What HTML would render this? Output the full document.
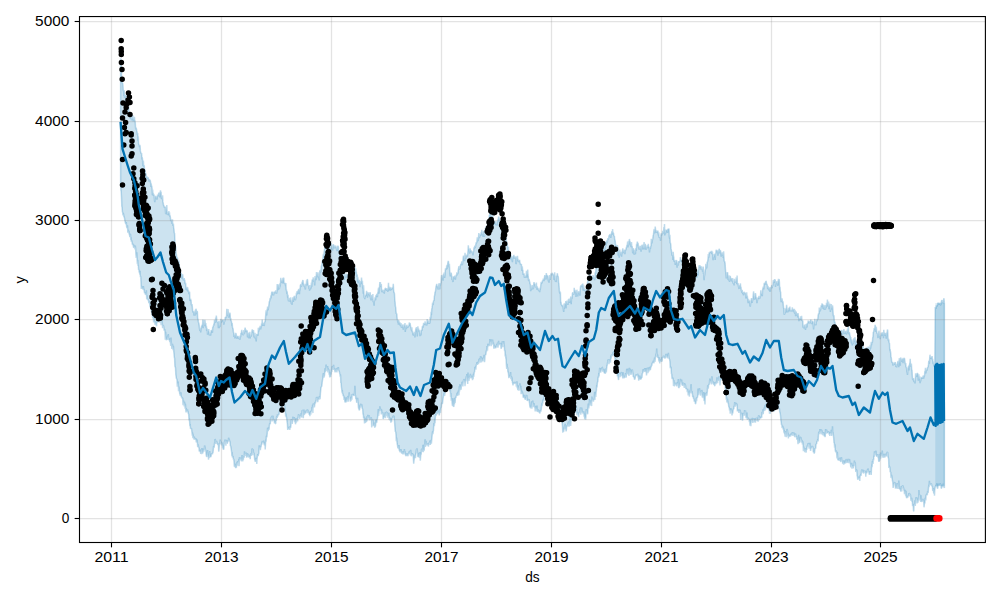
<!DOCTYPE html><html><head><meta charset="utf-8"><title>forecast</title><style>html,body{margin:0;padding:0;background:#fff}body{width:1000px;height:600px;overflow:hidden}</style></head><body><svg width="1000" height="600" viewBox="0 0 1000 600" style="display:block;font-family:'Liberation Sans',sans-serif">
<rect width="1000" height="600" fill="#fff"/>
<defs><clipPath id="c"><rect x="79.50" y="16.55" width="905.90" height="525.95"/></clipPath></defs>
<g clip-path="url(#c)">
<path d="M120.6 58.3L120.9 66.7L121.2 65.8L121.5 74.2L121.8 78.5L122.1 82.3L122.4 83.1L122.7 83.3L123.0 85.7L123.3 91.1L123.6 90.1L123.9 96.0L124.2 90.4L124.5 97.8L124.8 97.0L125.1 94.6L125.4 96.1L125.7 98.5L126.0 95.0L126.3 102.1L126.6 101.5L126.9 103.2L127.2 103.9L127.5 109.2L127.8 105.0L128.1 107.2L128.4 109.7L128.7 105.6L129.0 112.5L129.3 111.5L129.6 115.2L129.9 116.5L130.2 117.0L130.5 118.8L130.8 114.8L131.1 116.4L131.4 120.2L131.7 119.0L132.0 115.1L132.3 119.2L132.6 118.5L132.9 115.3L133.2 121.4L133.5 117.6L133.8 118.7L134.1 121.2L134.4 116.9L134.7 120.2L135.0 120.6L135.3 123.0L135.6 128.2L135.9 129.4L136.2 127.5L136.5 129.5L136.8 131.0L137.1 132.2L137.4 135.0L137.7 133.0L138.0 140.9L138.3 136.4L138.6 143.5L138.9 144.6L139.2 145.0L139.5 147.1L139.8 144.9L140.1 145.9L140.4 150.9L140.7 152.4L141.0 152.9L141.3 153.9L141.6 153.1L141.9 159.4L142.2 157.0L142.5 159.0L142.8 165.7L143.1 165.6L143.4 160.6L143.7 166.6L144.0 165.3L144.3 166.5L144.6 171.6L144.9 169.5L145.2 171.4L145.5 173.6L145.8 173.5L146.1 174.4L146.4 178.1L146.7 176.2L147.0 177.4L147.3 176.9L147.6 178.8L147.9 178.2L148.2 177.5L148.5 179.1L148.8 179.8L149.1 181.7L149.4 179.2L149.7 180.1L150.0 180.3L150.3 180.7L150.6 182.6L150.9 187.0L151.2 183.4L151.5 186.1L151.8 186.2L152.1 188.3L152.4 195.2L152.7 189.6L153.0 195.5L153.3 192.7L153.6 196.0L153.9 194.3L154.2 195.8L154.5 200.3L154.8 202.2L155.1 197.4L155.4 196.5L155.7 196.0L156.0 198.5L156.3 197.0L156.6 197.1L156.9 199.6L157.2 198.0L157.5 194.5L157.8 196.3L158.1 195.8L158.4 195.0L158.7 193.2L159.0 193.1L159.3 192.7L159.6 195.5L159.9 197.5L160.2 192.5L160.5 190.3L160.8 193.6L161.1 191.7L161.4 198.9L161.7 195.4L162.0 199.3L162.3 198.7L162.6 195.3L162.9 201.9L163.2 202.9L163.5 205.1L163.8 205.8L164.1 205.9L164.4 207.7L164.7 207.4L165.0 207.0L165.3 207.0L165.6 213.4L165.9 213.9L166.2 207.5L166.5 211.9L166.8 205.1L167.1 211.5L167.4 214.9L167.7 214.3L168.0 213.3L168.3 212.0L168.6 214.4L168.9 211.0L169.2 215.7L169.5 212.4L169.8 216.7L170.1 215.4L170.4 217.3L170.7 220.8L171.0 219.3L171.3 221.3L171.6 220.5L171.9 223.2L172.2 223.5L172.5 219.2L172.8 225.8L173.1 225.4L173.4 223.6L173.7 228.2L174.0 229.2L174.3 233.2L174.6 233.2L174.9 241.4L175.2 245.3L175.5 247.2L175.8 246.6L176.1 253.5L176.4 254.5L176.7 256.6L177.0 258.4L177.3 257.8L177.6 258.0L177.9 262.8L178.2 262.5L178.5 264.6L178.8 260.3L179.1 262.8L179.4 267.5L179.7 270.3L180.0 272.8L180.3 274.3L180.6 273.5L180.9 272.6L181.2 273.5L181.5 274.0L181.8 278.8L182.1 274.1L182.4 277.8L182.7 274.2L183.0 277.8L183.3 280.5L183.6 278.4L183.9 280.1L184.2 278.0L184.5 280.9L184.8 279.9L185.1 284.3L185.4 282.8L185.7 283.5L186.0 289.9L186.3 287.6L186.6 288.5L186.9 286.7L187.2 290.6L187.5 287.3L187.8 288.5L188.1 291.7L188.4 289.9L188.7 292.5L189.0 294.1L189.3 292.1L189.6 291.7L189.9 301.1L190.2 300.1L190.5 298.7L190.8 299.6L191.1 300.4L191.4 305.3L191.7 304.9L192.0 304.0L192.3 306.5L192.6 310.4L192.9 312.3L193.2 311.0L193.5 312.4L193.8 312.6L194.1 315.8L194.4 311.4L194.7 312.2L195.0 315.8L195.3 309.7L195.6 314.5L195.9 308.8L196.2 309.8L196.5 312.5L196.8 314.0L197.1 311.0L197.4 312.0L197.7 319.4L198.0 318.5L198.3 321.2L198.6 322.9L198.9 323.4L199.2 325.3L199.5 328.6L199.8 330.1L200.1 330.8L200.4 327.7L200.7 332.4L201.0 328.1L201.3 328.4L201.6 325.6L201.9 326.2L202.2 324.6L202.5 325.8L202.8 319.6L203.1 328.1L203.4 326.6L203.7 319.8L204.0 323.1L204.3 325.7L204.6 325.3L204.9 319.8L205.2 322.4L205.5 325.5L205.8 323.1L206.1 327.7L206.4 325.7L206.7 330.9L207.0 328.3L207.3 330.1L207.6 334.6L207.9 333.1L208.2 330.8L208.5 330.9L208.8 329.1L209.1 333.0L209.4 335.5L209.7 334.0L210.0 334.7L210.3 332.2L210.6 335.6L210.9 332.6L211.2 330.2L211.5 331.1L211.8 329.9L212.1 330.7L212.4 332.8L212.7 327.1L213.0 327.3L213.3 325.7L213.6 326.0L213.9 323.5L214.2 324.7L214.5 319.8L214.8 321.4L215.1 323.0L215.4 321.2L215.7 317.6L216.0 321.0L216.3 315.6L216.6 318.1L216.9 321.7L217.2 321.7L217.5 322.9L217.8 322.4L218.1 321.6L218.4 328.3L218.7 322.7L219.0 320.8L219.3 328.2L219.6 325.3L219.9 325.6L220.2 326.8L220.5 323.3L220.8 318.9L221.1 322.8L221.4 320.5L221.7 321.2L222.0 319.9L222.3 320.3L222.6 319.8L222.9 320.4L223.2 322.1L223.5 319.6L223.8 324.7L224.1 322.7L224.4 321.8L224.7 321.4L225.0 319.2L225.3 317.0L225.6 317.1L225.9 317.3L226.2 318.2L226.5 316.4L226.8 308.9L227.1 313.3L227.4 315.5L227.7 314.9L228.0 309.0L228.3 313.4L228.6 317.7L228.9 316.3L229.2 313.7L229.5 314.5L229.8 312.7L230.1 313.6L230.4 318.8L230.7 318.0L231.0 320.7L231.3 320.9L231.6 322.3L231.9 325.7L232.2 323.0L232.5 327.5L232.8 328.1L233.1 328.8L233.4 331.7L233.7 333.2L234.0 337.0L234.3 334.6L234.6 335.1L234.9 338.4L235.2 336.5L235.5 332.8L235.8 336.2L236.1 333.3L236.4 337.1L236.7 338.6L237.0 336.0L237.3 336.9L237.6 336.2L237.9 336.3L238.2 338.6L238.5 336.2L238.8 338.3L239.1 338.6L239.4 336.8L239.7 339.7L240.0 339.0L240.3 335.2L240.6 337.2L240.9 333.0L241.2 333.8L241.5 331.9L241.8 329.9L242.1 333.3L242.4 334.3L242.7 331.5L243.0 335.1L243.3 334.7L243.6 334.4L243.9 330.0L244.2 332.3L244.5 333.6L244.8 329.6L245.1 327.5L245.4 329.5L245.7 331.7L246.0 329.5L246.3 332.2L246.6 330.3L246.9 330.9L247.2 330.5L247.5 337.2L247.8 333.8L248.1 332.9L248.4 338.0L248.7 332.5L249.0 338.4L249.3 332.6L249.6 335.2L249.9 331.9L250.2 338.4L250.5 335.0L250.8 336.9L251.1 335.6L251.4 335.8L251.7 333.6L252.0 330.6L252.3 329.5L252.6 331.1L252.9 332.0L253.2 332.2L253.5 330.0L253.8 334.2L254.1 337.5L254.4 336.5L254.7 335.8L255.0 332.9L255.3 338.7L255.6 338.6L255.9 336.1L256.2 341.4L256.5 336.4L256.8 333.9L257.1 334.6L257.4 334.0L257.7 334.2L258.0 335.8L258.3 327.7L258.6 331.6L258.9 329.8L259.2 328.1L259.5 327.5L259.8 329.4L260.1 325.9L260.4 326.8L260.7 329.5L261.0 326.2L261.3 327.4L261.6 323.3L261.9 324.7L262.2 319.5L262.5 323.7L262.8 324.8L263.1 325.7L263.4 323.9L263.7 322.7L264.0 325.8L264.3 325.4L264.6 322.0L264.9 321.7L265.2 321.9L265.5 317.9L265.8 313.5L266.1 310.4L266.4 312.4L266.7 315.4L267.0 309.3L267.3 309.8L267.6 306.5L267.9 309.9L268.2 309.8L268.5 307.4L268.8 305.5L269.1 303.0L269.4 301.3L269.7 301.1L270.0 298.7L270.3 298.2L270.6 299.3L270.9 295.3L271.2 297.7L271.5 293.8L271.8 292.1L272.1 292.0L272.4 291.8L272.7 293.3L273.0 295.3L273.3 293.7L273.6 295.3L273.9 292.5L274.2 291.7L274.5 292.1L274.8 293.4L275.1 291.3L275.4 293.4L275.7 290.2L276.0 293.2L276.3 291.8L276.6 293.6L276.9 291.7L277.2 284.1L277.5 285.6L277.8 289.9L278.1 289.3L278.4 284.2L278.7 286.2L279.0 288.1L279.3 289.2L279.6 287.7L279.9 283.4L280.2 286.5L280.5 282.5L280.8 277.9L281.1 280.6L281.4 283.0L281.7 279.9L282.0 281.2L282.3 279.5L282.6 283.5L282.9 277.7L283.2 280.7L283.5 278.2L283.8 277.8L284.1 283.5L284.4 283.2L284.7 282.8L285.0 284.1L285.3 282.8L285.6 286.3L285.9 283.1L286.2 290.5L286.5 289.6L286.8 293.7L287.1 291.3L287.4 294.1L287.7 297.7L288.0 294.8L288.3 299.8L288.6 301.4L288.9 300.1L289.2 298.0L289.5 300.9L289.8 301.0L290.1 300.6L290.4 297.4L290.7 300.8L291.0 300.3L291.3 303.8L291.6 300.6L291.9 304.8L292.2 302.8L292.5 297.4L292.8 300.7L293.1 298.2L293.4 301.9L293.7 297.8L294.0 296.9L294.3 296.0L294.6 299.7L294.9 295.9L295.2 299.6L295.5 300.1L295.8 298.1L296.1 297.8L296.4 292.8L296.7 294.9L297.0 291.2L297.3 291.6L297.6 294.0L297.9 290.5L298.2 293.8L298.5 289.5L298.8 289.6L299.1 289.6L299.4 294.1L299.7 288.4L300.0 290.5L300.3 285.8L300.6 284.6L300.9 284.6L301.2 286.7L301.5 286.5L301.8 284.7L302.1 281.9L302.4 283.2L302.7 280.7L303.0 280.2L303.3 282.9L303.6 284.7L303.9 283.8L304.2 286.8L304.5 286.1L304.8 285.3L305.1 287.8L305.4 289.5L305.7 283.8L306.0 285.5L306.3 284.8L306.6 280.4L306.9 285.0L307.2 279.4L307.5 279.6L307.8 282.8L308.1 285.4L308.4 285.7L308.7 286.3L309.0 289.0L309.3 288.4L309.6 290.6L309.9 285.0L310.2 287.1L310.5 289.5L310.8 287.0L311.1 288.5L311.4 282.5L311.7 286.9L312.0 281.2L312.3 279.9L312.6 279.6L312.9 280.8L313.2 277.4L313.5 280.4L313.8 281.6L314.1 279.3L314.4 281.5L314.7 285.4L315.0 275.9L315.3 278.1L315.6 277.4L315.9 280.1L316.2 277.6L316.5 272.1L316.8 275.7L317.1 272.5L317.4 275.8L317.7 276.4L318.0 272.4L318.3 278.2L318.6 276.3L318.9 275.8L319.2 280.4L319.5 277.4L319.8 270.2L320.1 271.9L320.4 272.6L320.7 269.6L321.0 272.0L321.3 265.6L321.6 266.0L321.9 263.9L322.2 261.0L322.5 260.7L322.8 260.0L323.1 256.0L323.4 253.9L323.7 257.9L324.0 252.8L324.3 250.9L324.6 249.1L324.9 247.1L325.2 244.8L325.5 247.1L325.8 248.0L326.1 248.5L326.4 245.4L326.7 248.1L327.0 246.7L327.3 246.6L327.6 246.7L327.9 248.9L328.2 249.5L328.5 249.0L328.8 244.9L329.1 249.9L329.4 245.8L329.7 249.1L330.0 250.2L330.3 249.2L330.6 251.8L330.9 247.9L331.2 243.0L331.5 247.7L331.8 246.6L332.1 249.3L332.4 244.7L332.7 250.5L333.0 246.3L333.3 244.3L333.6 244.8L333.9 247.3L334.2 248.0L334.5 247.6L334.8 245.5L335.1 247.0L335.4 247.9L335.7 245.7L336.0 247.2L336.3 247.8L336.6 249.5L336.9 249.3L337.2 251.0L337.5 246.9L337.8 246.0L338.1 246.1L338.4 247.1L338.7 251.0L339.0 251.4L339.3 251.8L339.6 250.9L339.9 255.1L340.2 256.9L340.5 259.0L340.8 264.5L341.1 267.6L341.4 264.0L341.7 269.7L342.0 268.4L342.3 275.1L342.6 271.5L342.9 272.7L343.2 276.7L343.5 276.8L343.8 277.4L344.1 277.7L344.4 279.9L344.7 271.0L345.0 277.5L345.3 275.6L345.6 274.7L345.9 278.2L346.2 276.5L346.5 273.6L346.8 276.6L347.1 274.2L347.4 275.2L347.7 276.3L348.0 274.0L348.3 274.1L348.6 276.0L348.9 276.4L349.2 276.5L349.5 277.3L349.8 270.6L350.1 271.4L350.4 275.6L350.7 272.0L351.0 272.2L351.3 271.3L351.6 271.3L351.9 275.7L352.2 275.7L352.5 272.8L352.8 267.4L353.1 268.7L353.4 269.8L353.7 271.4L354.0 270.7L354.3 269.1L354.6 271.1L354.9 266.6L355.2 272.2L355.5 273.2L355.8 268.2L356.1 271.6L356.4 272.3L356.7 276.8L357.0 274.7L357.3 275.3L357.6 281.6L357.9 277.3L358.2 283.2L358.5 279.8L358.8 280.9L359.1 279.7L359.4 283.1L359.7 283.7L360.0 287.2L360.3 281.1L360.6 284.4L360.9 281.0L361.2 282.1L361.5 277.5L361.8 280.9L362.1 284.0L362.4 280.7L362.7 288.5L363.0 285.1L363.3 293.7L363.6 285.4L363.9 291.2L364.2 297.8L364.5 297.4L364.8 299.1L365.1 294.8L365.4 296.1L365.7 295.8L366.0 295.2L366.3 293.6L366.6 290.9L366.9 293.8L367.2 293.2L367.5 297.8L367.8 292.8L368.1 292.5L368.4 294.0L368.7 294.3L369.0 294.4L369.3 294.8L369.6 296.3L369.9 292.2L370.2 293.1L370.5 298.2L370.8 298.5L371.1 300.3L371.4 298.0L371.7 295.8L372.0 295.0L372.3 299.7L372.6 299.4L372.9 294.0L373.2 302.3L373.5 300.4L373.8 302.0L374.1 305.6L374.4 300.4L374.7 300.8L375.0 297.7L375.3 297.4L375.6 300.2L375.9 295.3L376.2 296.6L376.5 295.4L376.8 293.9L377.1 295.6L377.4 297.1L377.7 292.5L378.0 292.4L378.3 289.1L378.6 287.6L378.9 293.8L379.2 287.6L379.5 287.6L379.8 282.0L380.1 286.6L380.4 282.1L380.7 286.8L381.0 286.2L381.3 284.1L381.6 290.7L381.9 292.2L382.2 289.7L382.5 290.4L382.8 292.0L383.1 291.5L383.4 292.4L383.7 291.9L384.0 289.7L384.3 293.7L384.6 289.8L384.9 289.8L385.2 288.1L385.5 288.4L385.8 289.0L386.1 288.9L386.4 290.3L386.7 288.1L387.0 290.9L387.3 288.9L387.6 289.0L387.9 291.8L388.2 287.6L388.5 282.9L388.8 290.5L389.1 289.3L389.4 288.3L389.7 287.3L390.0 287.4L390.3 288.1L390.6 290.7L390.9 287.8L391.2 289.0L391.5 289.5L391.8 289.0L392.1 287.5L392.4 288.7L392.7 287.7L393.0 287.0L393.3 283.7L393.6 289.8L393.9 292.7L394.2 292.3L394.5 293.9L394.8 300.0L395.1 301.9L395.4 306.3L395.7 307.4L396.0 311.1L396.3 313.8L396.6 313.5L396.9 314.4L397.2 319.1L397.5 319.8L397.8 322.3L398.1 319.7L398.4 324.8L398.7 320.6L399.0 321.1L399.3 324.4L399.6 322.5L399.9 322.8L400.2 325.3L400.5 325.7L400.8 323.5L401.1 323.3L401.4 327.7L401.7 326.6L402.0 326.5L402.3 327.6L402.6 325.3L402.9 324.5L403.2 329.6L403.5 326.8L403.8 326.5L404.1 327.0L404.4 324.4L404.7 326.1L405.0 323.1L405.3 331.9L405.6 327.1L405.9 326.6L406.2 325.6L406.5 329.3L406.8 324.7L407.1 327.6L407.4 325.7L407.7 327.8L408.0 326.6L408.3 327.1L408.6 325.8L408.9 325.9L409.2 323.1L409.5 322.6L409.8 325.3L410.1 323.2L410.4 325.3L410.7 327.2L411.0 327.3L411.3 330.0L411.6 330.4L411.9 327.2L412.2 332.3L412.5 330.7L412.8 333.7L413.1 335.3L413.4 333.6L413.7 333.5L414.0 332.5L414.3 336.0L414.6 331.9L414.9 337.4L415.2 335.0L415.5 331.4L415.8 328.3L416.1 331.6L416.4 327.0L416.7 329.3L417.0 328.5L417.3 336.5L417.6 330.1L417.9 326.4L418.2 330.1L418.5 328.4L418.8 331.4L419.1 331.3L419.4 329.9L419.7 332.8L420.0 336.1L420.3 332.7L420.6 333.2L420.9 335.5L421.2 330.7L421.5 329.7L421.8 330.8L422.1 329.0L422.4 326.3L422.7 326.1L423.0 327.2L423.3 326.8L423.6 322.7L423.9 325.2L424.2 323.1L424.5 323.7L424.8 324.4L425.1 321.4L425.4 324.8L425.7 324.7L426.0 322.7L426.3 323.6L426.6 325.5L426.9 324.3L427.2 319.1L427.5 322.2L427.8 320.3L428.1 323.9L428.4 322.8L428.7 322.8L429.0 320.6L429.3 323.6L429.6 323.1L429.9 322.9L430.2 316.8L430.5 319.1L430.8 317.4L431.1 311.8L431.4 315.0L431.7 309.3L432.0 307.9L432.3 305.9L432.6 302.5L432.9 304.5L433.2 305.0L433.5 300.8L433.8 300.6L434.1 300.5L434.4 296.0L434.7 295.3L435.0 292.0L435.3 292.0L435.6 290.2L435.9 287.5L436.2 286.3L436.5 284.9L436.8 283.9L437.1 286.8L437.4 286.3L437.7 286.4L438.0 288.7L438.3 289.5L438.6 286.3L438.9 284.0L439.2 283.3L439.5 288.4L439.8 289.3L440.1 283.3L440.4 285.5L440.7 282.8L441.0 283.2L441.3 277.6L441.6 275.1L441.9 279.2L442.2 278.0L442.5 275.4L442.8 278.0L443.1 280.7L443.4 274.6L443.7 273.6L444.0 276.8L444.3 272.4L444.6 278.0L444.9 275.7L445.2 271.8L445.5 268.4L445.8 269.9L446.1 268.0L446.4 268.7L446.7 265.3L447.0 269.1L447.3 265.2L447.6 264.7L447.9 262.3L448.2 260.9L448.5 261.7L448.8 266.1L449.1 267.3L449.4 263.9L449.7 270.3L450.0 273.7L450.3 276.5L450.6 273.4L450.9 273.1L451.2 272.8L451.5 274.8L451.8 277.3L452.1 280.0L452.4 277.7L452.7 281.4L453.0 282.0L453.3 276.3L453.6 277.3L453.9 276.6L454.2 279.2L454.5 277.3L454.8 275.7L455.1 276.5L455.4 279.6L455.7 276.5L456.0 276.4L456.3 274.7L456.6 276.0L456.9 272.2L457.2 274.0L457.5 273.0L457.8 274.2L458.1 271.2L458.4 269.2L458.7 267.7L459.0 266.1L459.3 269.6L459.6 268.5L459.9 269.2L460.2 266.0L460.5 265.5L460.8 264.1L461.1 264.0L461.4 264.9L461.7 261.2L462.0 262.9L462.3 265.2L462.6 263.4L462.9 260.9L463.2 257.3L463.5 255.5L463.8 257.1L464.1 258.1L464.4 260.5L464.7 260.5L465.0 252.8L465.3 258.1L465.6 259.0L465.9 255.3L466.2 255.3L466.5 256.7L466.8 256.7L467.1 254.5L467.4 256.4L467.7 254.3L468.0 250.6L468.3 245.3L468.6 248.6L468.9 249.5L469.2 248.9L469.5 251.1L469.8 253.6L470.1 248.4L470.4 249.8L470.7 251.2L471.0 250.9L471.3 250.5L471.6 252.5L471.9 251.9L472.2 252.1L472.5 253.1L472.8 254.0L473.1 255.2L473.4 252.0L473.7 250.4L474.0 247.3L474.3 248.7L474.6 246.9L474.9 245.6L475.2 248.1L475.5 246.9L475.8 244.3L476.1 242.8L476.4 242.4L476.7 243.1L477.0 240.1L477.3 237.3L477.6 241.2L477.9 240.4L478.2 240.9L478.5 237.9L478.8 233.1L479.1 238.1L479.4 236.3L479.7 237.5L480.0 233.8L480.3 235.2L480.6 234.6L480.9 235.7L481.2 232.1L481.5 234.3L481.8 229.7L482.1 234.3L482.4 233.7L482.7 233.7L483.0 236.8L483.3 235.1L483.6 231.1L483.9 231.5L484.2 236.7L484.5 236.1L484.8 233.9L485.1 233.2L485.4 227.8L485.7 230.3L486.0 231.5L486.3 226.1L486.6 226.9L486.9 230.8L487.2 231.5L487.5 225.1L487.8 222.3L488.1 223.6L488.4 221.4L488.7 222.9L489.0 219.8L489.3 215.1L489.6 215.3L489.9 209.6L490.2 218.8L490.5 212.2L490.8 215.3L491.1 215.7L491.4 216.3L491.7 218.8L492.0 219.0L492.3 215.2L492.6 213.4L492.9 220.1L493.2 219.2L493.5 224.6L493.8 220.9L494.1 222.5L494.4 221.9L494.7 221.9L495.0 224.1L495.3 223.7L495.6 221.2L495.9 224.7L496.2 225.0L496.5 224.0L496.8 222.9L497.1 225.4L497.4 220.7L497.7 222.1L498.0 219.4L498.3 219.2L498.6 216.6L498.9 217.0L499.2 219.0L499.5 218.6L499.8 224.1L500.1 220.6L500.4 223.6L500.7 221.5L501.0 223.4L501.3 226.5L501.6 225.7L501.9 226.6L502.2 227.1L502.5 224.0L502.8 229.1L503.1 229.2L503.4 225.5L503.7 227.7L504.0 225.6L504.3 230.4L504.6 229.2L504.9 231.2L505.2 232.8L505.5 232.8L505.8 234.1L506.1 235.2L506.4 244.3L506.7 240.8L507.0 244.2L507.3 244.5L507.6 247.7L507.9 247.6L508.2 251.9L508.5 246.8L508.8 257.1L509.1 253.1L509.4 254.9L509.7 259.3L510.0 255.1L510.3 259.0L510.6 257.9L510.9 254.3L511.2 258.5L511.5 260.0L511.8 256.4L512.1 257.6L512.4 262.3L512.7 257.0L513.0 258.3L513.3 256.5L513.6 256.1L513.9 254.8L514.2 258.0L514.5 258.5L514.8 256.6L515.1 256.7L515.4 258.4L515.7 257.3L516.0 263.6L516.3 263.7L516.6 259.0L516.9 256.3L517.2 260.2L517.5 255.8L517.8 259.8L518.1 261.4L518.4 259.4L518.7 262.2L519.0 260.3L519.3 261.1L519.6 259.8L519.9 262.2L520.2 262.9L520.5 264.7L520.8 264.5L521.1 264.3L521.4 264.0L521.7 269.6L522.0 270.7L522.3 266.2L522.6 270.0L522.9 270.3L523.2 274.9L523.5 273.8L523.8 273.7L524.1 273.8L524.4 277.7L524.7 276.2L525.0 278.0L525.3 275.7L525.6 277.3L525.9 276.5L526.2 274.4L526.5 270.7L526.8 277.6L527.1 274.1L527.4 275.1L527.7 269.5L528.0 274.7L528.3 276.9L528.6 280.8L528.9 279.4L529.2 279.6L529.5 281.6L529.8 282.2L530.1 283.9L530.4 284.4L530.7 291.1L531.0 289.4L531.3 285.7L531.6 290.0L531.9 288.0L532.2 285.1L532.5 287.2L532.8 289.0L533.1 288.7L533.4 288.6L533.7 284.3L534.0 282.2L534.3 283.5L534.6 284.0L534.9 284.6L535.2 285.4L535.5 287.5L535.8 286.7L536.1 287.4L536.4 282.5L536.7 288.8L537.0 289.3L537.3 286.5L537.6 288.1L537.9 288.4L538.2 288.7L538.5 290.3L538.8 290.7L539.1 290.1L539.4 290.5L539.7 292.2L540.0 287.9L540.3 289.6L540.6 286.5L540.9 284.1L541.2 281.8L541.5 282.7L541.8 283.0L542.1 283.0L542.4 280.6L542.7 281.0L543.0 280.0L543.3 278.6L543.6 280.1L543.9 281.1L544.2 279.0L544.5 277.0L544.8 275.2L545.1 276.3L545.4 275.1L545.7 279.5L546.0 278.5L546.3 273.0L546.6 275.3L546.9 275.2L547.2 275.6L547.5 275.8L547.8 276.1L548.1 278.6L548.4 281.3L548.7 277.7L549.0 282.6L549.3 280.2L549.6 275.1L549.9 278.7L550.2 279.8L550.5 276.9L550.8 275.0L551.1 273.4L551.4 274.9L551.7 274.2L552.0 273.4L552.3 272.8L552.6 275.2L552.9 274.0L553.2 275.4L553.5 274.6L553.8 275.0L554.1 280.0L554.4 275.3L554.7 272.3L555.0 277.3L555.3 281.4L555.6 279.7L555.9 281.8L556.2 281.3L556.5 275.5L556.8 276.5L557.1 274.6L557.4 273.2L557.7 276.5L558.0 276.2L558.3 276.8L558.6 282.5L558.9 283.7L559.2 287.5L559.5 292.4L559.8 291.1L560.1 293.8L560.4 292.1L560.7 303.2L561.0 301.8L561.3 304.9L561.6 304.8L561.9 305.7L562.2 304.8L562.5 306.9L562.8 305.8L563.1 307.1L563.4 309.6L563.7 311.9L564.0 303.5L564.3 308.8L564.6 306.3L564.9 303.2L565.2 304.0L565.5 304.0L565.8 301.0L566.1 308.4L566.4 301.8L566.7 302.6L567.0 300.6L567.3 304.4L567.6 302.8L567.9 304.8L568.2 302.7L568.5 299.0L568.8 302.4L569.1 298.5L569.4 302.8L569.7 302.0L570.0 300.7L570.3 301.7L570.6 298.0L570.9 296.5L571.2 304.1L571.5 298.7L571.8 296.5L572.1 298.8L572.4 293.5L572.7 292.6L573.0 292.7L573.3 294.2L573.6 294.2L573.9 294.5L574.2 287.7L574.5 292.0L574.8 290.1L575.1 290.3L575.4 292.7L575.7 290.9L576.0 297.0L576.3 292.2L576.6 293.4L576.9 289.7L577.2 292.0L577.5 294.0L577.8 296.4L578.1 292.0L578.4 294.2L578.7 292.2L579.0 291.2L579.3 291.9L579.6 293.0L579.9 295.7L580.2 289.8L580.5 286.7L580.8 285.4L581.1 287.1L581.4 285.6L581.7 285.7L582.0 284.5L582.3 287.2L582.6 283.9L582.9 284.1L583.2 290.6L583.5 288.0L583.8 285.3L584.1 290.8L584.4 288.4L584.7 290.8L585.0 289.0L585.3 290.5L585.6 291.6L585.9 293.2L586.2 289.0L586.5 290.4L586.8 289.6L587.1 287.0L587.4 282.8L587.7 281.6L588.0 280.3L588.3 276.1L588.6 280.5L588.9 276.0L589.2 277.9L589.5 272.8L589.8 278.5L590.1 271.8L590.4 280.0L590.7 276.1L591.0 277.5L591.3 275.6L591.6 278.3L591.9 275.5L592.2 279.2L592.5 277.3L592.8 278.9L593.1 275.0L593.4 278.5L593.7 277.9L594.0 277.2L594.3 277.5L594.6 280.2L594.9 278.1L595.2 272.2L595.5 274.0L595.8 271.1L596.1 267.6L596.4 269.5L596.7 267.9L597.0 267.1L597.3 265.5L597.6 263.0L597.9 261.8L598.2 256.4L598.5 256.9L598.8 258.2L599.1 249.9L599.4 250.0L599.7 249.8L600.0 251.7L600.3 250.3L600.6 247.5L600.9 248.5L601.2 247.1L601.5 248.2L601.8 245.3L602.1 250.7L602.4 244.5L602.7 245.2L603.0 248.8L603.3 248.1L603.6 248.3L603.9 248.9L604.2 251.4L604.5 246.5L604.8 249.4L605.1 248.5L605.4 241.8L605.7 246.2L606.0 243.9L606.3 240.8L606.6 243.6L606.9 240.3L607.2 242.7L607.5 241.0L607.8 238.4L608.1 238.6L608.4 239.6L608.7 237.9L609.0 235.6L609.3 235.6L609.6 235.7L609.9 234.2L610.2 234.5L610.5 234.9L610.8 238.0L611.1 234.2L611.4 234.2L611.7 232.5L612.0 231.3L612.3 234.7L612.6 229.1L612.9 233.6L613.2 232.9L613.5 233.1L613.8 235.7L614.1 236.1L614.4 236.0L614.7 239.8L615.0 239.9L615.3 242.1L615.6 245.2L615.9 245.6L616.2 248.8L616.5 244.9L616.8 250.0L617.1 250.3L617.4 245.1L617.7 247.1L618.0 247.7L618.3 255.8L618.6 250.6L618.9 252.6L619.2 257.8L619.5 253.6L619.8 249.6L620.1 252.6L620.4 252.3L620.7 254.7L621.0 254.8L621.3 251.8L621.6 256.6L621.9 251.6L622.2 253.5L622.5 249.9L622.8 248.4L623.1 253.1L623.4 249.8L623.7 253.1L624.0 250.0L624.3 250.1L624.6 251.9L624.9 254.2L625.2 249.7L625.5 250.2L625.8 249.9L626.1 248.5L626.4 247.4L626.7 246.4L627.0 245.0L627.3 245.0L627.6 241.6L627.9 247.3L628.2 245.9L628.5 240.7L628.8 245.4L629.1 243.7L629.4 239.0L629.7 240.7L630.0 241.4L630.3 242.5L630.6 244.0L630.9 246.2L631.2 247.1L631.5 242.0L631.8 246.6L632.1 246.0L632.4 248.1L632.7 253.3L633.0 251.2L633.3 248.5L633.6 248.7L633.9 253.2L634.2 254.6L634.5 249.7L634.8 254.4L635.1 250.6L635.4 254.3L635.7 249.3L636.0 248.2L636.3 250.6L636.6 243.7L636.9 245.3L637.2 242.2L637.5 241.8L637.8 245.4L638.1 243.1L638.4 247.1L638.7 247.4L639.0 248.8L639.3 249.4L639.6 247.9L639.9 246.8L640.2 245.8L640.5 249.6L640.8 248.1L641.1 251.7L641.4 249.5L641.7 246.5L642.0 244.8L642.3 246.9L642.6 244.5L642.9 249.3L643.2 247.0L643.5 249.0L643.8 244.9L644.1 242.1L644.4 249.4L644.7 247.7L645.0 244.7L645.3 243.9L645.6 246.9L645.9 248.8L646.2 249.7L646.5 248.1L646.8 246.6L647.1 247.9L647.4 245.1L647.7 248.1L648.0 247.2L648.3 243.9L648.6 247.1L648.9 246.8L649.2 248.2L649.5 252.4L649.8 249.1L650.1 247.0L650.4 248.8L650.7 245.9L651.0 246.1L651.3 238.9L651.6 241.5L651.9 243.5L652.2 241.0L652.5 239.7L652.8 238.4L653.1 235.7L653.4 234.7L653.7 232.5L654.0 229.7L654.3 229.4L654.6 232.2L654.9 233.3L655.2 226.6L655.5 229.1L655.8 231.3L656.1 232.2L656.4 230.4L656.7 232.6L657.0 232.3L657.3 230.5L657.6 233.1L657.9 230.5L658.2 233.6L658.5 235.7L658.8 232.4L659.1 236.9L659.4 237.7L659.7 237.2L660.0 237.0L660.3 238.1L660.6 240.8L660.9 234.9L661.2 233.5L661.5 235.8L661.8 233.8L662.1 233.5L662.4 234.4L662.7 230.9L663.0 233.5L663.3 231.9L663.6 233.0L663.9 227.0L664.2 231.0L664.5 224.1L664.8 235.4L665.1 229.2L665.4 234.1L665.7 232.9L666.0 231.4L666.3 229.8L666.6 230.6L666.9 230.3L667.2 229.6L667.5 232.9L667.8 229.4L668.1 229.2L668.4 229.1L668.7 229.3L669.0 228.6L669.3 236.7L669.6 238.6L669.9 234.8L670.2 243.1L670.5 242.8L670.8 244.8L671.1 248.9L671.4 250.1L671.7 252.8L672.0 255.1L672.3 255.3L672.6 254.3L672.9 259.9L673.2 251.9L673.5 256.2L673.8 257.1L674.1 261.8L674.4 261.1L674.7 260.4L675.0 260.2L675.3 265.0L675.6 261.5L675.9 263.2L676.2 260.9L676.5 260.1L676.8 261.9L677.1 267.8L677.4 263.7L677.7 262.7L678.0 265.1L678.3 264.9L678.6 261.0L678.9 261.8L679.2 262.7L679.5 261.1L679.8 261.0L680.1 260.9L680.4 257.0L680.7 259.2L681.0 260.2L681.3 260.8L681.6 261.9L681.9 260.0L682.2 262.9L682.5 260.3L682.8 261.1L683.1 262.5L683.4 261.6L683.7 261.0L684.0 262.1L684.3 259.2L684.6 264.6L684.9 264.3L685.2 265.0L685.5 264.1L685.8 266.2L686.1 265.4L686.4 267.0L686.7 265.3L687.0 262.4L687.3 263.6L687.6 265.0L687.9 265.1L688.2 266.9L688.5 264.4L688.8 267.4L689.1 263.0L689.4 266.4L689.7 268.7L690.0 265.3L690.3 262.6L690.6 266.4L690.9 264.2L691.2 261.9L691.5 262.9L691.8 265.9L692.1 268.0L692.4 268.1L692.7 271.4L693.0 272.1L693.3 273.0L693.6 273.2L693.9 276.7L694.2 275.1L694.5 277.1L694.8 273.6L695.1 276.2L695.4 277.3L695.7 274.8L696.0 270.2L696.3 275.9L696.6 277.2L696.9 277.6L697.2 273.4L697.5 272.4L697.8 269.8L698.1 275.5L698.4 269.4L698.7 270.0L699.0 265.4L699.3 267.8L699.6 265.0L699.9 268.0L700.2 266.2L700.5 266.4L700.8 266.8L701.1 269.8L701.4 266.3L701.7 269.8L702.0 269.0L702.3 269.1L702.6 271.7L702.9 268.4L703.2 266.5L703.5 274.0L703.8 273.0L704.1 280.2L704.4 276.4L704.7 274.9L705.0 271.6L705.3 269.7L705.6 269.3L705.9 263.8L706.2 265.1L706.5 268.3L706.8 267.2L707.1 261.8L707.4 262.0L707.7 261.3L708.0 258.6L708.3 254.1L708.6 258.0L708.9 256.2L709.2 252.2L709.5 252.9L709.8 252.9L710.1 251.7L710.4 252.7L710.7 251.6L711.0 252.5L711.3 251.0L711.6 254.0L711.9 250.7L712.2 254.5L712.5 251.7L712.8 255.9L713.1 260.3L713.4 256.2L713.7 257.4L714.0 256.4L714.3 254.0L714.6 255.8L714.9 253.6L715.2 260.0L715.5 254.1L715.8 253.5L716.1 249.8L716.4 250.7L716.7 250.6L717.0 252.3L717.3 250.4L717.6 250.9L717.9 255.8L718.2 249.7L718.5 253.1L718.8 252.2L719.1 248.7L719.4 249.6L719.7 253.5L720.0 250.7L720.3 250.5L720.6 250.9L720.9 254.0L721.2 256.7L721.5 252.4L721.8 254.2L722.1 252.2L722.4 255.8L722.7 255.4L723.0 253.5L723.3 257.9L723.6 251.3L723.9 256.1L724.2 260.9L724.5 261.5L724.8 262.0L725.1 263.2L725.4 268.5L725.7 272.3L726.0 274.3L726.3 278.4L726.6 277.3L726.9 272.4L727.2 273.1L727.5 272.2L727.8 275.0L728.1 279.8L728.4 279.7L728.7 277.1L729.0 275.4L729.3 280.4L729.6 281.8L729.9 279.1L730.2 275.8L730.5 277.3L730.8 280.5L731.1 278.1L731.4 279.6L731.7 278.5L732.0 281.4L732.3 281.3L732.6 278.1L732.9 282.2L733.2 283.6L733.5 282.8L733.8 283.6L734.1 285.5L734.4 278.9L734.7 281.2L735.0 281.9L735.3 280.8L735.6 282.3L735.9 282.0L736.2 277.4L736.5 279.7L736.8 284.1L737.1 275.5L737.4 284.2L737.7 283.6L738.0 283.1L738.3 285.3L738.6 287.0L738.9 288.4L739.2 288.7L739.5 285.1L739.8 286.2L740.1 285.6L740.4 283.4L740.7 288.4L741.0 286.9L741.3 290.2L741.6 291.0L741.9 292.6L742.2 289.9L742.5 293.0L742.8 293.5L743.1 292.0L743.4 295.3L743.7 293.1L744.0 291.9L744.3 292.4L744.6 294.2L744.9 292.9L745.2 293.4L745.5 292.5L745.8 298.4L746.1 297.1L746.4 296.0L746.7 292.4L747.0 298.3L747.3 295.6L747.6 298.3L747.9 299.9L748.2 303.1L748.5 298.8L748.8 300.9L749.1 301.4L749.4 300.4L749.7 301.3L750.0 305.8L750.3 306.6L750.6 303.1L750.9 303.3L751.2 299.8L751.5 298.1L751.8 299.7L752.1 302.8L752.4 301.2L752.7 300.1L753.0 297.4L753.3 294.1L753.6 291.4L753.9 296.4L754.2 295.9L754.5 299.6L754.8 298.4L755.1 297.1L755.4 293.1L755.7 294.5L756.0 297.1L756.3 299.3L756.6 297.1L756.9 303.2L757.2 301.7L757.5 300.1L757.8 298.9L758.1 298.1L758.4 298.0L758.7 297.6L759.0 295.9L759.3 298.5L759.6 298.9L759.9 297.1L760.2 297.4L760.5 295.9L760.8 290.2L761.1 294.1L761.4 293.0L761.7 294.1L762.0 294.8L762.3 296.1L762.6 289.6L762.9 288.3L763.2 287.7L763.5 286.4L763.8 289.5L764.1 283.9L764.4 283.0L764.7 284.3L765.0 282.7L765.3 284.7L765.6 282.1L765.9 281.2L766.2 281.4L766.5 283.7L766.8 284.2L767.1 284.4L767.4 285.5L767.7 289.2L768.0 286.2L768.3 287.8L768.6 288.5L768.9 290.3L769.2 288.4L769.5 287.5L769.8 291.6L770.1 287.0L770.4 291.8L770.7 287.9L771.0 287.4L771.3 288.4L771.6 285.8L771.9 285.4L772.2 288.3L772.5 284.9L772.8 286.3L773.1 282.6L773.4 280.0L773.7 282.6L774.0 282.2L774.3 280.5L774.6 279.1L774.9 281.4L775.2 279.5L775.5 286.9L775.8 284.0L776.1 284.7L776.4 282.2L776.7 282.5L777.0 281.1L777.3 283.5L777.6 282.9L777.9 285.8L778.2 280.8L778.5 278.9L778.8 282.1L779.1 279.0L779.4 282.0L779.7 289.7L780.0 286.8L780.3 291.6L780.6 291.5L780.9 297.5L781.2 302.2L781.5 300.3L781.8 298.3L782.1 299.2L782.4 301.2L782.7 302.3L783.0 301.3L783.3 305.1L783.6 308.0L783.9 308.5L784.2 314.8L784.5 313.9L784.8 314.2L785.1 309.2L785.4 308.5L785.7 312.9L786.0 311.8L786.3 308.7L786.6 304.9L786.9 307.5L787.2 311.8L787.5 309.0L787.8 312.4L788.1 309.5L788.4 310.5L788.7 307.9L789.0 311.5L789.3 307.5L789.6 308.5L789.9 306.6L790.2 311.1L790.5 310.4L790.8 310.4L791.1 310.5L791.4 309.8L791.7 310.8L792.0 311.4L792.3 307.4L792.6 311.4L792.9 308.8L793.2 310.3L793.5 308.9L793.8 310.2L794.1 312.4L794.4 308.7L794.7 313.6L795.0 312.5L795.3 310.2L795.6 316.3L795.9 312.8L796.2 311.5L796.5 314.3L796.8 315.7L797.1 313.7L797.4 313.8L797.7 317.4L798.0 313.1L798.3 315.4L798.6 316.4L798.9 321.2L799.2 319.6L799.5 319.1L799.8 318.3L800.1 318.7L800.4 318.0L800.7 319.8L801.0 316.0L801.3 320.6L801.6 315.9L801.9 320.9L802.2 320.1L802.5 321.2L802.8 320.6L803.1 327.6L803.4 325.3L803.7 327.8L804.0 328.0L804.3 327.5L804.6 324.6L804.9 325.9L805.2 327.1L805.5 329.8L805.8 327.0L806.1 324.0L806.4 324.2L806.7 326.8L807.0 327.4L807.3 324.4L807.6 322.9L807.9 323.1L808.2 320.7L808.5 322.4L808.8 321.0L809.1 323.5L809.4 321.0L809.7 323.0L810.0 322.8L810.3 322.4L810.6 319.8L810.9 320.1L811.2 322.5L811.5 323.4L811.8 323.8L812.1 321.5L812.4 320.9L812.7 321.7L813.0 321.7L813.3 325.7L813.6 329.5L813.9 324.3L814.2 324.9L814.5 322.6L814.8 318.9L815.1 325.2L815.4 323.7L815.7 323.8L816.0 325.3L816.3 322.0L816.6 319.7L816.9 321.5L817.2 319.3L817.5 318.9L817.8 319.4L818.1 315.0L818.4 314.3L818.7 313.3L819.0 314.2L819.3 307.6L819.6 311.8L819.9 310.3L820.2 308.8L820.5 310.4L820.8 307.9L821.1 306.2L821.4 305.1L821.7 306.9L822.0 303.4L822.3 304.7L822.6 304.1L822.9 306.4L823.2 309.0L823.5 306.0L823.8 304.8L824.1 309.8L824.4 309.1L824.7 306.0L825.0 305.3L825.3 309.5L825.6 308.7L825.9 305.1L826.2 307.6L826.5 302.8L826.8 304.4L827.1 306.0L827.4 299.5L827.7 303.5L828.0 305.6L828.3 306.9L828.6 301.6L828.9 309.2L829.2 306.4L829.5 303.5L829.8 306.6L830.1 303.9L830.4 311.9L830.7 309.5L831.0 309.8L831.3 304.0L831.6 309.0L831.9 307.4L832.2 309.3L832.5 305.3L832.8 307.5L833.1 312.2L833.4 316.2L833.7 315.6L834.0 315.5L834.3 321.0L834.6 322.8L834.9 321.6L835.2 323.7L835.5 325.1L835.8 329.6L836.1 327.5L836.4 330.4L836.7 332.1L837.0 333.7L837.3 333.2L837.6 332.2L837.9 335.5L838.2 329.2L838.5 333.2L838.8 334.2L839.1 331.1L839.4 329.7L839.7 337.4L840.0 333.8L840.3 331.5L840.6 332.7L840.9 334.9L841.2 330.6L841.5 330.7L841.8 330.3L842.1 331.2L842.4 334.7L842.7 333.6L843.0 332.0L843.3 333.4L843.6 331.4L843.9 329.2L844.2 331.8L844.5 333.2L844.8 333.8L845.1 332.2L845.4 330.8L845.7 333.0L846.0 332.2L846.3 332.9L846.6 334.5L846.9 330.6L847.2 333.2L847.5 328.9L847.8 332.4L848.1 327.7L848.4 326.5L848.7 334.1L849.0 333.6L849.3 332.1L849.6 333.3L849.9 335.3L850.2 336.0L850.5 338.5L850.8 337.1L851.1 340.5L851.4 343.3L851.7 339.6L852.0 340.3L852.3 345.4L852.6 342.3L852.9 343.7L853.2 343.4L853.5 343.0L853.8 338.3L854.1 341.9L854.4 340.7L854.7 339.4L855.0 337.2L855.3 340.4L855.6 345.8L855.9 341.2L856.2 342.6L856.5 343.0L856.8 343.4L857.1 345.5L857.4 350.3L857.7 348.1L858.0 350.6L858.3 352.1L858.6 353.0L858.9 353.8L859.2 349.8L859.5 354.5L859.8 350.8L860.1 349.2L860.4 346.0L860.7 350.8L861.0 347.2L861.3 348.2L861.6 350.8L861.9 350.0L862.2 347.4L862.5 351.0L862.8 348.2L863.1 345.2L863.4 350.0L863.7 349.5L864.0 353.9L864.3 351.3L864.6 348.9L864.9 349.5L865.2 348.2L865.5 348.8L865.8 351.6L866.1 351.9L866.4 347.3L866.7 352.1L867.0 350.8L867.3 349.4L867.6 349.8L867.9 348.7L868.2 346.6L868.5 352.8L868.8 351.8L869.1 346.9L869.4 349.2L869.7 350.8L870.0 348.8L870.3 344.8L870.6 348.6L870.9 346.1L871.2 341.8L871.5 345.3L871.8 342.1L872.1 342.5L872.4 342.1L872.7 337.7L873.0 336.7L873.3 332.0L873.6 332.1L873.9 330.5L874.2 328.2L874.5 329.1L874.8 328.3L875.1 324.9L875.4 326.4L875.7 330.3L876.0 331.9L876.3 326.9L876.6 330.3L876.9 332.3L877.2 333.8L877.5 333.4L877.8 337.1L878.1 337.9L878.4 335.0L878.7 333.3L879.0 330.6L879.3 335.9L879.6 336.2L879.9 336.6L880.2 339.2L880.5 337.3L880.8 335.8L881.1 334.0L881.4 332.6L881.7 335.9L882.0 332.5L882.3 333.0L882.6 334.0L882.9 334.9L883.2 334.1L883.5 338.2L883.8 329.8L884.1 333.5L884.4 332.6L884.7 334.7L885.0 335.3L885.3 335.1L885.6 333.7L885.9 333.1L886.2 338.6L886.5 334.8L886.8 332.6L887.1 333.2L887.4 329.6L887.7 330.5L888.0 337.3L888.3 340.7L888.6 338.8L888.9 341.0L889.2 342.7L889.5 343.5L889.8 350.4L890.1 349.1L890.4 351.5L890.7 353.0L891.0 357.3L891.3 357.6L891.6 361.3L891.9 362.3L892.2 362.3L892.5 361.8L892.8 364.7L893.1 365.3L893.4 364.6L893.7 364.2L894.0 362.6L894.3 363.6L894.6 364.8L894.9 362.6L895.2 362.2L895.5 363.7L895.8 367.0L896.1 366.2L896.4 365.0L896.7 367.5L897.0 364.1L897.3 365.0L897.6 362.3L897.9 361.6L898.2 361.2L898.5 363.4L898.8 367.3L899.1 360.8L899.4 358.2L899.7 363.3L900.0 361.3L900.3 365.8L900.6 357.5L900.9 358.5L901.2 359.5L901.5 359.5L901.8 361.9L902.1 359.1L902.4 359.0L902.7 359.8L903.0 363.2L903.3 357.8L903.6 359.9L903.9 358.8L904.2 358.3L904.5 358.4L904.8 360.5L905.1 362.4L905.4 364.5L905.7 363.0L906.0 367.0L906.3 367.1L906.6 368.6L906.9 371.3L907.2 372.5L907.5 374.9L907.8 369.7L908.1 368.1L908.4 366.6L908.7 365.6L909.0 370.5L909.3 366.3L909.6 363.9L909.9 363.1L910.2 358.9L910.5 365.0L910.8 366.2L911.1 366.4L911.4 363.6L911.7 370.3L912.0 369.7L912.3 375.1L912.6 379.3L912.9 380.1L913.2 378.6L913.5 378.1L913.8 380.8L914.1 382.1L914.4 380.8L914.7 380.9L915.0 383.4L915.3 381.4L915.6 373.3L915.9 377.2L916.2 373.8L916.5 374.7L916.8 377.0L917.1 373.5L917.4 373.2L917.7 373.6L918.0 374.8L918.3 380.8L918.6 377.0L918.9 374.2L919.2 379.1L919.5 379.0L919.8 376.2L920.1 383.2L920.4 378.7L920.7 381.5L921.0 378.0L921.3 377.7L921.6 377.3L921.9 378.2L922.2 377.6L922.5 378.8L922.8 376.8L923.1 376.4L923.4 375.4L923.7 378.8L924.0 375.6L924.3 376.3L924.6 374.4L924.9 371.0L925.2 371.1L925.5 367.7L925.8 373.4L926.1 370.8L926.4 369.8L926.7 369.8L927.0 370.6L927.3 369.0L927.6 367.2L927.9 367.3L928.2 366.5L928.5 364.4L928.8 360.8L929.1 361.2L929.4 363.6L929.7 358.0L930.0 354.7L930.3 357.4L930.6 358.3L930.9 357.6L931.2 358.9L931.5 356.6L931.8 358.0L932.1 356.1L932.4 360.2L932.7 358.7L933.0 363.7L933.3 361.4L933.6 364.4L933.9 366.3L934.2 364.2L934.5 363.5L934.8 363.7L935.2 306.9L935.6 308.3L936.0 308.6L936.4 305.4L936.8 306.7L937.2 305.1L937.6 305.0L938.0 302.7L938.4 303.4L938.8 304.0L939.2 303.4L939.6 304.9L940.0 302.5L940.4 304.7L940.8 305.2L941.2 302.4L941.6 300.7L942.0 300.1L942.4 302.4L942.8 301.8L943.2 303.2L943.6 299.7L944.0 298.3L944.4 303.6L944.4 488.1L944.0 485.0L943.6 487.3L943.2 483.6L942.8 486.5L942.4 486.5L942.0 485.3L941.6 488.0L941.2 488.5L940.8 484.6L940.4 483.8L940.0 483.9L939.6 484.4L939.2 485.0L938.8 485.9L938.4 483.6L938.0 486.3L937.6 488.7L937.2 487.1L936.8 483.4L936.4 487.0L936.0 485.0L935.6 486.4L935.2 487.1L934.8 489.8L934.5 495.7L934.2 489.7L933.9 493.7L933.6 492.4L933.3 488.1L933.0 489.5L932.7 491.0L932.4 486.0L932.1 486.2L931.8 485.8L931.5 484.0L931.2 483.7L930.9 484.3L930.6 485.3L930.3 483.5L930.0 484.4L929.7 484.6L929.4 480.9L929.1 487.1L928.8 484.7L928.5 488.0L928.2 492.6L927.9 492.5L927.6 491.3L927.3 495.2L927.0 493.3L926.7 495.3L926.4 494.7L926.1 495.0L925.8 500.4L925.5 499.1L925.2 497.7L924.9 503.5L924.6 502.9L924.3 504.7L924.0 507.3L923.7 500.5L923.4 500.5L923.1 500.2L922.8 499.0L922.5 499.8L922.2 501.2L921.9 501.6L921.6 501.6L921.3 500.6L921.0 495.3L920.7 502.0L920.4 499.5L920.1 499.5L919.8 494.5L919.5 494.9L919.2 495.5L918.9 490.0L918.6 501.0L918.3 498.2L918.0 502.7L917.7 500.1L917.4 499.6L917.1 503.4L916.8 497.4L916.5 498.2L916.2 499.8L915.9 497.2L915.6 500.8L915.3 506.0L915.0 500.4L914.7 503.8L914.4 505.0L914.1 503.9L913.8 511.1L913.5 511.0L913.2 505.2L912.9 505.2L912.6 506.2L912.3 501.4L912.0 501.9L911.7 497.7L911.4 498.6L911.1 501.0L910.8 499.2L910.5 494.7L910.2 495.1L909.9 494.6L909.6 493.6L909.3 493.0L909.0 496.5L908.7 493.4L908.4 496.4L908.1 495.5L907.8 497.3L907.5 497.5L907.2 496.3L906.9 497.7L906.6 498.1L906.3 496.3L906.0 490.9L905.7 496.1L905.4 493.4L905.1 489.7L904.8 492.0L904.5 494.2L904.2 490.6L903.9 490.5L903.6 487.6L903.3 488.6L903.0 485.7L902.7 486.0L902.4 485.7L902.1 486.7L901.8 491.4L901.5 486.7L901.2 486.4L900.9 491.7L900.6 490.4L900.3 488.8L900.0 489.2L899.7 489.0L899.4 488.9L899.1 486.0L898.8 480.5L898.5 486.6L898.2 486.9L897.9 489.0L897.6 483.2L897.3 485.4L897.0 483.0L896.7 485.9L896.4 487.7L896.1 488.6L895.8 487.2L895.5 488.6L895.2 484.3L894.9 482.4L894.6 482.6L894.3 483.3L894.0 483.9L893.7 484.0L893.4 486.2L893.1 488.0L892.8 482.0L892.5 481.1L892.2 478.5L891.9 476.6L891.6 474.8L891.3 477.6L891.0 477.8L890.7 471.7L890.4 472.1L890.1 471.6L889.8 466.5L889.5 468.1L889.2 465.5L888.9 468.1L888.6 458.8L888.3 457.4L888.0 457.0L887.7 452.5L887.4 452.2L887.1 452.4L886.8 455.9L886.5 456.2L886.2 454.0L885.9 453.6L885.6 454.9L885.3 455.8L885.0 456.7L884.7 457.5L884.4 453.8L884.1 455.5L883.8 455.8L883.5 453.8L883.2 457.8L882.9 457.0L882.6 455.3L882.3 450.5L882.0 455.9L881.7 455.1L881.4 453.1L881.1 454.5L880.8 458.5L880.5 452.5L880.2 459.5L879.9 454.0L879.6 460.6L879.3 461.0L879.0 461.6L878.7 461.1L878.4 457.7L878.1 457.9L877.8 454.0L877.5 457.0L877.2 454.1L876.9 456.2L876.6 456.2L876.3 456.3L876.0 450.7L875.7 452.9L875.4 455.1L875.1 451.9L874.8 453.6L874.5 451.4L874.2 457.0L873.9 455.7L873.6 460.5L873.3 459.1L873.0 463.9L872.7 462.6L872.4 461.1L872.1 467.1L871.8 464.6L871.5 468.4L871.2 475.0L870.9 471.9L870.6 471.4L870.3 473.1L870.0 471.1L869.7 473.2L869.4 474.8L869.1 473.6L868.8 471.9L868.5 471.3L868.2 468.5L867.9 470.2L867.6 469.7L867.3 470.2L867.0 472.7L866.7 472.8L866.4 473.5L866.1 471.6L865.8 476.6L865.5 471.2L865.2 473.1L864.9 470.7L864.6 471.4L864.3 471.0L864.0 471.3L863.7 472.0L863.4 473.5L863.1 471.6L862.8 469.7L862.5 472.0L862.2 472.3L861.9 469.5L861.6 470.4L861.3 472.8L861.0 475.9L860.7 474.9L860.4 475.5L860.1 476.0L859.8 480.9L859.5 477.9L859.2 477.6L858.9 478.8L858.6 476.5L858.3 479.3L858.0 477.7L857.7 479.8L857.4 476.0L857.1 476.4L856.8 469.8L856.5 470.0L856.2 471.3L855.9 472.0L855.6 469.2L855.3 463.1L855.0 462.9L854.7 463.6L854.4 460.6L854.1 465.1L853.8 465.9L853.5 465.7L853.2 468.5L852.9 466.3L852.6 466.8L852.3 464.9L852.0 468.8L851.7 462.9L851.4 464.9L851.1 465.4L850.8 467.3L850.5 464.4L850.2 463.2L849.9 463.2L849.6 459.2L849.3 462.2L849.0 461.2L848.7 458.8L848.4 463.3L848.1 458.9L847.8 461.0L847.5 462.7L847.2 461.6L846.9 460.9L846.6 462.9L846.3 459.6L846.0 459.6L845.7 463.5L845.4 460.7L845.1 463.5L844.8 463.1L844.5 463.1L844.2 463.9L843.9 460.4L843.6 464.7L843.3 461.0L843.0 463.0L842.7 463.7L842.4 460.9L842.1 461.2L841.8 461.1L841.5 457.2L841.2 459.3L840.9 461.5L840.6 461.5L840.3 460.0L840.0 457.5L839.7 460.8L839.4 459.3L839.1 458.8L838.8 459.8L838.5 460.5L838.2 459.4L837.9 460.2L837.6 456.8L837.3 451.8L837.0 458.5L836.7 453.7L836.4 451.8L836.1 450.4L835.8 451.8L835.5 451.7L835.2 449.6L834.9 444.3L834.6 447.7L834.3 442.6L834.0 443.2L833.7 438.4L833.4 435.3L833.1 432.3L832.8 434.7L832.5 426.2L832.2 432.6L831.9 433.4L831.6 436.0L831.3 429.8L831.0 433.2L830.7 433.4L830.4 432.6L830.1 432.4L829.8 436.0L829.5 433.1L829.2 434.8L828.9 431.8L828.6 431.8L828.3 432.4L828.0 432.7L827.7 433.1L827.4 432.4L827.1 432.7L826.8 430.8L826.5 429.6L826.2 432.7L825.9 433.8L825.6 429.0L825.3 435.8L825.0 437.0L824.7 435.7L824.4 436.5L824.1 434.2L823.8 433.3L823.5 432.2L823.2 434.8L822.9 435.3L822.6 432.3L822.3 433.5L822.0 431.6L821.7 430.0L821.4 434.5L821.1 429.3L820.8 430.7L820.5 430.4L820.2 433.5L819.9 429.0L819.6 434.2L819.3 431.7L819.0 432.3L818.7 432.6L818.4 436.3L818.1 441.4L817.8 439.2L817.5 440.5L817.2 441.6L816.9 441.4L816.6 444.0L816.3 444.0L816.0 444.4L815.7 448.1L815.4 448.8L815.1 448.0L814.8 450.4L814.5 452.8L814.2 453.6L813.9 451.9L813.6 452.2L813.3 452.3L813.0 448.0L812.7 446.5L812.4 447.3L812.1 445.8L811.8 448.0L811.5 447.0L811.2 447.9L810.9 449.0L810.6 450.8L810.3 448.0L810.0 442.8L809.7 445.0L809.4 444.5L809.1 448.6L808.8 443.1L808.5 444.0L808.2 444.6L807.9 443.4L807.6 447.2L807.3 445.3L807.0 447.4L806.7 450.0L806.4 449.4L806.1 452.6L805.8 448.3L805.5 449.2L805.2 451.4L804.9 452.1L804.6 449.9L804.3 448.8L804.0 448.8L803.7 446.6L803.4 451.1L803.1 444.5L802.8 441.4L802.5 444.6L802.2 442.0L801.9 439.8L801.6 440.3L801.3 442.7L801.0 437.4L800.7 439.7L800.4 436.7L800.1 439.6L799.8 441.1L799.5 441.6L799.2 443.2L798.9 441.1L798.6 434.9L798.3 442.4L798.0 444.1L797.7 439.6L797.4 438.6L797.1 439.7L796.8 438.7L796.5 436.1L796.2 437.3L795.9 436.2L795.6 433.5L795.3 434.7L795.0 435.1L794.7 437.1L794.4 434.7L794.1 435.0L793.8 432.3L793.5 433.8L793.2 434.6L792.9 435.8L792.6 433.1L792.3 432.2L792.0 434.8L791.7 433.9L791.4 434.4L791.1 435.5L790.8 433.6L790.5 436.6L790.2 434.7L789.9 436.5L789.6 436.3L789.3 435.4L789.0 435.0L788.7 435.3L788.4 438.5L788.1 432.9L787.8 436.4L787.5 430.3L787.2 430.5L786.9 429.0L786.6 432.1L786.3 437.3L786.0 433.4L785.7 431.1L785.4 432.4L785.1 436.8L784.8 433.8L784.5 433.8L784.2 429.9L783.9 432.8L783.6 427.9L783.3 429.7L783.0 427.5L782.7 426.0L782.4 427.6L782.1 427.9L781.8 424.6L781.5 424.9L781.2 422.0L780.9 420.6L780.6 416.5L780.3 414.0L780.0 412.7L779.7 411.7L779.4 408.3L779.1 408.7L778.8 408.7L778.5 408.0L778.2 405.2L777.9 403.8L777.6 403.5L777.3 403.8L777.0 404.5L776.7 404.7L776.4 403.3L776.1 403.4L775.8 401.9L775.5 405.3L775.2 404.0L774.9 406.4L774.6 405.9L774.3 406.7L774.0 411.7L773.7 406.6L773.4 406.0L773.1 410.0L772.8 410.6L772.5 409.8L772.2 408.0L771.9 411.2L771.6 409.2L771.3 410.4L771.0 408.2L770.7 407.5L770.4 410.0L770.1 414.0L769.8 407.2L769.5 413.7L769.2 409.1L768.9 410.1L768.6 409.6L768.3 405.0L768.0 408.8L767.7 407.4L767.4 405.9L767.1 406.8L766.8 405.2L766.5 403.5L766.2 407.8L765.9 404.0L765.6 409.8L765.3 407.6L765.0 405.4L764.7 410.9L764.4 407.5L764.1 409.2L763.8 410.5L763.5 410.9L763.2 414.3L762.9 409.3L762.6 411.6L762.3 414.6L762.0 412.1L761.7 417.6L761.4 417.3L761.1 417.0L760.8 418.4L760.5 417.9L760.2 418.3L759.9 418.2L759.6 416.1L759.3 420.1L759.0 416.4L758.7 415.3L758.4 416.8L758.1 421.7L757.8 418.5L757.5 420.7L757.2 420.9L756.9 417.6L756.6 418.8L756.3 417.9L756.0 420.7L755.7 419.4L755.4 422.7L755.1 418.2L754.8 420.7L754.5 418.9L754.2 422.5L753.9 419.5L753.6 418.7L753.3 419.4L753.0 418.3L752.7 423.0L752.4 417.9L752.1 421.8L751.8 419.5L751.5 420.0L751.2 418.5L750.9 426.1L750.6 422.4L750.3 424.0L750.0 425.6L749.7 419.7L749.4 422.2L749.1 419.4L748.8 419.0L748.5 418.5L748.2 419.1L747.9 417.4L747.6 418.6L747.3 419.7L747.0 412.5L746.7 418.2L746.4 417.1L746.1 418.1L745.8 415.4L745.5 410.5L745.2 411.1L744.9 412.7L744.6 410.1L744.3 414.6L744.0 415.7L743.7 413.8L743.4 413.3L743.1 413.6L742.8 418.3L742.5 420.7L742.2 418.0L741.9 413.2L741.6 413.1L741.3 415.3L741.0 413.6L740.7 419.9L740.4 411.7L740.1 409.8L739.8 410.5L739.5 410.6L739.2 411.6L738.9 412.9L738.6 409.3L738.3 411.1L738.0 410.7L737.7 410.2L737.4 411.4L737.1 404.7L736.8 403.7L736.5 405.7L736.2 402.9L735.9 405.3L735.6 402.8L735.3 406.6L735.0 403.7L734.7 402.1L734.4 407.3L734.1 405.8L733.8 409.3L733.5 408.9L733.2 409.6L732.9 412.1L732.6 413.5L732.3 413.0L732.0 415.4L731.7 410.8L731.4 410.4L731.1 408.4L730.8 410.0L730.5 409.9L730.2 413.6L729.9 408.0L729.6 410.6L729.3 407.8L729.0 407.2L728.7 406.3L728.4 403.3L728.1 403.3L727.8 402.0L727.5 398.8L727.2 402.2L726.9 401.8L726.6 397.1L726.3 399.8L726.0 395.3L725.7 394.6L725.4 390.4L725.1 387.1L724.8 382.3L724.5 380.9L724.2 380.3L723.9 377.4L723.6 377.0L723.3 375.3L723.0 380.0L722.7 377.0L722.4 376.8L722.1 377.9L721.8 380.3L721.5 377.9L721.2 379.4L720.9 379.8L720.6 379.5L720.3 379.8L720.0 385.5L719.7 378.8L719.4 376.5L719.1 376.7L718.8 377.7L718.5 380.8L718.2 380.5L717.9 379.1L717.6 383.3L717.3 379.0L717.0 377.4L716.7 380.4L716.4 383.7L716.1 382.3L715.8 384.5L715.5 382.5L715.2 382.1L714.9 385.9L714.6 385.8L714.3 382.6L714.0 384.5L713.7 384.3L713.4 381.8L713.1 384.2L712.8 381.1L712.5 382.7L712.2 378.1L711.9 376.5L711.6 378.0L711.3 384.4L711.0 380.7L710.7 381.1L710.4 382.5L710.1 380.7L709.8 378.6L709.5 382.6L709.2 384.7L708.9 384.3L708.6 385.0L708.3 388.7L708.0 387.0L707.7 385.4L707.4 390.8L707.1 393.3L706.8 395.6L706.5 393.0L706.2 393.0L705.9 396.2L705.6 394.2L705.3 392.7L705.0 404.5L704.7 399.4L704.4 400.8L704.1 401.0L703.8 392.1L703.5 396.0L703.2 398.0L702.9 397.3L702.6 394.5L702.3 397.5L702.0 391.0L701.7 390.1L701.4 394.6L701.1 391.5L700.8 391.4L700.5 395.8L700.2 390.7L699.9 393.2L699.6 388.2L699.3 390.8L699.0 391.1L698.7 394.3L698.4 395.0L698.1 388.5L697.8 394.6L697.5 397.5L697.2 397.6L696.9 397.1L696.6 401.3L696.3 397.7L696.0 402.1L695.7 403.7L695.4 403.9L695.1 401.6L694.8 401.1L694.5 401.5L694.2 401.1L693.9 398.7L693.6 399.0L693.3 395.9L693.0 396.5L692.7 397.3L692.4 393.8L692.1 391.4L691.8 391.5L691.5 393.4L691.2 384.2L690.9 386.1L690.6 389.2L690.3 391.8L690.0 393.1L689.7 390.6L689.4 396.8L689.1 393.6L688.8 391.8L688.5 393.0L688.2 395.4L687.9 391.7L687.6 388.8L687.3 392.2L687.0 389.5L686.7 388.8L686.4 389.3L686.1 388.2L685.8 388.8L685.5 385.3L685.2 384.5L684.9 385.0L684.6 383.0L684.3 387.9L684.0 383.9L683.7 386.1L683.4 382.8L683.1 383.0L682.8 383.4L682.5 385.7L682.2 384.8L681.9 384.5L681.6 379.5L681.3 383.2L681.0 381.2L680.7 382.0L680.4 378.8L680.1 384.0L679.8 386.8L679.5 382.9L679.2 387.5L678.9 387.6L678.6 388.0L678.3 379.1L678.0 385.0L677.7 382.7L677.4 383.2L677.1 384.4L676.8 386.4L676.5 383.7L676.2 382.7L675.9 385.5L675.6 383.2L675.3 383.8L675.0 383.0L674.7 383.5L674.4 386.5L674.1 383.1L673.8 380.0L673.5 386.0L673.2 379.3L672.9 377.6L672.6 378.6L672.3 378.9L672.0 378.4L671.7 374.3L671.4 373.4L671.1 368.0L670.8 366.8L670.5 368.3L670.2 367.5L669.9 361.5L669.6 359.6L669.3 358.6L669.0 358.5L668.7 356.1L668.4 352.8L668.1 355.8L667.8 356.0L667.5 358.3L667.2 357.1L666.9 356.6L666.6 353.8L666.3 357.2L666.0 353.9L665.7 355.0L665.4 357.6L665.1 358.3L664.8 358.1L664.5 357.1L664.2 357.6L663.9 356.7L663.6 355.6L663.3 356.6L663.0 357.8L662.7 357.6L662.4 358.1L662.1 361.5L661.8 357.2L661.5 361.9L661.2 359.4L660.9 361.4L660.6 361.3L660.3 360.3L660.0 360.2L659.7 363.5L659.4 357.3L659.1 361.6L658.8 360.2L658.5 358.0L658.2 357.5L657.9 357.9L657.6 354.5L657.3 356.9L657.0 356.7L656.7 348.5L656.4 354.1L656.1 353.6L655.8 355.2L655.5 356.7L655.2 359.7L654.9 362.0L654.6 357.5L654.3 360.2L654.0 362.8L653.7 363.0L653.4 360.7L653.1 363.0L652.8 362.0L652.5 363.5L652.2 362.8L651.9 365.7L651.6 365.1L651.3 366.6L651.0 367.1L650.7 367.4L650.4 369.9L650.1 369.6L649.8 366.9L649.5 370.6L649.2 369.6L648.9 369.2L648.6 371.9L648.3 367.2L648.0 373.1L647.7 367.8L647.4 370.4L647.1 367.7L646.8 371.9L646.5 375.5L646.2 368.2L645.9 369.0L645.6 372.1L645.3 371.1L645.0 371.6L644.7 368.1L644.4 369.9L644.1 371.4L643.8 371.3L643.5 371.7L643.2 369.1L642.9 372.1L642.6 373.4L642.3 373.2L642.0 377.8L641.7 377.4L641.4 377.9L641.1 379.4L640.8 378.4L640.5 379.2L640.2 379.3L639.9 375.6L639.6 379.0L639.3 379.4L639.0 379.3L638.7 380.6L638.4 375.2L638.1 377.8L637.8 374.2L637.5 374.0L637.2 375.8L636.9 375.2L636.6 374.4L636.3 375.5L636.0 375.1L635.7 374.9L635.4 376.6L635.1 378.6L634.8 378.9L634.5 379.7L634.2 377.1L633.9 377.4L633.6 376.7L633.3 376.9L633.0 373.8L632.7 372.3L632.4 370.0L632.1 369.6L631.8 371.6L631.5 374.5L631.2 371.9L630.9 374.8L630.6 372.2L630.3 368.9L630.0 373.2L629.7 371.4L629.4 367.7L629.1 375.8L628.8 375.1L628.5 373.3L628.2 368.6L627.9 370.6L627.6 370.2L627.3 374.2L627.0 373.6L626.7 368.9L626.4 375.0L626.1 377.6L625.8 374.7L625.5 373.2L625.2 376.0L624.9 377.7L624.6 376.7L624.3 378.2L624.0 376.6L623.7 378.5L623.4 376.4L623.1 372.4L622.8 378.5L622.5 376.5L622.2 375.3L621.9 375.5L621.6 372.1L621.3 373.0L621.0 373.3L620.7 376.3L620.4 373.2L620.1 377.3L619.8 372.6L619.5 374.7L619.2 372.9L618.9 373.9L618.6 380.0L618.3 378.7L618.0 376.1L617.7 375.6L617.4 376.4L617.1 373.2L616.8 369.5L616.5 369.6L616.2 368.8L615.9 364.8L615.6 361.4L615.3 366.1L615.0 358.7L614.7 357.2L614.4 353.8L614.1 354.6L613.8 351.1L613.5 353.9L613.2 355.5L612.9 352.4L612.6 356.3L612.3 354.5L612.0 354.8L611.7 354.5L611.4 355.6L611.1 358.6L610.8 355.6L610.5 362.6L610.2 359.9L609.9 359.6L609.6 360.3L609.3 361.6L609.0 364.1L608.7 359.2L608.4 360.0L608.1 359.7L607.8 361.9L607.5 363.0L607.2 365.3L606.9 366.5L606.6 369.1L606.3 372.4L606.0 369.3L605.7 368.5L605.4 373.7L605.1 373.1L604.8 373.1L604.5 373.0L604.2 372.8L603.9 368.9L603.6 369.9L603.3 371.2L603.0 371.9L602.7 369.9L602.4 367.4L602.1 367.2L601.8 370.7L601.5 369.0L601.2 368.0L600.9 372.1L600.6 372.2L600.3 370.8L600.0 369.1L599.7 367.8L599.4 371.5L599.1 376.4L598.8 373.0L598.5 378.0L598.2 376.5L597.9 381.4L597.6 381.9L597.3 383.5L597.0 387.5L596.7 385.4L596.4 390.3L596.1 392.1L595.8 396.9L595.5 392.4L595.2 394.7L594.9 399.9L594.6 391.9L594.3 399.5L594.0 399.8L593.7 399.6L593.4 401.6L593.1 398.8L592.8 399.5L592.5 400.7L592.2 398.5L591.9 396.6L591.6 406.1L591.3 402.4L591.0 400.3L590.7 402.6L590.4 403.6L590.1 404.7L589.8 405.5L589.5 399.4L589.2 404.6L588.9 407.7L588.6 408.4L588.3 403.5L588.0 408.5L587.7 414.1L587.4 413.4L587.1 412.9L586.8 410.9L586.5 410.5L586.2 409.3L585.9 417.2L585.6 419.6L585.3 417.3L585.0 417.5L584.7 419.1L584.4 413.5L584.1 416.8L583.8 411.4L583.5 412.8L583.2 414.1L582.9 411.4L582.6 412.6L582.3 412.4L582.0 409.9L581.7 407.6L581.4 412.0L581.1 411.3L580.8 414.7L580.5 407.3L580.2 409.3L579.9 410.3L579.6 412.7L579.3 412.6L579.0 413.1L578.7 417.1L578.4 416.1L578.1 413.3L577.8 414.1L577.5 411.9L577.2 412.8L576.9 415.1L576.6 409.7L576.3 406.2L576.0 412.9L575.7 410.4L575.4 407.6L575.1 409.4L574.8 409.4L574.5 410.3L574.2 415.7L573.9 412.8L573.6 411.9L573.3 416.0L573.0 417.5L572.7 417.8L572.4 416.8L572.1 414.2L571.8 421.3L571.5 419.2L571.2 417.5L570.9 423.4L570.6 425.9L570.3 420.3L570.0 413.5L569.7 422.2L569.4 425.0L569.1 426.1L568.8 426.4L568.5 421.3L568.2 424.8L567.9 422.6L567.6 425.5L567.3 425.2L567.0 426.8L566.7 425.6L566.4 429.7L566.1 431.3L565.8 428.6L565.5 429.3L565.2 423.7L564.9 426.4L564.6 425.7L564.3 429.8L564.0 428.8L563.7 431.8L563.4 431.4L563.1 427.5L562.8 432.6L562.5 426.0L562.2 423.6L561.9 419.9L561.6 418.1L561.3 421.7L561.0 415.5L560.7 418.7L560.4 411.9L560.1 412.3L559.8 415.4L559.5 414.7L559.2 408.3L558.9 405.6L558.6 405.8L558.3 408.9L558.0 405.7L557.7 401.5L557.4 402.8L557.1 402.5L556.8 399.5L556.5 402.1L556.2 400.9L555.9 402.1L555.6 401.3L555.3 400.2L555.0 399.8L554.7 398.5L554.4 402.1L554.1 395.6L553.8 399.8L553.5 395.7L553.2 400.7L552.9 396.8L552.6 397.6L552.3 399.3L552.0 400.1L551.7 396.0L551.4 400.7L551.1 398.2L550.8 398.8L550.5 400.3L550.2 402.3L549.9 398.8L549.6 401.0L549.3 404.1L549.0 405.3L548.7 404.4L548.4 404.1L548.1 401.0L547.8 400.8L547.5 397.9L547.2 397.4L546.9 394.7L546.6 392.4L546.3 394.0L546.0 392.6L545.7 393.8L545.4 390.2L545.1 394.0L544.8 390.5L544.5 391.6L544.2 396.8L543.9 401.1L543.6 399.2L543.3 399.6L543.0 400.3L542.7 403.7L542.4 402.6L542.1 406.3L541.8 403.5L541.5 406.9L541.2 409.7L540.9 411.1L540.6 411.4L540.3 409.8L540.0 412.9L539.7 413.4L539.4 412.1L539.1 410.6L538.8 412.2L538.5 411.4L538.2 409.3L537.9 411.2L537.6 412.0L537.3 410.0L537.0 405.5L536.7 411.5L536.4 408.5L536.1 408.6L535.8 408.7L535.5 405.9L535.2 411.5L534.9 407.8L534.6 407.0L534.3 405.4L534.0 403.2L533.7 404.0L533.4 407.2L533.1 405.3L532.8 400.6L532.5 403.3L532.2 401.8L531.9 408.6L531.6 401.2L531.3 407.6L531.0 406.2L530.7 408.3L530.4 406.0L530.1 407.6L529.8 406.2L529.5 403.0L529.2 401.4L528.9 399.1L528.6 399.6L528.3 400.6L528.0 399.1L527.7 400.5L527.4 400.4L527.1 401.0L526.8 395.0L526.5 398.3L526.2 394.7L525.9 399.0L525.6 397.6L525.3 399.8L525.0 398.3L524.7 398.5L524.4 397.3L524.1 394.9L523.8 397.7L523.5 397.0L523.2 397.7L522.9 394.1L522.6 393.5L522.3 391.5L522.0 393.8L521.7 390.4L521.4 392.2L521.1 394.1L520.8 385.9L520.5 388.4L520.2 390.4L519.9 383.4L519.6 385.1L519.3 385.8L519.0 386.2L518.7 390.7L518.4 386.5L518.1 388.4L517.8 390.1L517.5 385.3L517.2 388.3L516.9 381.3L516.6 382.6L516.3 386.6L516.0 382.2L515.7 383.2L515.4 383.5L515.1 381.8L514.8 383.4L514.5 382.0L514.2 383.1L513.9 383.7L513.6 383.6L513.3 382.3L513.0 385.4L512.7 383.4L512.4 382.3L512.1 377.6L511.8 380.9L511.5 376.2L511.2 376.8L510.9 379.3L510.6 372.1L510.3 376.3L510.0 375.7L509.7 377.0L509.4 375.8L509.1 377.7L508.8 377.6L508.5 374.0L508.2 371.6L507.9 372.4L507.6 367.6L507.3 367.4L507.0 363.7L506.7 369.0L506.4 365.4L506.1 359.5L505.8 358.0L505.5 354.5L505.2 356.4L504.9 350.3L504.6 351.1L504.3 345.2L504.0 345.1L503.7 341.1L503.4 344.6L503.1 343.4L502.8 347.3L502.5 341.3L502.2 342.1L501.9 344.6L501.6 345.8L501.3 348.7L501.0 347.9L500.7 343.4L500.4 343.4L500.1 344.1L499.8 343.3L499.5 343.8L499.2 344.6L498.9 344.8L498.6 340.7L498.3 344.4L498.0 347.6L497.7 343.1L497.4 342.7L497.1 347.4L496.8 344.3L496.5 345.0L496.2 347.3L495.9 347.1L495.6 348.3L495.3 347.3L495.0 348.2L494.7 345.5L494.4 348.6L494.1 344.5L493.8 348.7L493.5 342.6L493.2 343.9L492.9 344.0L492.6 339.6L492.3 341.1L492.0 344.7L491.7 339.5L491.4 341.1L491.1 346.3L490.8 341.4L490.5 342.3L490.2 341.1L489.9 339.1L489.6 343.9L489.3 345.9L489.0 344.4L488.7 346.4L488.4 345.4L488.1 344.0L487.8 344.4L487.5 350.6L487.2 347.2L486.9 346.0L486.6 351.6L486.3 350.5L486.0 353.7L485.7 355.1L485.4 354.9L485.1 355.3L484.8 360.0L484.5 362.2L484.2 354.8L483.9 356.4L483.6 359.2L483.3 357.3L483.0 360.5L482.7 361.2L482.4 359.6L482.1 359.6L481.8 357.7L481.5 362.4L481.2 356.6L480.9 361.8L480.6 356.2L480.3 358.8L480.0 362.8L479.7 358.2L479.4 361.3L479.1 359.1L478.8 359.8L478.5 364.2L478.2 361.8L477.9 362.5L477.6 363.7L477.3 364.9L477.0 362.1L476.7 364.1L476.4 364.5L476.1 366.4L475.8 369.8L475.5 366.2L475.2 369.2L474.9 367.1L474.6 372.0L474.3 372.2L474.0 374.5L473.7 376.8L473.4 373.7L473.1 379.2L472.8 376.1L472.5 380.2L472.2 375.8L471.9 377.7L471.6 377.8L471.3 375.5L471.0 378.4L470.7 376.8L470.4 373.9L470.1 375.9L469.8 376.2L469.5 376.9L469.2 378.7L468.9 380.8L468.6 378.0L468.3 378.0L468.0 372.6L467.7 384.0L467.4 380.5L467.1 377.6L466.8 374.0L466.5 378.8L466.2 376.2L465.9 380.5L465.6 380.5L465.3 382.0L465.0 386.1L464.7 379.5L464.4 382.5L464.1 379.7L463.8 379.1L463.5 380.4L463.2 381.5L462.9 386.5L462.6 383.9L462.3 382.8L462.0 381.7L461.7 384.8L461.4 384.7L461.1 389.8L460.8 385.4L460.5 390.0L460.2 388.9L459.9 384.4L459.6 391.5L459.3 386.4L459.0 395.3L458.7 393.8L458.4 390.5L458.1 392.7L457.8 395.7L457.5 392.4L457.2 396.0L456.9 393.4L456.6 396.1L456.3 395.5L456.0 397.7L455.7 397.5L455.4 398.5L455.1 402.9L454.8 397.7L454.5 404.5L454.2 403.2L453.9 406.5L453.6 406.7L453.3 403.5L453.0 398.3L452.7 405.9L452.4 405.3L452.1 403.4L451.8 398.1L451.5 399.0L451.2 400.7L450.9 393.0L450.6 396.9L450.3 388.6L450.0 391.4L449.7 390.8L449.4 387.5L449.1 383.7L448.8 380.2L448.5 385.5L448.2 385.8L447.9 385.8L447.6 383.5L447.3 384.1L447.0 388.1L446.7 387.3L446.4 384.7L446.1 389.9L445.8 389.8L445.5 392.0L445.2 391.4L444.9 393.7L444.6 395.8L444.3 392.6L444.0 393.7L443.7 395.3L443.4 396.7L443.1 398.4L442.8 400.7L442.5 403.3L442.2 404.0L441.9 403.0L441.6 403.4L441.3 407.4L441.0 407.6L440.7 408.7L440.4 412.9L440.1 409.7L439.8 410.3L439.5 413.6L439.2 415.4L438.9 411.0L438.6 412.7L438.3 412.9L438.0 411.9L437.7 409.7L437.4 414.1L437.1 413.6L436.8 412.7L436.5 410.3L436.2 415.6L435.9 415.1L435.6 414.1L435.3 417.9L435.0 423.2L434.7 418.5L434.4 426.2L434.1 423.5L433.8 423.9L433.5 430.3L433.2 431.7L432.9 434.1L432.6 431.4L432.3 433.8L432.0 437.1L431.7 439.9L431.4 443.8L431.1 440.0L430.8 441.3L430.5 443.7L430.2 444.9L429.9 440.5L429.6 442.8L429.3 442.5L429.0 443.4L428.7 444.2L428.4 446.6L428.1 443.4L427.8 445.6L427.5 444.1L427.2 444.0L426.9 444.2L426.6 445.4L426.3 442.5L426.0 440.9L425.7 445.5L425.4 446.8L425.1 439.4L424.8 443.3L424.5 444.6L424.2 450.6L423.9 449.8L423.6 449.5L423.3 452.1L423.0 444.9L422.7 448.3L422.4 451.8L422.1 450.5L421.8 449.0L421.5 449.4L421.2 454.6L420.9 453.8L420.6 457.0L420.3 460.7L420.0 452.0L419.7 458.0L419.4 455.2L419.1 452.8L418.8 455.6L418.5 457.2L418.2 456.6L417.9 457.0L417.6 453.4L417.3 450.8L417.0 448.3L416.7 449.6L416.4 449.4L416.1 452.8L415.8 453.8L415.5 458.3L415.2 454.7L414.9 457.4L414.6 457.2L414.3 458.6L414.0 460.8L413.7 463.8L413.4 458.7L413.1 454.6L412.8 454.3L412.5 453.5L412.2 455.5L411.9 453.2L411.6 454.2L411.3 456.3L411.0 452.9L410.7 449.7L410.4 455.4L410.1 450.5L409.8 452.9L409.5 453.9L409.2 451.4L408.9 453.6L408.6 453.8L408.3 453.0L408.0 456.1L407.7 455.4L407.4 454.3L407.1 454.5L406.8 454.4L406.5 453.4L406.2 456.2L405.9 455.4L405.6 455.4L405.3 454.4L405.0 451.2L404.7 453.6L404.4 449.1L404.1 452.8L403.8 452.5L403.5 454.4L403.2 451.1L402.9 454.2L402.6 453.3L402.3 451.5L402.0 452.4L401.7 453.7L401.4 452.1L401.1 449.4L400.8 451.7L400.5 449.1L400.2 452.4L399.9 451.4L399.6 450.9L399.3 450.2L399.0 445.1L398.7 448.8L398.4 448.3L398.1 445.1L397.8 448.2L397.5 445.2L397.2 444.0L396.9 441.7L396.6 437.6L396.3 441.3L396.0 435.0L395.7 431.7L395.4 431.8L395.1 429.6L394.8 425.8L394.5 421.0L394.2 417.8L393.9 415.8L393.6 416.2L393.3 418.4L393.0 415.9L392.7 417.6L392.4 417.7L392.1 418.4L391.8 419.4L391.5 421.9L391.2 420.2L390.9 422.7L390.6 418.3L390.3 421.0L390.0 417.5L389.7 418.4L389.4 417.9L389.1 419.8L388.8 412.9L388.5 416.3L388.2 416.4L387.9 417.8L387.6 413.1L387.3 412.1L387.0 416.3L386.7 412.2L386.4 411.9L386.1 412.8L385.8 412.7L385.5 418.2L385.2 412.4L384.9 416.3L384.6 416.3L384.3 417.5L384.0 416.2L383.7 416.9L383.4 418.5L383.1 418.9L382.8 412.3L382.5 413.7L382.2 412.4L381.9 414.1L381.6 409.5L381.3 414.5L381.0 408.8L380.7 410.8L380.4 409.2L380.1 408.5L379.8 406.3L379.5 410.8L379.2 410.7L378.9 413.1L378.6 415.8L378.3 409.0L378.0 414.8L377.7 416.5L377.4 418.7L377.1 419.4L376.8 422.3L376.5 422.4L376.2 422.7L375.9 419.8L375.6 425.3L375.3 426.8L375.0 425.6L374.7 427.8L374.4 422.5L374.1 423.2L373.8 425.9L373.5 424.6L373.2 426.0L372.9 419.9L372.6 420.5L372.3 420.2L372.0 422.0L371.7 427.5L371.4 417.7L371.1 417.7L370.8 418.5L370.5 420.2L370.2 418.1L369.9 418.5L369.6 420.4L369.3 416.1L369.0 415.4L368.7 416.2L368.4 418.3L368.1 418.1L367.8 414.8L367.5 420.6L367.2 416.1L366.9 417.7L366.6 421.8L366.3 421.6L366.0 419.0L365.7 417.7L365.4 423.0L365.1 421.9L364.8 420.2L364.5 423.5L364.2 416.5L363.9 417.7L363.6 418.5L363.3 413.9L363.0 414.6L362.7 409.5L362.4 408.4L362.1 408.3L361.8 404.3L361.5 405.4L361.2 407.3L360.9 405.5L360.6 403.7L360.3 407.8L360.0 404.7L359.7 409.1L359.4 410.1L359.1 410.1L358.8 408.6L358.5 408.1L358.2 404.2L357.9 402.0L357.6 397.8L357.3 399.8L357.0 402.1L356.7 402.8L356.4 399.7L356.1 398.0L355.8 399.2L355.5 395.3L355.2 395.3L354.9 385.7L354.6 391.7L354.3 395.1L354.0 395.8L353.7 395.4L353.4 394.9L353.1 394.9L352.8 393.9L352.5 395.2L352.2 394.0L351.9 399.6L351.6 397.5L351.3 396.7L351.0 401.0L350.7 399.1L350.4 401.7L350.1 397.5L349.8 396.7L349.5 395.7L349.2 392.3L348.9 397.7L348.6 398.5L348.3 401.8L348.0 396.3L347.7 396.6L347.4 400.0L347.1 399.3L346.8 400.8L346.5 402.0L346.2 397.4L345.9 401.8L345.6 402.5L345.3 401.1L345.0 402.5L344.7 400.1L344.4 396.7L344.1 399.9L343.8 396.4L343.5 395.6L343.2 396.2L342.9 393.6L342.6 394.5L342.3 390.1L342.0 392.6L341.7 389.2L341.4 387.0L341.1 382.7L340.8 382.9L340.5 374.6L340.2 376.6L339.9 374.2L339.6 373.2L339.3 371.3L339.0 371.4L338.7 369.9L338.4 367.0L338.1 370.1L337.8 367.7L337.5 370.4L337.2 369.3L336.9 372.4L336.6 368.6L336.3 368.2L336.0 371.8L335.7 369.0L335.4 369.5L335.1 372.5L334.8 370.6L334.5 369.2L334.2 368.1L333.9 369.8L333.6 364.8L333.3 366.6L333.0 369.3L332.7 369.3L332.4 366.5L332.1 366.8L331.8 371.9L331.5 369.5L331.2 374.6L330.9 372.5L330.6 377.0L330.3 376.7L330.0 374.4L329.7 377.5L329.4 371.7L329.1 374.8L328.8 369.3L328.5 371.0L328.2 368.4L327.9 372.4L327.6 366.1L327.3 369.0L327.0 370.8L326.7 366.6L326.4 368.6L326.1 364.5L325.8 368.7L325.5 372.2L325.2 371.6L324.9 368.2L324.6 374.4L324.3 376.3L324.0 376.5L323.7 377.8L323.4 373.1L323.1 375.3L322.8 378.6L322.5 380.1L322.2 382.4L321.9 385.3L321.6 386.7L321.3 386.8L321.0 387.7L320.7 390.4L320.4 393.8L320.1 398.7L319.8 398.8L319.5 396.4L319.2 397.1L318.9 399.6L318.6 399.0L318.3 397.9L318.0 400.3L317.7 402.1L317.4 398.1L317.1 396.9L316.8 397.9L316.5 397.2L316.2 399.9L315.9 401.2L315.6 402.4L315.3 403.6L315.0 401.8L314.7 404.9L314.4 407.3L314.1 404.2L313.8 404.8L313.5 404.8L313.2 403.5L312.9 413.1L312.6 404.9L312.3 408.7L312.0 407.1L311.7 411.7L311.4 411.1L311.1 410.6L310.8 414.7L310.5 411.5L310.2 412.3L309.9 416.1L309.6 414.3L309.3 414.9L309.0 413.2L308.7 413.0L308.4 411.3L308.1 410.8L307.8 413.3L307.5 409.3L307.2 410.7L306.9 410.4L306.6 410.1L306.3 412.7L306.0 410.6L305.7 413.6L305.4 412.8L305.1 413.4L304.8 411.5L304.5 414.6L304.2 414.5L303.9 409.6L303.6 411.8L303.3 418.3L303.0 414.7L302.7 410.1L302.4 410.6L302.1 410.6L301.8 416.2L301.5 417.5L301.2 413.0L300.9 416.2L300.6 416.1L300.3 415.6L300.0 416.8L299.7 419.0L299.4 416.1L299.1 415.8L298.8 415.2L298.5 414.3L298.2 417.4L297.9 417.9L297.6 421.5L297.3 419.5L297.0 418.5L296.7 418.2L296.4 422.8L296.1 418.2L295.8 421.9L295.5 424.3L295.2 420.8L294.9 418.4L294.6 422.1L294.3 417.0L294.0 419.4L293.7 418.2L293.4 420.2L293.1 416.9L292.8 417.4L292.5 421.0L292.2 424.0L291.9 419.7L291.6 420.5L291.3 419.0L291.0 424.7L290.7 427.3L290.4 427.8L290.1 427.5L289.8 429.9L289.5 427.1L289.2 426.9L288.9 427.8L288.6 428.5L288.3 429.2L288.0 427.0L287.7 429.9L287.4 424.0L287.1 422.2L286.8 419.6L286.5 416.9L286.2 417.2L285.9 413.6L285.6 416.4L285.3 409.8L285.0 408.9L284.7 407.1L284.4 404.8L284.1 402.6L283.8 402.1L283.5 405.6L283.2 397.4L282.9 403.1L282.6 404.2L282.3 407.7L282.0 405.5L281.7 407.1L281.4 406.6L281.1 408.2L280.8 409.8L280.5 411.8L280.2 409.2L279.9 408.7L279.6 410.6L279.3 412.1L279.0 414.2L278.7 414.8L278.4 414.6L278.1 415.2L277.8 416.7L277.5 414.2L277.2 417.9L276.9 416.6L276.6 416.8L276.3 421.0L276.0 420.2L275.7 423.6L275.4 423.7L275.1 421.2L274.8 422.7L274.5 423.3L274.2 420.9L273.9 420.5L273.6 419.0L273.3 419.4L273.0 415.8L272.7 416.4L272.4 418.8L272.1 421.5L271.8 415.8L271.5 417.1L271.2 418.8L270.9 417.8L270.6 418.3L270.3 424.2L270.0 423.6L269.7 423.5L269.4 425.2L269.1 429.1L268.8 429.7L268.5 427.2L268.2 431.2L267.9 429.6L267.6 427.9L267.3 432.6L267.0 436.4L266.7 437.4L266.4 435.8L266.1 441.7L265.8 439.6L265.5 444.1L265.2 449.5L264.9 442.0L264.6 445.5L264.3 444.4L264.0 444.3L263.7 440.6L263.4 443.0L263.1 442.6L262.8 443.1L262.5 441.1L262.2 441.8L261.9 442.6L261.6 444.8L261.3 444.7L261.0 447.5L260.7 446.4L260.4 450.2L260.1 446.5L259.8 447.5L259.5 449.5L259.2 445.3L258.9 453.2L258.6 453.6L258.3 455.5L258.0 455.7L257.7 454.2L257.4 456.4L257.1 458.8L256.8 463.9L256.5 458.4L256.2 458.9L255.9 457.9L255.6 460.6L255.3 461.7L255.0 460.6L254.7 459.7L254.4 456.8L254.1 453.1L253.8 453.0L253.5 453.4L253.2 449.3L252.9 455.1L252.6 450.2L252.3 448.4L252.0 449.3L251.7 453.9L251.4 455.9L251.1 453.2L250.8 456.0L250.5 455.2L250.2 459.2L249.9 456.9L249.6 456.9L249.3 455.9L249.0 457.8L248.7 454.2L248.4 455.0L248.1 456.9L247.8 456.0L247.5 453.2L247.2 456.8L246.9 456.6L246.6 457.6L246.3 452.5L246.0 455.8L245.7 453.2L245.4 453.5L245.1 453.8L244.8 455.8L244.5 451.3L244.2 457.8L243.9 456.9L243.6 456.6L243.3 460.1L243.0 458.8L242.7 461.4L242.4 459.5L242.1 455.1L241.8 457.7L241.5 461.4L241.2 459.3L240.9 459.0L240.6 457.7L240.3 458.5L240.0 460.0L239.7 459.6L239.4 457.2L239.1 466.2L238.8 459.1L238.5 462.6L238.2 461.1L237.9 465.7L237.6 461.0L237.3 462.9L237.0 463.3L236.7 462.3L236.4 467.6L236.1 467.2L235.8 468.1L235.5 467.2L235.2 464.4L234.9 464.1L234.6 466.6L234.3 466.3L234.0 461.7L233.7 458.8L233.4 459.7L233.1 456.0L232.8 456.4L232.5 457.6L232.2 452.3L231.9 456.1L231.6 451.8L231.3 449.8L231.0 448.1L230.7 446.2L230.4 446.0L230.1 442.7L229.8 441.2L229.5 440.7L229.2 439.0L228.9 440.4L228.6 437.7L228.3 441.5L228.0 441.0L227.7 441.2L227.4 443.2L227.1 443.5L226.8 440.4L226.5 443.1L226.2 439.7L225.9 445.7L225.6 439.8L225.3 441.4L225.0 439.7L224.7 441.6L224.4 441.8L224.1 445.2L223.8 449.4L223.5 449.3L223.2 449.5L222.9 445.3L222.6 448.2L222.3 443.9L222.0 442.8L221.7 445.3L221.4 442.4L221.1 443.8L220.8 441.2L220.5 441.2L220.2 439.6L219.9 444.5L219.6 443.1L219.3 445.6L219.0 450.1L218.7 451.6L218.4 443.7L218.1 444.3L217.8 445.1L217.5 444.0L217.2 443.1L216.9 442.8L216.6 440.8L216.3 441.8L216.0 443.0L215.7 443.7L215.4 440.0L215.1 439.0L214.8 441.9L214.5 443.7L214.2 447.6L213.9 447.1L213.6 446.0L213.3 449.9L213.0 452.8L212.7 452.6L212.4 454.3L212.1 453.4L211.8 454.0L211.5 453.6L211.2 455.4L210.9 457.1L210.6 456.2L210.3 457.1L210.0 457.0L209.7 451.0L209.4 453.2L209.1 458.3L208.8 456.3L208.5 459.7L208.2 455.7L207.9 456.1L207.6 450.1L207.3 454.7L207.0 454.9L206.7 457.0L206.4 456.1L206.1 453.9L205.8 450.6L205.5 449.6L205.2 448.2L204.9 446.8L204.6 445.5L204.3 450.2L204.0 449.0L203.7 451.8L203.4 448.5L203.1 451.4L202.8 452.8L202.5 453.6L202.2 450.5L201.9 448.1L201.6 454.3L201.3 449.3L201.0 449.9L200.7 454.0L200.4 451.6L200.1 451.5L199.8 450.4L199.5 451.4L199.2 451.0L198.9 447.2L198.6 447.4L198.3 445.3L198.0 444.6L197.7 447.2L197.4 442.9L197.1 440.1L196.8 439.9L196.5 442.3L196.2 441.7L195.9 438.3L195.6 438.7L195.3 439.9L195.0 438.8L194.7 438.6L194.4 436.9L194.1 439.6L193.8 436.4L193.5 438.6L193.2 434.5L192.9 437.9L192.6 432.6L192.3 435.6L192.0 432.9L191.7 430.3L191.4 428.1L191.1 428.8L190.8 428.0L190.5 428.9L190.2 424.1L189.9 426.2L189.6 422.0L189.3 418.0L189.0 420.4L188.7 413.9L188.4 414.2L188.1 411.8L187.8 410.9L187.5 409.5L187.2 412.5L186.9 410.6L186.6 412.1L186.3 408.1L186.0 412.5L185.7 408.5L185.4 403.7L185.1 408.6L184.8 403.8L184.5 401.9L184.2 406.5L183.9 402.5L183.6 400.5L183.3 403.1L183.0 405.2L182.7 397.9L182.4 398.8L182.1 398.1L181.8 396.8L181.5 397.5L181.2 396.3L180.9 392.3L180.6 394.7L180.3 395.9L180.0 394.4L179.7 393.7L179.4 391.1L179.1 386.6L178.8 387.2L178.5 391.2L178.2 381.4L177.9 384.1L177.6 382.4L177.3 386.6L177.0 380.0L176.7 378.6L176.4 378.7L176.1 376.7L175.8 374.6L175.5 367.8L175.2 367.0L174.9 366.2L174.6 358.5L174.3 357.2L174.0 354.0L173.7 350.9L173.4 345.7L173.1 350.2L172.8 346.6L172.5 343.8L172.2 347.1L171.9 349.0L171.6 345.3L171.3 342.1L171.0 337.5L170.7 346.0L170.4 342.2L170.1 338.2L169.8 342.2L169.5 340.0L169.2 340.1L168.9 339.4L168.6 337.6L168.3 334.0L168.0 339.9L167.7 335.8L167.4 337.0L167.1 339.6L166.8 338.8L166.5 340.0L166.2 339.6L165.9 337.7L165.6 331.9L165.3 339.6L165.0 332.2L164.7 329.0L164.4 330.7L164.1 329.8L163.8 327.5L163.5 325.7L163.2 325.7L162.9 324.9L162.6 328.2L162.3 323.3L162.0 319.4L161.7 319.0L161.4 321.3L161.1 325.1L160.8 321.8L160.5 315.9L160.2 319.0L159.9 318.2L159.6 318.2L159.3 322.8L159.0 315.4L158.7 319.6L158.4 321.9L158.1 317.3L157.8 318.3L157.5 319.3L157.2 322.7L156.9 318.8L156.6 326.3L156.3 324.6L156.0 324.2L155.7 321.3L155.4 324.3L155.1 324.8L154.8 322.4L154.5 321.4L154.2 321.4L153.9 316.8L153.6 322.5L153.3 313.5L153.0 315.9L152.7 318.1L152.4 315.1L152.1 315.0L151.8 312.4L151.5 312.2L151.2 308.2L150.9 308.7L150.6 307.9L150.3 304.4L150.0 307.3L149.7 303.5L149.4 302.5L149.1 301.1L148.8 303.3L148.5 300.1L148.2 300.5L147.9 298.9L147.6 299.8L147.3 298.0L147.0 295.4L146.7 299.3L146.4 290.4L146.1 294.2L145.8 293.4L145.5 295.0L145.2 292.8L144.9 292.4L144.6 293.3L144.3 291.7L144.0 288.9L143.7 290.2L143.4 286.0L143.1 289.4L142.8 288.8L142.5 288.4L142.2 287.1L141.9 288.2L141.6 285.8L141.3 289.0L141.0 282.7L140.7 276.2L140.4 277.2L140.1 270.8L139.8 274.7L139.5 272.4L139.2 272.5L138.9 269.6L138.6 270.0L138.3 265.4L138.0 266.0L137.7 259.8L137.4 264.1L137.1 260.2L136.8 252.4L136.5 256.9L136.2 258.0L135.9 254.7L135.6 248.3L135.3 245.6L135.0 249.3L134.7 246.8L134.4 247.4L134.1 244.8L133.8 247.5L133.5 247.4L133.2 244.7L132.9 243.8L132.6 245.2L132.3 243.9L132.0 242.1L131.7 240.4L131.4 242.0L131.1 237.2L130.8 240.1L130.5 234.3L130.2 234.3L129.9 237.2L129.6 235.3L129.3 234.5L129.0 231.0L128.7 233.5L128.4 229.7L128.1 231.5L127.8 232.6L127.5 225.3L127.2 228.2L126.9 227.7L126.6 226.6L126.3 222.1L126.0 224.4L125.7 223.4L125.4 223.0L125.1 221.4L124.8 220.5L124.5 218.2L124.2 216.9L123.9 216.8L123.6 214.7L123.3 213.2L123.0 215.3L122.7 212.4L122.4 211.8L122.1 207.7L121.8 206.3L121.5 197.4L121.2 191.5L120.9 190.3L120.6 184.8Z" fill="#0072B2" fill-opacity="0.2" stroke="#0072B2" stroke-opacity="0.24" stroke-width="1.5" stroke-linejoin="bevel"/>
<rect x="935.3" y="303" width="9.3" height="183" fill="#0072B2" fill-opacity="0.13"/>
</g>
<line x1="111.50" x2="111.50" y1="16.55" y2="542.50" stroke="#808080" stroke-opacity="0.22" stroke-width="1.25"/>
<line x1="221.50" x2="221.50" y1="16.55" y2="542.50" stroke="#808080" stroke-opacity="0.22" stroke-width="1.25"/>
<line x1="331.50" x2="331.50" y1="16.55" y2="542.50" stroke="#808080" stroke-opacity="0.22" stroke-width="1.25"/>
<line x1="441.50" x2="441.50" y1="16.55" y2="542.50" stroke="#808080" stroke-opacity="0.22" stroke-width="1.25"/>
<line x1="551.50" x2="551.50" y1="16.55" y2="542.50" stroke="#808080" stroke-opacity="0.22" stroke-width="1.25"/>
<line x1="661.50" x2="661.50" y1="16.55" y2="542.50" stroke="#808080" stroke-opacity="0.22" stroke-width="1.25"/>
<line x1="771.50" x2="771.50" y1="16.55" y2="542.50" stroke="#808080" stroke-opacity="0.22" stroke-width="1.25"/>
<line x1="880.50" x2="880.50" y1="16.55" y2="542.50" stroke="#808080" stroke-opacity="0.22" stroke-width="1.25"/>
<line x1="79.50" x2="985.40" y1="518.50" y2="518.50" stroke="#808080" stroke-opacity="0.22" stroke-width="1.25"/>
<line x1="79.50" x2="985.40" y1="419.50" y2="419.50" stroke="#808080" stroke-opacity="0.22" stroke-width="1.25"/>
<line x1="79.50" x2="985.40" y1="319.50" y2="319.50" stroke="#808080" stroke-opacity="0.22" stroke-width="1.25"/>
<line x1="79.50" x2="985.40" y1="220.50" y2="220.50" stroke="#808080" stroke-opacity="0.22" stroke-width="1.25"/>
<line x1="79.50" x2="985.40" y1="121.50" y2="121.50" stroke="#808080" stroke-opacity="0.22" stroke-width="1.25"/>
<line x1="79.50" x2="985.40" y1="21.50" y2="21.50" stroke="#808080" stroke-opacity="0.22" stroke-width="1.25"/>
<g clip-path="url(#c)">
<path d="M121.2 40.5h0M121.2 48.8h0M121.3 51.5h0M121.3 54.5h0M121.4 62.5h0M122.0 69.5h0M122.2 79.2h0M128.5 93.0h0M129.4 97.0h0M128.0 100.0h0M123.0 103.0h0M130.0 102.5h0M127.0 103.8h0M126.2 107.5h0M125.0 112.0h0M130.0 114.4h0M122.5 118.0h0M125.6 122.5h0M124.4 127.5h0M126.2 132.5h0M131.2 133.8h0M125.0 133.8h0M131.2 135.0h0M132.0 141.0h0M123.8 145.0h0M132.0 146.0h0M132.0 153.8h0M131.2 156.0h0M122.5 159.4h0M133.8 168.0h0M133.0 173.8h0M133.8 178.8h0M122.5 185.0h0M153.3 329.5h0M301.2 326.0h0M325.0 285.0h0M337.0 312.5h0M337.0 318.8h0M392.5 410.0h0M550.0 417.0h0M598.2 204.2h0M598.2 222.5h0M598.2 233.2h0M873.5 280.5h0M872.5 319.5h0M858.2 386.2h0M282.0 410.0h0M282.0 403.8h0M528.8 388.8h0M530.0 382.5h0M531.0 378.0h0" stroke="#000" stroke-width="5.5" stroke-linecap="round" fill="none"/>
<path d="M134.9 182.8h0M135.1 186.0h0M134.9 188.0h0M135.8 191.8h0M135.6 191.3h0M136.6 194.7h0M135.2 196.4h0M135.4 197.4h0M136.0 199.1h0M135.1 201.0h0M135.4 200.7h0M135.0 203.2h0M136.3 204.4h0M135.0 206.1h0M136.3 207.0h0M136.0 206.5h0M136.1 208.7h0M136.9 208.7h0M136.6 211.1h0M137.1 210.9h0M136.4 214.6h0M138.0 214.3h0M138.8 215.1h0M137.5 215.1h0M138.4 216.1h0M138.6 217.1h0M138.9 225.0h0M139.4 225.7h0M139.7 229.1h0M139.7 229.4h0M140.0 230.6h0M142.8 174.8h0M142.6 177.9h0M143.7 179.9h0M142.3 183.6h0M143.3 188.9h0M142.9 192.3h0M143.8 192.5h0M143.5 195.9h0M144.1 197.9h0M143.1 195.7h0M144.9 197.2h0M142.9 196.5h0M142.1 197.5h0M142.2 198.0h0M140.8 198.2h0M141.2 201.8h0M141.8 200.2h0M142.0 201.1h0M141.8 201.4h0M143.7 200.5h0M142.5 201.9h0M143.2 203.7h0M143.1 202.2h0M143.3 204.1h0M143.3 209.0h0M143.5 205.2h0M144.9 204.7h0M145.8 206.1h0M146.6 205.7h0M146.2 205.2h0M145.8 206.8h0M146.4 207.6h0M148.2 208.1h0M146.6 209.6h0M146.3 209.7h0M147.1 209.3h0M146.2 210.5h0M145.5 211.2h0M145.9 212.2h0M145.5 211.8h0M146.1 212.3h0M145.5 213.3h0M145.7 215.4h0M146.9 213.8h0M145.6 214.8h0M145.2 215.6h0M146.5 213.9h0M147.4 217.5h0M147.6 218.0h0M147.3 217.6h0M148.9 217.9h0M149.6 218.7h0M148.5 217.5h0M148.4 220.0h0M148.0 221.4h0M147.7 223.7h0M147.0 223.0h0M146.5 224.0h0M146.5 226.4h0M146.5 228.0h0M146.3 228.2h0M146.1 230.3h0M146.3 228.1h0M147.7 227.3h0M148.5 228.9h0M147.2 230.2h0M148.0 231.0h0M149.3 228.0h0M148.9 229.9h0M149.6 229.6h0M149.2 233.5h0M149.2 232.0h0M147.6 234.7h0M147.7 233.6h0M146.6 233.2h0M148.3 234.7h0M147.1 234.2h0M146.6 235.0h0M145.3 235.9h0M146.2 235.0h0M147.3 237.7h0M146.8 238.4h0M147.3 238.7h0M147.6 240.2h0M149.1 239.3h0M149.6 239.7h0M148.7 242.5h0M148.6 243.6h0M150.4 244.0h0M150.2 243.9h0M149.5 245.2h0M147.9 247.3h0M148.7 247.7h0M147.6 247.6h0M147.6 247.6h0M146.9 246.2h0M147.6 248.0h0M147.4 250.2h0M146.4 250.3h0M146.5 249.1h0M146.4 250.7h0M146.2 250.7h0M146.7 250.4h0M146.7 249.7h0M148.2 249.9h0M148.2 252.9h0M148.9 251.0h0M149.1 251.3h0M149.4 251.6h0M149.3 251.3h0M150.0 251.4h0M150.3 253.4h0M149.9 253.2h0M150.5 252.2h0M147.9 253.8h0M148.4 253.9h0M148.4 255.0h0M147.1 255.3h0M147.7 256.3h0M148.5 256.2h0M148.3 257.6h0M146.5 256.3h0M145.7 257.4h0M147.7 257.9h0M147.4 258.9h0M147.2 258.5h0M147.6 258.2h0M148.5 257.0h0M148.2 257.9h0M147.2 258.7h0M149.2 261.2h0M149.8 257.4h0M150.9 258.1h0M150.4 257.8h0M150.6 259.3h0M150.9 259.9h0M151.2 260.0h0M151.5 279.7h0M152.8 294.8h0M152.2 296.5h0M152.2 297.5h0M154.6 300.0h0M153.8 303.7h0M152.8 307.4h0M154.1 311.6h0M154.4 313.7h0M156.0 313.8h0M156.7 313.3h0M155.0 310.3h0M155.0 310.5h0M157.1 310.6h0M157.6 311.8h0M159.6 312.6h0M156.8 311.8h0M158.1 315.2h0M158.6 316.5h0M159.9 315.1h0M160.4 317.9h0M158.5 318.7h0M160.0 305.5h0M160.6 295.5h0M159.7 297.7h0M161.1 300.1h0M161.3 297.8h0M162.4 298.9h0M161.4 300.2h0M163.6 302.3h0M161.5 295.9h0M163.0 288.9h0M161.9 283.3h0M165.7 300.2h0M163.9 302.0h0M164.6 300.2h0M164.5 305.1h0M164.1 302.6h0M165.9 305.8h0M167.7 304.2h0M166.9 306.6h0M166.5 307.0h0M167.6 309.9h0M166.5 311.1h0M167.4 313.6h0M168.2 310.9h0M169.2 310.8h0M167.7 300.1h0M167.5 299.8h0M166.5 291.9h0M167.0 293.3h0M168.2 292.5h0M169.4 290.6h0M168.7 288.8h0M169.7 286.8h0M170.7 298.4h0M171.1 300.4h0M170.6 300.7h0M170.1 305.1h0M172.5 307.0h0M173.5 303.2h0M169.9 298.7h0M171.0 296.3h0M172.4 293.7h0M171.6 295.2h0M172.1 294.3h0M173.4 291.5h0M173.3 293.0h0M172.8 244.0h0M173.2 245.6h0M171.9 247.1h0M173.1 249.5h0M172.6 252.5h0M172.1 253.9h0M172.4 254.8h0M173.1 257.6h0M172.8 258.5h0M172.1 259.0h0M172.6 262.4h0M173.0 261.0h0M173.8 259.5h0M174.8 260.9h0M175.2 261.2h0M176.0 263.3h0M175.2 262.5h0M175.5 265.1h0M176.8 265.6h0M176.6 267.1h0M177.0 266.9h0M177.7 269.1h0M177.6 270.1h0M176.6 269.7h0M178.3 272.2h0M178.3 274.7h0M177.9 274.6h0M178.1 276.0h0M176.2 274.7h0M176.8 278.1h0M176.1 277.9h0M175.7 277.7h0M177.0 277.3h0M174.9 278.6h0M176.2 279.3h0M175.7 280.2h0M175.7 279.3h0M176.0 282.1h0M176.0 284.1h0M175.2 280.5h0M176.4 283.3h0M178.3 284.3h0M177.6 284.6h0M177.7 285.0h0M176.6 286.7h0M178.8 286.2h0M177.7 288.8h0M179.2 287.4h0M179.1 288.8h0M179.6 290.5h0M180.5 290.4h0M180.0 299.5h0M180.9 302.9h0M181.8 303.3h0M181.6 305.5h0M181.4 308.4h0M183.4 308.7h0M182.1 311.9h0M181.6 312.7h0M182.1 314.4h0M182.7 316.4h0M182.3 319.6h0M183.2 318.2h0M183.9 321.4h0M183.4 320.7h0M183.2 325.0h0M184.8 326.5h0M185.2 328.1h0M185.6 328.6h0M184.8 329.9h0M185.4 334.0h0M186.6 334.8h0M187.4 337.6h0M186.4 341.8h0M186.2 346.6h0M186.3 349.9h0M187.5 352.7h0M187.5 353.0h0M187.3 358.6h0M187.5 356.3h0M188.0 359.8h0M189.3 362.8h0M189.2 365.6h0M189.0 366.8h0M189.1 371.0h0M190.0 371.1h0M189.3 377.3h0M189.9 386.5h0M190.0 390.0h0M195.5 359.4h0M195.5 361.5h0M195.7 368.3h0M196.2 371.3h0M196.4 372.0h0M197.3 375.9h0M196.2 376.5h0M196.0 379.6h0M197.4 383.6h0M196.9 386.0h0M197.4 386.3h0M197.8 389.2h0M198.3 388.3h0M198.4 390.1h0M198.5 390.5h0M199.5 391.9h0M200.5 392.8h0M199.2 396.1h0M198.8 398.2h0M199.7 399.4h0M198.9 399.5h0M198.8 403.8h0M200.8 374.0h0M202.3 377.5h0M201.5 381.0h0M205.1 384.2h0M203.5 387.7h0M203.6 388.9h0M205.8 390.2h0M202.0 394.4h0M204.2 390.7h0M206.4 398.2h0M201.4 395.5h0M204.8 400.2h0M207.6 402.0h0M204.3 402.7h0M205.9 402.5h0M205.3 406.0h0M207.5 404.2h0M205.3 409.9h0M207.3 410.5h0M205.8 407.4h0M207.8 408.5h0M208.1 413.6h0M208.9 412.2h0M209.7 408.6h0M209.2 415.2h0M207.6 414.3h0M207.5 418.0h0M208.8 417.4h0M209.0 415.4h0M210.2 416.6h0M208.1 424.3h0M209.0 423.4h0M210.9 419.6h0M209.4 419.0h0M209.9 420.2h0M211.3 418.9h0M210.6 419.1h0M211.9 421.2h0M212.6 416.6h0M209.1 419.0h0M212.3 417.7h0M210.6 417.0h0M210.6 413.6h0M211.7 410.8h0M213.7 415.7h0M212.0 410.7h0M213.3 406.5h0M213.4 411.4h0M212.1 406.9h0M211.9 405.1h0M214.5 404.5h0M215.6 404.9h0M213.4 403.9h0M217.2 403.9h0M212.6 399.7h0M215.7 401.4h0M214.5 402.0h0M215.4 401.0h0M216.1 396.2h0M217.1 399.4h0M216.5 394.7h0M216.0 396.0h0M218.4 394.3h0M217.8 392.8h0M217.3 391.7h0M218.1 390.8h0M217.4 392.8h0M222.3 391.5h0M218.3 387.2h0M217.6 387.7h0M220.0 386.5h0M220.9 386.3h0M217.7 388.0h0M218.4 388.3h0M217.6 382.0h0M218.1 386.6h0M220.5 381.8h0M221.2 385.2h0M221.0 383.6h0M220.6 383.5h0M220.3 376.5h0M221.2 380.7h0M221.2 380.6h0M222.4 380.4h0M224.2 376.4h0M222.1 378.6h0M221.5 381.6h0M223.3 379.1h0M222.9 380.5h0M222.6 384.3h0M225.1 382.2h0M224.8 382.4h0M225.5 383.4h0M223.9 383.4h0M224.7 388.1h0M225.6 385.8h0M225.0 381.8h0M226.2 381.9h0M225.2 383.6h0M227.8 382.0h0M227.6 374.8h0M225.0 375.4h0M226.0 375.9h0M227.7 376.5h0M228.4 378.2h0M228.6 377.0h0M226.6 375.5h0M226.6 376.1h0M227.6 372.4h0M227.6 374.9h0M226.8 370.4h0M228.8 370.6h0M228.8 370.9h0M230.8 370.3h0M228.4 369.5h0M231.0 370.4h0M229.1 371.0h0M230.9 375.0h0M231.7 373.2h0M232.9 373.6h0M230.0 374.5h0M230.8 381.2h0M229.3 381.9h0M232.6 381.1h0M229.5 385.1h0M232.4 383.0h0M232.4 383.2h0M231.8 384.6h0M231.8 381.0h0M230.8 381.2h0M232.8 384.0h0M232.8 385.1h0M232.5 376.3h0M235.1 383.6h0M233.2 379.9h0M234.5 377.6h0M234.8 381.9h0M234.3 379.4h0M235.8 379.6h0M236.7 380.1h0M235.1 378.3h0M236.4 377.2h0M233.9 377.3h0M236.3 375.5h0M236.3 378.4h0M238.5 372.9h0M235.5 377.7h0M238.7 372.3h0M236.4 377.8h0M238.1 375.5h0M241.6 372.6h0M238.0 372.4h0M236.4 377.1h0M241.1 374.7h0M240.3 374.0h0M240.3 373.0h0M241.4 373.2h0M239.3 373.4h0M240.9 368.6h0M238.8 366.4h0M239.3 369.0h0M241.2 364.4h0M243.6 367.6h0M240.7 362.8h0M243.3 361.4h0M241.1 358.4h0M240.8 358.2h0M242.8 356.6h0M242.4 357.2h0M238.2 358.6h0M244.0 358.4h0M243.6 361.1h0M241.5 364.1h0M243.1 373.6h0M245.3 370.6h0M243.9 370.5h0M244.5 373.5h0M243.0 376.7h0M244.4 375.2h0M245.0 376.3h0M245.9 374.0h0M243.5 380.2h0M246.1 371.8h0M247.1 377.6h0M246.2 383.5h0M245.5 378.1h0M245.3 381.5h0M245.7 381.8h0M246.6 384.4h0M248.4 381.0h0M248.3 383.8h0M247.6 379.2h0M248.9 382.3h0M250.0 381.1h0M248.0 383.7h0M249.9 385.9h0M249.3 380.7h0M246.6 384.5h0M248.0 384.1h0M249.7 385.9h0M250.0 384.9h0M251.3 384.1h0M249.5 387.2h0M249.0 382.5h0M250.3 384.7h0M253.5 390.0h0M250.0 389.0h0M251.3 389.7h0M250.9 388.4h0M251.5 388.3h0M250.3 388.5h0M249.0 393.4h0M252.5 396.8h0M251.5 397.1h0M255.3 394.9h0M255.1 393.5h0M255.5 394.1h0M255.1 398.3h0M254.6 397.9h0M253.5 401.4h0M255.7 403.8h0M257.0 404.6h0M254.8 404.9h0M257.4 403.2h0M258.1 405.2h0M255.9 409.2h0M255.1 413.4h0M257.5 412.7h0M258.1 409.8h0M260.9 413.7h0M255.7 407.0h0M258.5 411.9h0M259.3 408.1h0M257.6 405.6h0M258.3 404.4h0M258.3 402.6h0M261.3 406.7h0M258.7 402.2h0M258.7 395.7h0M259.1 400.1h0M258.9 394.8h0M258.9 396.0h0M261.5 393.4h0M260.8 396.3h0M261.5 391.6h0M260.5 389.8h0M259.7 393.6h0M261.1 391.0h0M261.5 392.5h0M261.6 392.6h0M262.4 391.0h0M263.3 387.3h0M261.5 390.9h0M261.7 385.2h0M263.7 385.7h0M262.1 388.0h0M262.3 388.6h0M266.0 384.3h0M263.4 385.2h0M263.7 380.0h0M269.0 380.5h0M266.0 378.3h0M265.8 380.2h0M264.0 381.4h0M266.7 378.8h0M266.9 379.8h0M267.1 377.8h0M265.0 373.9h0M267.6 372.6h0M268.2 376.6h0M269.3 370.4h0M268.8 373.7h0M267.2 372.5h0M267.6 374.4h0M267.6 371.0h0M267.4 370.6h0M268.9 373.4h0M269.3 374.9h0M266.7 376.9h0M269.8 376.6h0M268.4 381.1h0M272.1 379.1h0M270.8 385.3h0M270.2 382.7h0M270.2 386.5h0M269.7 392.7h0M271.3 387.7h0M272.2 389.7h0M272.5 388.6h0M270.3 386.7h0M270.7 390.4h0M271.5 393.3h0M272.5 394.8h0M271.6 393.2h0M272.7 393.5h0M274.9 394.7h0M272.8 394.9h0M273.0 395.6h0M274.3 398.2h0M275.7 395.1h0M276.4 395.5h0M273.7 397.9h0M274.5 398.8h0M274.7 398.7h0M275.6 395.9h0M275.8 398.6h0M273.8 399.3h0M275.9 400.6h0M279.0 396.6h0M275.8 400.1h0M276.8 395.2h0M279.1 396.2h0M279.3 393.5h0M279.8 393.0h0M280.2 394.0h0M276.7 387.7h0M280.7 394.5h0M278.8 390.2h0M278.5 392.3h0M279.2 390.6h0M280.5 388.1h0M280.3 391.1h0M281.7 389.3h0M280.7 393.4h0M280.9 390.8h0M280.6 392.7h0M279.6 395.5h0M279.4 394.3h0M281.7 393.7h0M282.7 398.1h0M281.6 397.2h0M281.0 395.5h0M280.3 395.6h0M281.5 396.1h0M282.2 400.2h0M283.2 400.6h0M283.6 397.7h0M282.4 399.2h0M282.9 394.8h0M285.7 395.2h0M284.9 400.1h0M284.0 400.3h0M284.6 393.5h0M285.1 397.1h0M286.0 391.9h0M286.1 394.3h0M284.4 395.0h0M286.6 392.6h0M288.6 393.8h0M289.0 394.2h0M288.6 392.3h0M287.5 395.4h0M287.8 396.5h0M289.1 396.3h0M288.1 395.9h0M289.2 392.9h0M290.1 391.2h0M289.0 390.6h0M291.4 391.2h0M292.6 394.6h0M290.1 391.0h0M288.7 394.9h0M288.8 391.9h0M291.1 397.1h0M292.7 390.4h0M291.7 390.7h0M294.4 395.5h0M292.1 390.2h0M292.4 390.6h0M294.3 389.8h0M293.0 387.3h0M291.9 389.5h0M292.2 391.4h0M292.9 387.0h0M295.0 390.1h0M295.6 388.1h0M293.7 390.3h0M297.8 385.8h0M297.1 385.8h0M296.5 387.8h0M294.5 384.5h0M296.0 386.6h0M296.1 386.6h0M298.2 382.5h0M298.6 387.1h0M294.8 385.6h0M296.8 385.6h0M298.0 379.8h0M296.4 386.2h0M299.8 385.6h0M296.4 385.1h0M297.3 385.6h0M298.8 388.0h0M298.3 392.6h0M298.2 393.2h0M298.7 394.1h0M299.6 388.5h0M298.8 388.7h0M298.3 380.0h0M301.5 382.7h0M300.0 380.6h0M299.1 375.3h0M301.4 370.8h0M300.8 365.6h0M300.8 364.0h0M298.8 361.2h0M300.9 359.0h0M300.6 356.4h0M301.7 352.7h0M304.3 348.1h0M302.2 348.0h0M302.6 346.5h0M300.7 342.1h0M303.6 343.7h0M303.1 344.7h0M303.4 342.7h0M303.9 342.3h0M304.2 343.0h0M301.3 338.8h0M304.1 339.4h0M304.8 340.0h0M305.5 337.1h0M303.4 340.4h0M305.5 331.5h0M302.8 333.9h0M306.2 341.0h0M307.6 337.3h0M306.3 337.4h0M305.7 335.8h0M306.4 341.6h0M305.5 336.3h0M307.6 338.8h0M306.6 342.1h0M305.2 340.1h0M305.6 343.6h0M306.2 341.9h0M306.4 345.1h0M310.4 339.6h0M309.2 344.1h0M308.5 343.6h0M309.0 345.9h0M310.0 343.3h0M308.7 343.2h0M306.5 346.8h0M309.6 348.0h0M309.6 352.0h0M309.4 347.4h0M308.1 340.6h0M309.9 336.7h0M310.5 332.3h0M310.9 330.6h0M309.4 330.9h0M312.4 329.2h0M310.6 333.1h0M311.0 329.1h0M312.8 323.5h0M313.7 323.6h0M311.6 320.3h0M313.5 326.7h0M312.7 327.3h0M311.5 321.6h0M310.9 317.5h0M313.1 319.2h0M316.5 323.2h0M313.6 319.7h0M314.3 311.3h0M315.8 319.5h0M316.0 313.7h0M316.1 313.4h0M314.2 312.5h0M315.1 314.3h0M315.8 311.6h0M316.2 308.6h0M315.7 312.7h0M315.1 307.7h0M315.2 313.5h0M316.1 313.5h0M319.3 306.6h0M317.0 309.3h0M320.1 306.9h0M315.7 306.4h0M318.6 308.4h0M318.1 306.2h0M317.6 307.4h0M318.1 303.2h0M319.3 307.3h0M320.5 306.2h0M319.8 301.7h0M322.6 302.5h0M315.8 302.2h0M321.3 307.4h0M321.6 306.0h0M320.6 300.1h0M321.4 300.2h0M320.2 303.8h0M318.5 303.9h0M322.6 303.1h0M321.8 300.4h0M320.9 303.9h0M320.6 306.1h0M321.6 305.1h0M321.9 307.3h0M321.9 307.9h0M320.6 309.2h0M322.1 308.3h0M319.8 316.5h0M321.2 312.6h0M320.5 311.8h0M322.8 311.2h0M322.0 310.7h0M321.2 314.3h0M321.8 312.3h0M323.3 312.1h0M324.4 313.4h0M326.5 312.0h0M323.8 316.0h0M325.2 273.5h0M325.8 271.1h0M325.8 264.8h0M326.2 264.2h0M324.8 261.6h0M326.9 260.6h0M327.2 257.7h0M327.5 257.5h0M328.0 255.0h0M328.3 242.8h0M327.6 238.6h0M326.8 235.3h0M326.6 236.3h0M326.4 238.8h0M328.3 244.1h0M327.4 241.3h0M327.0 246.2h0M328.5 251.4h0M328.0 252.4h0M328.1 256.2h0M327.8 258.6h0M327.3 260.2h0M329.0 262.6h0M328.8 263.7h0M329.1 269.4h0M329.5 270.5h0M329.6 272.5h0M331.2 273.2h0M330.4 277.0h0M330.8 275.7h0M329.7 279.1h0M331.6 277.9h0M331.0 279.6h0M331.9 282.2h0M331.5 285.3h0M331.2 284.9h0M332.5 287.8h0M333.7 290.8h0M332.1 290.4h0M334.1 291.6h0M332.6 295.2h0M334.6 294.1h0M333.4 298.4h0M335.2 300.2h0M334.7 299.3h0M334.8 302.7h0M335.8 303.7h0M335.4 306.2h0M335.1 306.3h0M335.0 307.7h0M335.2 311.6h0M335.7 314.6h0M336.1 315.4h0M336.1 313.1h0M337.8 309.3h0M336.3 304.0h0M337.2 298.2h0M337.1 295.7h0M336.9 295.4h0M336.9 292.2h0M338.5 289.5h0M338.2 289.3h0M338.2 285.4h0M339.7 283.1h0M338.7 280.3h0M338.6 281.4h0M341.2 277.8h0M340.4 276.4h0M339.3 273.4h0M340.9 271.5h0M342.7 271.5h0M341.2 269.9h0M341.8 267.2h0M340.3 264.6h0M341.2 261.8h0M342.7 259.2h0M341.2 258.6h0M341.3 252.4h0M342.5 251.3h0M343.6 245.7h0M343.7 242.4h0M342.6 240.6h0M343.2 236.7h0M344.8 238.2h0M344.1 236.6h0M344.2 229.8h0M343.2 223.9h0M343.7 221.4h0M343.5 219.2h0M342.5 224.5h0M343.5 225.2h0M344.3 230.0h0M344.9 232.5h0M344.3 237.5h0M345.0 239.3h0M344.1 244.6h0M344.5 247.1h0M344.1 251.5h0M345.2 255.9h0M344.9 259.8h0M344.1 258.8h0M344.8 262.8h0M345.4 265.8h0M346.0 267.3h0M346.8 269.6h0M347.1 267.2h0M346.9 265.3h0M347.2 265.9h0M347.4 265.4h0M347.4 264.0h0M348.3 261.8h0M348.5 262.3h0M348.5 262.9h0M348.3 262.0h0M348.2 262.6h0M348.4 262.5h0M349.3 263.5h0M350.1 264.8h0M350.8 262.9h0M348.8 263.5h0M349.8 265.7h0M350.6 262.3h0M351.1 266.0h0M351.9 265.4h0M352.2 269.9h0M352.2 269.7h0M352.3 269.5h0M351.0 270.8h0M350.7 272.6h0M352.3 273.2h0M352.0 276.4h0M352.1 277.7h0M350.7 276.0h0M350.4 277.2h0M351.8 275.8h0M349.5 280.7h0M350.3 279.4h0M350.4 280.6h0M351.2 280.8h0M351.9 281.1h0M351.1 280.7h0M351.3 279.7h0M351.3 283.0h0M351.6 284.6h0M352.2 282.6h0M353.2 283.5h0M353.1 284.3h0M353.7 286.1h0M352.7 281.9h0M353.9 285.3h0M354.6 285.9h0M354.8 288.7h0M354.4 290.9h0M355.2 293.4h0M354.6 295.0h0M355.6 296.7h0M355.0 297.4h0M355.0 301.5h0M355.3 301.1h0M356.4 303.7h0M357.4 307.7h0M356.1 308.5h0M357.4 311.8h0M356.4 310.4h0M357.4 317.0h0M358.1 315.8h0M357.4 319.0h0M356.5 323.7h0M358.3 321.3h0M359.1 323.7h0M358.1 323.4h0M359.1 327.5h0M359.7 328.7h0M359.5 330.3h0M360.9 329.8h0M360.1 331.0h0M360.4 332.4h0M360.8 334.1h0M361.4 334.4h0M360.0 335.4h0M361.9 336.0h0M361.4 336.5h0M362.6 338.8h0M364.1 336.2h0M362.4 339.8h0M363.3 338.2h0M364.0 339.9h0M364.1 338.6h0M363.8 340.2h0M364.3 338.9h0M364.1 338.5h0M365.0 341.1h0M365.4 339.9h0M364.9 343.7h0M366.5 343.5h0M365.5 343.5h0M366.2 345.0h0M367.1 347.6h0M366.1 349.4h0M366.4 348.2h0M367.8 348.0h0M367.8 349.7h0M367.7 352.4h0M368.4 349.2h0M367.9 353.0h0M367.4 351.3h0M368.6 356.0h0M369.4 354.0h0M369.5 356.5h0M369.3 358.2h0M368.9 355.1h0M370.2 358.2h0M370.5 356.8h0M369.6 359.6h0M371.6 360.4h0M371.8 360.8h0M372.2 361.0h0M371.8 362.1h0M372.3 363.9h0M373.5 367.5h0M373.8 363.3h0M371.6 364.5h0M371.6 365.4h0M370.8 367.1h0M370.9 365.4h0M371.1 366.8h0M371.2 367.7h0M370.1 369.4h0M369.7 368.1h0M369.2 371.0h0M370.5 369.4h0M369.6 369.3h0M369.2 368.5h0M368.0 371.3h0M368.0 371.1h0M368.5 371.8h0M367.1 371.4h0M369.1 371.9h0M368.3 374.4h0M368.5 374.3h0M368.7 372.2h0M368.7 373.2h0M369.5 371.8h0M368.7 373.2h0M369.1 370.5h0M368.9 372.9h0M368.9 373.0h0M369.8 373.9h0M371.2 372.8h0M371.1 372.6h0M372.4 371.7h0M371.0 373.6h0M372.3 373.7h0M371.7 373.0h0M373.4 372.7h0M372.3 370.5h0M372.4 373.9h0M371.8 372.5h0M371.1 374.9h0M371.2 376.5h0M369.5 373.0h0M371.7 378.5h0M370.6 374.9h0M368.9 376.7h0M370.3 378.9h0M369.3 376.9h0M369.2 378.4h0M367.9 376.5h0M368.9 379.9h0M368.6 378.8h0M367.6 379.6h0M367.4 378.9h0M367.5 378.6h0M367.2 381.5h0M367.6 384.1h0M368.0 386.0h0M380.1 331.6h0M379.8 331.9h0M379.1 335.8h0M379.9 335.1h0M378.7 341.4h0M380.7 335.9h0M380.1 337.7h0M379.0 340.8h0M381.8 338.7h0M381.0 340.1h0M381.7 343.8h0M379.5 348.4h0M381.2 345.4h0M380.3 347.3h0M382.5 347.7h0M382.4 344.7h0M383.0 350.8h0M383.3 350.3h0M383.3 352.0h0M383.5 353.7h0M384.7 354.4h0M384.1 358.9h0M383.9 358.9h0M383.3 360.0h0M387.5 359.0h0M385.5 363.7h0M384.6 361.3h0M386.8 364.7h0M386.7 366.8h0M386.6 367.1h0M386.7 371.3h0M386.9 369.2h0M389.2 368.0h0M387.5 365.3h0M387.6 371.5h0M387.4 371.9h0M389.1 369.3h0M391.5 368.7h0M390.3 367.0h0M388.9 370.3h0M390.8 367.6h0M391.6 372.3h0M393.0 367.6h0M389.6 369.1h0M389.6 374.1h0M392.5 370.3h0M390.3 373.5h0M390.3 372.1h0M391.9 375.6h0M390.6 378.6h0M389.3 374.7h0M392.5 380.6h0M390.2 377.6h0M390.4 381.3h0M392.7 382.0h0M390.5 378.9h0M393.6 380.6h0M391.6 381.9h0M390.5 379.0h0M392.2 382.5h0M390.2 379.1h0M394.1 381.8h0M390.7 387.4h0M394.4 387.5h0M394.8 388.7h0M393.6 389.4h0M393.6 392.4h0M392.4 395.2h0M395.3 394.6h0M394.9 396.8h0M395.8 396.5h0M394.4 397.3h0M396.7 398.2h0M396.8 394.4h0M394.3 395.2h0M397.2 397.9h0M398.8 392.4h0M398.0 399.7h0M397.0 396.8h0M396.9 397.4h0M397.8 398.0h0M398.3 398.9h0M397.8 396.4h0M402.0 394.1h0M400.1 396.8h0M400.9 398.9h0M402.1 400.3h0M399.7 395.2h0M400.4 397.7h0M401.3 397.5h0M402.7 400.8h0M398.4 400.1h0M402.9 404.1h0M400.8 405.9h0M400.8 404.9h0M401.7 408.4h0M402.7 403.1h0M405.9 405.2h0M404.8 405.1h0M403.6 406.0h0M401.6 402.2h0M404.1 407.2h0M405.7 406.3h0M402.6 409.7h0M405.6 404.0h0M406.8 406.8h0M407.4 407.5h0M404.9 403.1h0M406.2 408.0h0M408.8 404.7h0M407.8 407.7h0M408.0 408.0h0M408.0 406.1h0M407.0 408.6h0M406.5 406.6h0M407.7 409.1h0M408.7 408.8h0M408.8 413.2h0M410.5 412.1h0M408.6 408.0h0M409.7 415.0h0M409.5 416.9h0M409.6 413.1h0M412.3 418.9h0M411.5 415.3h0M411.9 420.1h0M411.3 418.1h0M413.2 420.1h0M411.1 419.2h0M412.4 420.6h0M410.9 417.6h0M413.2 422.4h0M412.4 421.5h0M412.2 419.1h0M415.2 420.9h0M413.9 422.4h0M415.7 425.0h0M415.1 422.8h0M416.5 418.2h0M416.7 418.1h0M414.5 420.1h0M416.6 418.9h0M415.0 418.7h0M416.8 419.0h0M415.9 413.1h0M415.9 416.6h0M415.4 414.5h0M416.3 415.1h0M418.1 415.1h0M418.0 410.8h0M417.0 412.5h0M418.7 411.2h0M417.9 414.0h0M416.3 416.7h0M418.0 415.5h0M417.7 415.9h0M419.5 419.3h0M421.6 419.0h0M420.0 419.9h0M420.1 422.9h0M420.4 418.8h0M420.2 423.9h0M422.1 418.7h0M419.6 425.4h0M421.4 424.4h0M422.0 422.1h0M422.1 423.0h0M423.6 425.0h0M420.7 426.0h0M424.6 417.4h0M424.7 420.9h0M422.9 423.6h0M423.8 424.5h0M423.9 420.0h0M423.4 422.9h0M423.3 420.4h0M423.2 419.9h0M424.4 420.2h0M423.1 422.1h0M425.4 422.8h0M425.3 420.5h0M427.1 420.5h0M426.8 420.6h0M426.1 418.7h0M425.8 416.5h0M426.7 416.5h0M427.4 415.8h0M425.2 413.6h0M426.3 414.9h0M427.6 417.0h0M428.7 412.8h0M430.5 411.5h0M428.4 408.2h0M431.0 408.9h0M428.1 403.4h0M429.8 401.3h0M428.4 401.9h0M431.9 405.1h0M427.8 406.5h0M431.6 406.9h0M432.4 409.1h0M431.2 405.0h0M432.2 407.0h0M435.3 408.1h0M430.7 409.5h0M433.1 410.7h0M433.2 409.1h0M431.5 411.0h0M432.5 410.4h0M432.9 411.3h0M434.0 409.2h0M432.8 400.5h0M433.9 396.9h0M433.2 391.4h0M432.1 390.7h0M434.7 393.2h0M434.2 387.3h0M433.2 384.9h0M435.6 381.1h0M434.3 381.8h0M434.2 379.9h0M437.8 378.2h0M436.3 378.5h0M436.8 376.1h0M437.3 378.7h0M437.8 375.4h0M438.2 375.3h0M439.3 373.4h0M435.7 372.4h0M438.2 377.3h0M440.5 378.9h0M439.1 378.9h0M438.8 380.2h0M439.2 379.2h0M439.2 377.5h0M438.1 377.9h0M438.2 385.9h0M439.6 380.2h0M440.2 379.7h0M442.2 381.8h0M441.0 384.2h0M442.6 383.4h0M441.0 379.8h0M441.4 377.8h0M442.5 385.1h0M443.6 383.5h0M442.0 381.3h0M441.3 383.7h0M441.7 383.4h0M443.3 383.2h0M445.8 381.4h0M443.3 382.8h0M444.7 383.1h0M444.3 383.6h0M445.3 386.0h0M444.5 382.9h0M444.0 386.1h0M447.3 386.2h0M445.5 389.6h0M446.7 384.1h0M447.7 386.5h0M449.8 386.4h0M447.5 386.0h0M448.2 364.7h0M447.4 353.2h0M447.7 352.0h0M448.2 347.6h0M446.9 347.0h0M448.0 344.0h0M448.9 343.8h0M447.9 340.1h0M448.7 337.9h0M448.0 337.4h0M450.3 335.2h0M449.5 336.0h0M449.9 335.0h0M449.6 334.2h0M450.8 335.0h0M451.6 332.3h0M450.6 333.0h0M451.7 331.4h0M451.6 331.1h0M451.2 335.3h0M452.8 334.3h0M452.1 336.1h0M452.8 338.0h0M454.4 339.7h0M453.8 337.5h0M454.0 338.4h0M455.1 338.9h0M454.7 339.8h0M455.2 341.7h0M455.2 340.8h0M455.6 343.2h0M454.6 342.2h0M454.3 345.3h0M454.8 343.6h0M456.5 345.9h0M454.9 354.1h0M458.2 359.4h0M457.0 362.7h0M457.4 362.2h0M456.2 365.0h0M456.9 362.4h0M457.6 361.2h0M457.7 357.6h0M457.2 355.4h0M458.7 354.6h0M458.5 355.8h0M459.1 352.9h0M458.2 350.7h0M458.8 349.0h0M460.4 348.4h0M459.4 344.8h0M460.7 343.0h0M461.5 341.7h0M460.1 341.9h0M460.1 342.5h0M460.8 339.5h0M459.7 338.6h0M462.0 338.4h0M461.0 335.0h0M461.3 333.9h0M462.7 332.4h0M461.2 330.9h0M463.2 330.2h0M461.8 329.3h0M463.4 328.9h0M463.2 329.0h0M463.8 327.9h0M464.0 326.3h0M464.1 326.2h0M463.9 326.1h0M464.0 325.2h0M466.3 325.2h0M464.8 323.5h0M464.0 322.9h0M465.7 321.3h0M462.6 320.6h0M463.1 320.6h0M462.2 320.3h0M463.0 319.7h0M462.1 318.1h0M462.0 317.1h0M463.1 316.8h0M464.5 315.8h0M464.3 315.1h0M464.3 315.8h0M463.1 315.5h0M463.9 313.4h0M463.7 314.1h0M464.8 314.9h0M465.0 312.5h0M461.2 313.4h0M465.2 308.3h0M464.8 312.3h0M467.3 310.9h0M464.4 309.0h0M464.8 309.2h0M465.3 305.1h0M465.7 308.4h0M467.7 308.9h0M467.4 307.0h0M468.8 304.0h0M468.9 305.7h0M467.8 305.7h0M469.1 305.9h0M467.9 301.1h0M470.5 301.1h0M471.1 298.8h0M469.8 295.3h0M471.8 298.8h0M469.9 296.4h0M471.7 299.8h0M470.7 295.6h0M471.2 294.9h0M469.5 297.6h0M471.9 295.9h0M473.2 292.0h0M472.4 294.1h0M471.4 298.6h0M474.0 296.4h0M473.3 293.9h0M476.3 291.9h0M475.6 294.1h0M475.2 289.1h0M475.8 291.3h0M473.4 288.6h0M472.6 288.5h0M476.9 279.8h0M476.3 281.2h0M475.9 278.3h0M474.2 276.1h0M473.1 276.4h0M472.4 277.3h0M473.2 273.9h0M473.2 268.1h0M473.8 271.3h0M472.0 273.2h0M473.8 268.8h0M473.9 267.9h0M471.5 265.6h0M470.7 264.3h0M472.2 265.5h0M469.8 261.1h0M470.8 262.0h0M472.4 266.1h0M472.7 261.6h0M474.6 264.1h0M472.5 267.5h0M473.2 265.8h0M471.2 268.5h0M472.5 265.7h0M474.4 266.6h0M474.1 267.1h0M473.0 269.7h0M475.1 267.5h0M474.8 267.7h0M474.3 271.1h0M475.9 269.2h0M478.3 267.8h0M477.8 271.6h0M476.7 267.1h0M477.0 270.5h0M475.9 269.9h0M479.2 269.6h0M479.6 271.2h0M476.4 266.5h0M477.7 268.5h0M477.3 269.1h0M479.8 267.7h0M480.4 265.3h0M479.0 266.2h0M480.1 266.1h0M479.0 264.9h0M479.4 267.7h0M481.0 262.6h0M480.2 266.5h0M481.6 262.5h0M482.4 263.5h0M481.9 262.9h0M481.4 260.5h0M481.4 260.0h0M481.5 256.6h0M483.2 258.4h0M481.6 257.5h0M482.5 258.0h0M483.9 258.3h0M485.8 259.2h0M485.2 259.6h0M484.3 254.5h0M482.8 254.0h0M484.0 252.3h0M482.9 255.5h0M480.8 251.0h0M483.2 247.5h0M483.4 249.1h0M483.2 251.5h0M484.1 253.3h0M482.3 248.5h0M484.0 247.9h0M486.4 249.7h0M483.9 250.2h0M485.4 252.2h0M485.1 253.9h0M487.0 251.0h0M485.0 252.8h0M488.2 253.0h0M488.5 252.5h0M486.3 249.5h0M490.1 250.7h0M488.6 248.3h0M488.8 251.0h0M488.7 254.7h0M488.8 251.0h0M488.7 251.5h0M488.2 246.7h0M488.4 246.4h0M487.6 246.6h0M487.5 244.5h0M488.6 241.2h0M488.6 233.1h0M489.1 230.9h0M488.5 231.4h0M487.8 229.7h0M489.7 230.6h0M489.7 229.6h0M488.7 229.0h0M491.1 227.5h0M489.8 225.2h0M490.3 225.5h0M489.0 222.3h0M490.8 224.8h0M489.8 221.1h0M491.3 222.8h0M491.2 219.4h0M490.9 211.1h0M491.1 207.7h0M491.7 204.1h0M491.1 203.3h0M490.8 199.1h0M491.8 197.5h0M490.0 200.0h0M490.8 203.0h0M492.5 202.0h0M491.0 204.3h0M491.5 201.7h0M491.3 204.2h0M492.5 206.5h0M491.1 206.4h0M492.2 209.2h0M492.7 207.5h0M493.3 210.9h0M492.0 211.9h0M493.0 211.3h0M493.8 211.8h0M494.1 212.7h0M494.7 212.5h0M494.6 211.4h0M495.5 207.9h0M495.6 209.2h0M493.9 207.9h0M495.9 207.0h0M495.5 208.0h0M495.9 206.6h0M496.7 206.1h0M496.9 204.0h0M497.1 204.7h0M497.1 200.7h0M499.6 201.8h0M497.9 201.5h0M496.5 200.4h0M498.6 198.0h0M498.5 197.7h0M500.1 196.8h0M499.0 195.8h0M499.0 197.1h0M498.6 195.2h0M500.2 196.4h0M500.4 200.4h0M501.0 201.1h0M501.8 201.8h0M501.2 205.1h0M500.8 207.6h0M500.7 208.2h0M500.1 210.0h0M502.1 213.8h0M503.2 219.0h0M502.5 222.5h0M503.2 224.8h0M501.6 225.2h0M502.0 223.4h0M503.4 222.2h0M504.2 225.8h0M503.5 225.8h0M504.0 224.2h0M502.6 227.5h0M504.0 225.1h0M505.6 227.2h0M505.1 229.7h0M503.6 229.1h0M505.9 230.2h0M504.2 231.2h0M503.5 234.9h0M504.6 235.1h0M503.8 238.0h0M502.7 248.4h0M503.0 248.4h0M502.8 247.8h0M502.1 252.2h0M503.1 255.3h0M502.4 257.1h0M502.5 258.1h0M501.9 255.3h0M503.3 254.8h0M504.3 256.7h0M503.4 255.1h0M502.8 255.4h0M504.9 257.7h0M505.1 256.3h0M506.2 254.5h0M506.6 254.2h0M504.2 258.4h0M505.5 254.6h0M507.0 256.6h0M505.9 254.6h0M507.0 256.0h0M507.8 256.7h0M508.3 255.2h0M507.7 267.3h0M506.8 268.7h0M506.7 266.8h0M507.4 267.3h0M507.4 267.8h0M504.9 268.6h0M505.7 269.8h0M505.4 268.6h0M502.9 269.4h0M504.5 268.6h0M505.2 271.1h0M506.0 272.4h0M505.4 274.2h0M506.5 274.3h0M508.3 275.1h0M507.2 278.5h0M507.6 278.3h0M508.7 277.2h0M507.0 280.7h0M509.3 286.2h0M508.1 287.4h0M506.5 289.0h0M509.2 291.9h0M508.4 291.7h0M508.9 293.5h0M509.2 295.4h0M508.0 298.0h0M509.2 298.5h0M509.0 297.0h0M510.4 300.4h0M509.2 303.7h0M512.2 304.7h0M510.7 304.2h0M510.4 306.3h0M511.5 311.0h0M511.8 311.4h0M511.9 313.0h0M511.4 313.1h0M512.7 315.6h0M513.0 316.7h0M511.2 314.8h0M512.6 315.2h0M512.6 315.7h0M513.6 312.3h0M514.5 310.4h0M513.8 309.8h0M513.0 308.2h0M514.8 308.3h0M515.0 305.7h0M513.9 306.0h0M515.4 302.7h0M515.6 296.6h0M514.8 296.4h0M514.8 291.9h0M514.6 289.4h0M516.5 288.8h0M517.3 288.9h0M518.1 290.8h0M517.0 290.8h0M516.3 294.3h0M517.3 294.7h0M516.8 297.0h0M518.4 298.3h0M519.3 297.3h0M520.0 298.1h0M518.6 299.6h0M519.9 300.8h0M517.4 301.5h0M520.1 302.6h0M519.6 301.1h0M520.0 312.5h0M518.8 319.3h0M520.0 321.3h0M520.5 326.1h0M520.9 320.3h0M519.9 326.2h0M521.0 327.8h0M520.5 330.7h0M518.5 332.5h0M520.7 335.4h0M521.1 335.5h0M521.3 340.8h0M521.7 341.0h0M523.0 343.5h0M525.1 341.5h0M522.4 343.3h0M524.3 347.5h0M520.8 345.2h0M522.8 347.5h0M526.4 347.0h0M526.2 348.3h0M525.0 348.5h0M523.7 348.3h0M526.7 344.8h0M525.4 342.1h0M525.0 343.4h0M526.8 342.5h0M526.2 342.2h0M525.8 334.9h0M526.1 336.7h0M527.9 336.8h0M528.0 332.6h0M528.0 335.3h0M527.7 336.2h0M527.0 335.7h0M527.2 335.0h0M528.4 334.9h0M528.9 338.7h0M527.7 341.2h0M530.7 341.1h0M527.0 343.8h0M530.3 346.2h0M530.2 345.2h0M529.5 346.3h0M531.6 345.5h0M532.8 347.8h0M532.9 346.8h0M532.9 348.8h0M532.1 349.8h0M531.5 351.7h0M532.3 352.9h0M533.6 353.8h0M531.5 351.0h0M534.2 357.8h0M533.4 355.8h0M534.6 359.8h0M532.7 356.8h0M533.9 359.6h0M534.5 357.4h0M536.1 365.1h0M533.3 368.7h0M535.9 366.5h0M535.1 365.4h0M537.4 368.5h0M536.0 370.1h0M538.4 370.1h0M537.2 375.6h0M536.1 372.1h0M536.4 373.6h0M537.9 368.8h0M538.3 373.0h0M537.1 372.5h0M539.7 371.1h0M538.8 371.1h0M540.9 371.6h0M536.9 374.9h0M540.4 370.8h0M540.0 367.3h0M541.0 369.6h0M539.4 369.2h0M540.2 374.1h0M540.6 368.3h0M538.3 370.4h0M540.2 375.5h0M540.7 373.4h0M539.5 374.2h0M541.6 380.3h0M539.1 378.8h0M538.2 377.6h0M540.9 376.8h0M541.5 376.3h0M540.4 383.8h0M543.1 379.2h0M541.3 377.0h0M540.2 378.0h0M543.7 375.8h0M540.3 379.0h0M542.1 376.4h0M543.3 378.7h0M544.8 377.1h0M543.7 375.3h0M544.0 377.0h0M544.1 378.5h0M545.2 374.8h0M546.5 372.8h0M544.7 373.1h0M545.5 376.7h0M546.6 372.7h0M544.8 372.6h0M543.7 383.2h0M544.8 384.2h0M544.2 382.3h0M544.1 382.4h0M544.9 386.1h0M544.4 380.8h0M546.4 384.4h0M543.0 389.3h0M545.5 383.1h0M544.1 389.1h0M544.7 387.0h0M544.0 384.9h0M542.6 387.3h0M544.1 385.6h0M543.7 387.2h0M543.3 385.7h0M543.5 391.6h0M541.7 392.0h0M545.0 391.4h0M544.6 387.5h0M545.0 388.6h0M544.4 390.3h0M544.4 392.6h0M548.7 388.7h0M547.1 393.0h0M545.3 391.3h0M547.3 389.1h0M546.7 389.7h0M546.4 394.8h0M547.5 390.7h0M547.9 393.0h0M549.1 393.7h0M548.4 394.0h0M550.4 397.6h0M548.7 398.8h0M549.6 397.0h0M548.6 391.6h0M549.6 396.6h0M549.6 401.5h0M550.1 401.9h0M548.4 400.6h0M549.6 401.9h0M547.9 403.8h0M552.3 396.2h0M549.6 399.0h0M550.6 394.7h0M552.0 394.8h0M552.6 395.3h0M550.7 396.9h0M550.8 397.9h0M554.0 395.4h0M553.1 393.9h0M554.6 397.9h0M556.2 395.6h0M553.5 391.4h0M556.2 398.3h0M553.8 394.7h0M554.0 395.7h0M552.9 397.7h0M553.7 398.3h0M554.3 398.2h0M554.8 404.9h0M552.3 403.3h0M554.9 400.1h0M553.7 402.2h0M553.2 404.6h0M552.7 405.6h0M553.1 409.5h0M552.8 403.6h0M553.5 407.3h0M554.5 401.2h0M554.6 407.8h0M555.2 409.3h0M554.2 405.9h0M554.9 408.5h0M555.5 404.4h0M555.9 408.0h0M556.4 403.6h0M556.2 405.2h0M556.7 403.6h0M558.2 406.1h0M554.6 409.1h0M556.0 407.5h0M559.1 406.3h0M557.6 408.3h0M560.3 415.3h0M558.4 411.8h0M558.3 416.6h0M558.2 416.8h0M560.0 416.4h0M558.9 416.0h0M559.0 418.5h0M560.1 412.5h0M562.7 416.7h0M559.0 417.6h0M562.2 419.4h0M561.2 417.9h0M563.1 418.6h0M561.6 418.9h0M561.6 412.7h0M562.8 416.4h0M563.2 416.6h0M564.4 418.2h0M561.2 414.9h0M563.2 413.9h0M565.3 412.1h0M563.2 410.9h0M563.3 409.6h0M567.9 410.5h0M564.2 407.2h0M566.0 413.4h0M567.5 408.9h0M565.4 412.1h0M566.5 405.1h0M565.2 406.7h0M566.4 402.6h0M567.3 404.2h0M567.8 403.4h0M566.6 400.4h0M568.9 399.8h0M568.8 400.8h0M567.6 400.0h0M569.6 403.8h0M568.5 403.4h0M567.5 401.2h0M570.2 404.6h0M569.2 401.7h0M572.0 404.8h0M571.3 403.8h0M570.9 407.7h0M569.1 403.8h0M572.5 404.5h0M572.6 407.5h0M570.3 414.0h0M572.0 415.1h0M572.4 411.7h0M572.4 410.3h0M573.4 409.6h0M572.9 410.6h0M573.6 406.4h0M571.5 408.1h0M571.3 403.4h0M572.9 402.5h0M572.9 399.0h0M572.2 400.0h0M573.2 400.8h0M578.2 397.2h0M574.7 394.2h0M575.8 392.3h0M574.2 391.0h0M575.2 393.0h0M574.9 386.7h0M573.5 387.0h0M572.1 384.5h0M574.4 384.4h0M574.9 382.5h0M577.2 376.7h0M575.8 377.0h0M574.7 375.0h0M574.6 371.3h0M576.9 372.7h0M575.8 378.0h0M575.4 373.5h0M577.1 374.0h0M577.2 375.0h0M577.5 374.1h0M576.8 374.5h0M578.4 375.7h0M579.0 375.2h0M577.5 377.0h0M577.5 378.6h0M578.6 376.6h0M578.7 378.0h0M580.8 376.3h0M580.5 374.0h0M579.2 380.9h0M581.6 382.9h0M581.1 381.2h0M580.7 379.3h0M581.2 382.9h0M582.6 383.3h0M584.0 382.8h0M580.2 385.2h0M581.7 383.1h0M583.6 387.5h0M581.6 383.7h0M583.8 385.7h0M588.4 390.6h0M584.8 392.4h0M582.9 395.6h0M584.4 397.5h0M583.5 390.6h0M584.5 375.5h0M584.5 373.6h0M583.2 373.1h0M584.9 365.0h0M585.1 366.2h0M585.7 363.2h0M585.0 362.5h0M585.2 358.4h0M585.5 355.0h0M585.7 345.9h0M586.1 339.9h0M586.0 330.7h0M587.1 324.7h0M587.2 315.5h0M587.9 303.9h0M587.5 296.7h0M588.0 293.1h0M589.1 286.1h0M589.6 278.3h0M589.0 271.9h0M589.6 266.4h0M590.3 263.1h0M590.7 260.1h0M591.2 257.5h0M594.6 256.9h0M594.3 254.5h0M593.7 260.2h0M595.4 260.8h0M595.0 263.2h0M591.6 263.1h0M596.2 265.5h0M593.6 260.0h0M594.8 259.4h0M594.7 256.7h0M597.3 255.3h0M594.6 251.1h0M597.6 248.0h0M595.2 249.0h0M595.4 241.4h0M597.0 242.0h0M595.1 240.4h0M596.8 241.7h0M595.0 238.1h0M597.7 246.3h0M597.0 248.3h0M597.6 246.3h0M599.2 245.8h0M597.4 248.4h0M597.5 249.0h0M598.5 250.0h0M599.8 263.6h0M601.1 257.9h0M598.4 258.5h0M600.4 257.5h0M600.4 252.1h0M600.9 255.9h0M599.0 250.2h0M597.6 249.7h0M599.7 248.8h0M602.8 243.4h0M600.4 245.2h0M600.5 241.1h0M601.5 245.6h0M601.1 245.2h0M602.4 255.7h0M600.6 251.4h0M602.6 256.6h0M603.3 257.1h0M602.4 260.9h0M603.5 262.5h0M602.4 264.9h0M603.5 264.1h0M601.3 270.3h0M602.8 271.5h0M601.0 275.4h0M599.2 276.5h0M601.1 275.9h0M602.2 277.5h0M603.3 274.6h0M602.5 269.9h0M602.6 276.1h0M604.5 275.0h0M603.7 276.6h0M602.2 271.2h0M606.9 269.2h0M604.3 270.9h0M604.6 271.8h0M605.1 273.9h0M603.8 269.4h0M605.1 268.5h0M606.2 270.6h0M606.5 269.4h0M605.8 265.3h0M603.7 265.0h0M607.9 261.6h0M605.6 261.9h0M607.4 262.0h0M603.9 256.0h0M606.8 252.7h0M609.0 254.6h0M607.0 255.5h0M608.0 254.6h0M607.9 253.7h0M608.1 252.7h0M606.8 254.7h0M609.4 252.1h0M612.2 252.5h0M610.1 253.0h0M611.9 250.6h0M609.0 251.5h0M611.3 251.0h0M611.1 251.3h0M612.2 251.2h0M611.6 247.2h0M611.3 249.0h0M611.2 251.3h0M611.6 261.4h0M611.2 270.1h0M611.6 268.3h0M611.6 272.3h0M612.1 275.1h0M612.6 277.5h0M609.1 279.4h0M610.6 278.9h0M611.2 279.1h0M611.5 283.7h0M612.6 283.5h0M612.5 282.5h0M615.8 307.2h0M615.7 313.9h0M615.2 330.5h0M617.3 328.2h0M616.2 329.7h0M616.5 327.9h0M617.3 328.8h0M617.2 329.3h0M617.6 330.6h0M618.4 330.6h0M618.2 329.9h0M619.6 332.6h0M620.1 329.8h0M619.2 331.8h0M619.1 338.3h0M619.8 339.4h0M619.2 340.8h0M618.3 342.6h0M619.1 344.8h0M617.8 346.4h0M617.6 350.3h0M616.7 351.0h0M617.3 354.6h0M617.1 363.0h0M616.0 368.1h0M616.2 371.0h0M628.6 262.7h0M628.8 265.6h0M629.1 264.6h0M628.2 267.0h0M627.8 269.9h0M630.4 273.7h0M630.1 274.6h0M629.3 274.1h0M629.8 273.2h0M626.9 276.7h0M628.3 275.8h0M626.2 276.8h0M626.9 279.1h0M627.3 279.2h0M627.0 277.3h0M627.4 281.4h0M625.8 278.6h0M628.5 281.2h0M627.7 282.3h0M629.2 280.9h0M628.8 284.1h0M628.7 285.0h0M630.1 280.5h0M629.4 284.7h0M628.0 284.8h0M628.5 283.9h0M630.8 283.2h0M629.8 284.5h0M629.8 282.8h0M628.7 283.1h0M629.2 284.8h0M628.1 282.4h0M628.4 284.8h0M626.4 287.9h0M628.4 286.5h0M627.5 284.9h0M627.0 288.8h0M627.8 289.6h0M628.1 289.1h0M628.4 287.0h0M626.9 288.6h0M624.7 288.3h0M626.3 288.6h0M627.9 290.2h0M628.9 289.3h0M627.2 291.8h0M626.6 290.0h0M627.0 291.9h0M630.5 289.8h0M629.6 291.8h0M629.5 287.6h0M631.0 291.2h0M629.0 293.0h0M628.9 292.9h0M630.9 290.9h0M628.0 293.2h0M632.8 290.2h0M631.0 291.6h0M630.9 292.1h0M630.6 291.5h0M630.2 293.5h0M631.5 292.3h0M630.6 290.6h0M628.8 294.6h0M631.3 295.0h0M628.0 296.0h0M629.0 293.9h0M627.4 294.9h0M629.6 292.8h0M628.3 294.6h0M627.6 295.1h0M629.8 294.9h0M628.6 295.2h0M626.4 294.8h0M626.5 294.6h0M627.1 295.9h0M626.3 296.4h0M627.5 297.9h0M625.2 296.8h0M625.2 297.2h0M626.6 295.0h0M624.2 296.7h0M624.2 296.1h0M624.4 298.9h0M623.2 297.0h0M624.1 297.9h0M624.6 296.1h0M624.4 296.8h0M623.7 299.2h0M624.2 298.5h0M626.8 297.3h0M625.2 299.6h0M624.8 297.7h0M626.7 297.0h0M627.4 299.6h0M627.8 298.7h0M626.7 296.6h0M627.6 296.7h0M627.3 298.4h0M625.8 298.6h0M628.7 296.8h0M626.3 297.6h0M628.7 302.2h0M631.2 298.0h0M628.8 299.6h0M630.4 298.7h0M630.1 300.8h0M630.3 301.4h0M631.3 299.1h0M632.4 297.7h0M632.2 301.6h0M631.9 297.2h0M631.9 300.2h0M632.3 299.5h0M632.5 299.5h0M631.7 300.6h0M631.6 299.4h0M630.8 300.7h0M630.7 301.3h0M630.4 302.2h0M630.0 300.5h0M630.9 299.9h0M630.7 299.8h0M629.5 302.2h0M631.6 300.9h0M628.4 300.4h0M628.0 306.3h0M627.9 301.7h0M629.4 303.2h0M627.8 302.2h0M628.3 301.5h0M627.1 300.9h0M628.5 301.5h0M626.9 299.6h0M625.8 302.0h0M625.0 301.6h0M626.0 303.9h0M627.5 299.9h0M624.9 304.4h0M624.4 303.1h0M625.3 302.4h0M624.9 302.0h0M623.9 303.2h0M624.3 303.0h0M624.4 306.0h0M622.0 302.5h0M621.5 303.5h0M621.2 307.2h0M621.7 304.0h0M622.8 304.6h0M621.1 304.9h0M620.9 304.7h0M620.9 303.9h0M620.1 305.4h0M619.7 306.0h0M621.1 308.3h0M618.7 306.1h0M620.6 307.9h0M618.4 308.4h0M617.5 306.6h0M618.1 310.2h0M618.3 307.9h0M617.0 305.9h0M617.7 308.1h0M618.0 305.9h0M616.5 307.0h0M617.5 306.6h0M617.3 306.0h0M617.2 308.6h0M615.4 308.3h0M616.3 309.3h0M614.6 307.7h0M614.4 309.9h0M615.3 305.7h0M614.4 310.5h0M615.0 307.5h0M614.3 308.8h0M613.7 309.6h0M614.9 311.5h0M614.1 311.4h0M613.1 314.8h0M613.5 311.9h0M613.9 315.2h0M614.9 316.1h0M615.1 316.7h0M616.4 317.4h0M615.6 316.5h0M615.8 321.0h0M618.8 319.0h0M616.3 320.8h0M616.1 318.9h0M616.5 318.3h0M617.8 322.3h0M618.6 322.4h0M617.8 319.8h0M619.2 323.8h0M619.9 323.0h0M619.3 325.0h0M618.4 325.5h0M619.6 325.4h0M620.1 323.9h0M620.7 322.2h0M620.7 322.1h0M620.0 320.7h0M622.7 319.8h0M622.2 318.4h0M621.9 317.7h0M624.7 315.4h0M622.3 315.0h0M621.4 317.0h0M623.2 313.3h0M623.2 311.3h0M623.2 310.3h0M624.6 307.7h0M622.2 306.7h0M626.1 306.5h0M622.4 307.1h0M625.7 309.4h0M625.7 311.1h0M625.9 314.7h0M624.0 310.3h0M625.3 309.7h0M625.7 314.0h0M625.3 313.9h0M626.6 313.1h0M627.5 315.7h0M627.6 314.5h0M627.4 313.3h0M627.7 316.5h0M628.4 313.4h0M627.4 313.3h0M629.3 313.9h0M627.0 315.5h0M628.5 313.0h0M630.1 312.6h0M629.7 310.5h0M630.5 310.0h0M630.7 309.4h0M630.6 308.7h0M631.9 309.5h0M631.2 310.0h0M632.0 307.8h0M631.1 309.4h0M632.0 307.8h0M630.9 306.8h0M632.2 305.4h0M633.2 306.1h0M633.5 305.7h0M633.5 304.3h0M634.3 306.6h0M632.1 306.0h0M633.4 306.7h0M634.1 308.7h0M634.8 315.8h0M634.7 315.3h0M637.2 318.7h0M635.1 322.5h0M633.8 320.4h0M637.0 322.5h0M635.4 323.6h0M638.0 321.9h0M637.0 328.1h0M636.0 329.2h0M638.7 328.6h0M637.2 328.6h0M637.4 328.5h0M636.7 327.4h0M637.4 325.5h0M636.2 323.1h0M637.0 321.2h0M636.4 317.8h0M637.1 316.4h0M635.6 311.9h0M637.5 316.9h0M637.4 316.4h0M637.8 314.8h0M637.0 318.7h0M636.7 318.9h0M639.0 317.5h0M638.0 320.2h0M639.9 321.0h0M638.9 320.5h0M640.0 322.5h0M642.7 324.5h0M641.1 321.1h0M639.4 318.2h0M639.8 317.3h0M639.4 314.6h0M642.1 311.7h0M640.7 311.4h0M641.6 307.3h0M642.4 306.3h0M641.4 304.2h0M642.5 302.6h0M641.7 301.0h0M640.6 299.9h0M641.3 297.6h0M643.4 293.7h0M643.6 289.6h0M643.3 289.1h0M644.1 288.4h0M644.3 291.4h0M644.4 291.9h0M643.1 290.8h0M644.6 294.5h0M645.0 294.5h0M644.2 293.8h0M643.8 296.0h0M644.7 298.2h0M644.4 296.4h0M642.8 296.0h0M641.3 299.7h0M644.4 298.0h0M642.2 300.0h0M641.8 301.2h0M643.4 302.2h0M642.9 301.4h0M642.7 299.7h0M645.2 300.4h0M645.2 300.9h0M644.6 303.1h0M644.6 303.3h0M645.8 303.5h0M645.7 300.4h0M646.0 302.7h0M646.2 303.1h0M646.6 303.7h0M646.9 303.4h0M648.0 306.0h0M646.2 303.9h0M645.9 302.1h0M646.3 306.2h0M647.4 305.4h0M648.2 308.6h0M647.5 306.9h0M648.7 304.6h0M648.3 308.0h0M649.5 309.8h0M650.6 310.1h0M650.0 313.3h0M650.0 310.2h0M650.9 325.3h0M648.8 324.9h0M651.7 327.6h0M650.3 330.2h0M651.5 331.2h0M650.9 335.5h0M651.3 331.2h0M651.8 330.3h0M653.6 330.2h0M651.8 329.0h0M653.9 329.0h0M652.9 327.4h0M652.8 327.9h0M653.3 325.8h0M653.6 321.8h0M655.2 322.4h0M654.6 321.1h0M655.9 319.3h0M654.4 316.2h0M656.1 315.1h0M653.6 312.7h0M655.1 311.7h0M654.8 312.7h0M655.4 310.9h0M656.3 308.3h0M657.0 314.5h0M657.2 315.4h0M657.4 316.1h0M658.9 320.3h0M658.0 319.0h0M658.9 322.2h0M657.5 320.1h0M657.5 320.7h0M660.2 321.8h0M659.8 323.9h0M657.4 326.5h0M660.7 327.8h0M658.6 327.6h0M658.7 328.4h0M660.8 323.9h0M661.1 328.1h0M660.9 325.7h0M662.2 325.0h0M660.6 326.0h0M662.3 325.6h0M661.9 322.6h0M663.6 321.6h0M662.2 321.5h0M661.6 322.5h0M662.9 321.0h0M663.7 321.7h0M664.7 318.0h0M664.5 314.4h0M664.3 314.7h0M666.0 311.6h0M664.9 304.4h0M665.0 303.1h0M663.9 301.8h0M667.5 297.0h0M666.4 295.4h0M664.9 295.7h0M666.1 293.9h0M665.3 291.8h0M666.0 292.9h0M666.2 293.4h0M666.6 291.4h0M668.6 291.6h0M667.4 290.2h0M668.9 303.8h0M666.1 310.9h0M667.2 312.5h0M667.3 312.7h0M667.5 312.6h0M668.0 314.3h0M668.4 318.1h0M670.1 317.1h0M668.8 320.5h0M671.2 318.3h0M669.7 319.9h0M670.2 322.0h0M669.6 316.8h0M670.4 317.1h0M669.3 317.3h0M672.2 316.2h0M672.2 317.9h0M672.6 316.8h0M672.6 313.7h0M671.7 315.0h0M672.6 316.3h0M673.1 314.7h0M671.8 311.8h0M672.7 312.9h0M673.6 311.6h0M675.2 313.0h0M674.4 310.5h0M676.1 310.7h0M675.5 313.2h0M676.5 314.8h0M674.3 311.4h0M674.9 317.4h0M676.9 320.7h0M676.4 318.9h0M676.5 323.0h0M676.0 324.9h0M676.6 328.2h0M677.2 329.4h0M677.5 330.0h0M680.6 307.6h0M680.4 306.3h0M681.4 303.6h0M680.1 302.7h0M680.3 300.9h0M680.2 299.4h0M680.0 297.6h0M680.9 294.3h0M680.5 293.7h0M680.9 291.6h0M680.5 290.0h0M681.3 286.7h0M682.9 284.0h0M681.6 284.6h0M681.9 281.7h0M683.2 280.7h0M683.4 277.6h0M683.3 277.1h0M683.0 275.6h0M683.4 273.2h0M685.3 272.0h0M683.4 271.0h0M684.9 268.7h0M685.2 266.5h0M685.2 266.3h0M685.2 266.2h0M685.4 255.0h0M684.8 258.6h0M684.4 261.1h0M686.3 261.4h0M687.2 264.7h0M684.9 267.2h0M686.6 269.7h0M685.5 275.4h0M686.7 276.4h0M686.5 278.1h0M686.6 282.0h0M687.2 281.6h0M688.0 284.7h0M687.7 283.4h0M687.5 284.2h0M688.7 282.7h0M688.3 282.8h0M688.7 282.7h0M689.1 282.6h0M689.6 281.8h0M690.4 281.1h0M691.2 279.5h0M690.3 277.7h0M690.6 276.1h0M690.0 273.1h0M690.3 272.6h0M691.6 270.6h0M690.7 269.2h0M692.1 266.7h0M693.0 264.6h0M691.9 264.5h0M692.9 261.7h0M692.7 258.9h0M693.7 268.0h0M692.4 270.1h0M694.3 270.3h0M692.6 270.8h0M693.7 272.6h0M692.4 275.3h0M693.6 274.4h0M694.4 274.4h0M692.6 277.3h0M692.6 279.5h0M691.6 280.0h0M692.9 280.1h0M691.2 283.2h0M691.6 283.5h0M690.5 286.1h0M690.6 284.7h0M690.0 286.0h0M690.3 287.9h0M689.8 289.6h0M690.0 290.0h0M695.3 296.6h0M693.4 295.8h0M696.0 295.9h0M696.9 298.1h0M698.7 296.6h0M695.3 296.9h0M697.7 298.2h0M697.5 298.6h0M697.9 300.4h0M697.7 297.3h0M698.4 298.2h0M697.1 298.1h0M699.3 299.5h0M699.7 297.9h0M698.5 299.1h0M698.9 296.9h0M700.9 301.8h0M700.9 298.0h0M698.4 299.6h0M699.3 301.5h0M698.8 301.1h0M699.1 302.5h0M699.7 301.9h0M698.6 303.9h0M698.6 303.5h0M697.7 304.0h0M695.9 307.3h0M696.8 302.5h0M699.1 306.0h0M696.4 303.4h0M695.8 304.8h0M696.7 305.9h0M695.8 304.6h0M699.1 307.0h0M697.6 306.2h0M698.3 309.5h0M697.6 307.4h0M699.2 308.3h0M698.3 308.3h0M699.5 310.0h0M699.4 308.6h0M701.3 308.5h0M699.0 307.7h0M699.5 310.4h0M700.9 308.2h0M700.4 309.6h0M699.2 309.6h0M702.7 309.9h0M701.4 309.7h0M700.2 308.5h0M700.9 309.3h0M701.7 311.8h0M699.8 315.0h0M700.5 310.1h0M699.6 313.4h0M698.9 314.7h0M698.9 313.2h0M698.5 312.0h0M698.6 314.0h0M699.0 312.8h0M695.6 313.4h0M699.4 313.9h0M697.1 317.2h0M699.1 314.2h0M698.9 312.9h0M699.5 315.9h0M699.2 316.8h0M701.3 314.2h0M699.5 317.4h0M700.9 317.2h0M701.0 316.5h0M700.7 317.4h0M701.1 319.1h0M702.1 316.7h0M702.5 320.4h0M700.7 317.3h0M701.5 322.3h0M702.1 318.9h0M704.5 322.1h0M702.3 320.9h0M701.8 320.6h0M702.0 319.3h0M701.3 320.7h0M701.2 320.7h0M701.1 321.4h0M700.2 323.8h0M699.5 321.6h0M701.9 323.1h0M698.8 323.6h0M697.6 323.1h0M698.0 324.4h0M698.3 323.9h0M698.0 324.1h0M696.8 324.0h0M697.3 323.6h0M696.4 324.4h0M696.1 326.1h0M695.7 324.8h0M698.0 324.8h0M698.4 326.2h0M697.7 325.2h0M696.1 326.1h0M696.7 321.1h0M699.0 324.8h0M698.7 320.4h0M698.3 322.7h0M697.6 320.0h0M699.3 325.1h0M696.9 323.6h0M699.7 321.6h0M699.6 321.4h0M699.5 324.0h0M700.3 323.9h0M700.8 320.3h0M701.8 321.5h0M699.4 320.0h0M701.6 319.7h0M700.5 321.2h0M703.9 319.8h0M703.6 319.9h0M704.2 318.6h0M703.3 315.9h0M702.7 320.7h0M703.3 316.4h0M703.6 316.2h0M703.9 317.5h0M703.8 315.9h0M704.1 315.3h0M702.9 314.5h0M705.8 312.6h0M706.8 310.2h0M705.6 309.1h0M705.2 309.7h0M706.7 308.6h0M705.5 304.4h0M705.9 304.2h0M707.9 300.7h0M707.3 299.8h0M708.8 299.6h0M708.3 298.5h0M707.5 296.1h0M707.4 296.6h0M709.4 294.0h0M708.1 292.7h0M709.8 292.9h0M709.5 291.7h0M709.8 296.0h0M710.4 294.2h0M709.2 298.2h0M711.4 299.5h0M709.5 305.2h0M710.5 309.8h0M709.2 306.6h0M708.8 306.7h0M707.5 305.9h0M708.0 306.9h0M708.8 308.5h0M708.1 308.0h0M706.7 309.3h0M707.5 309.4h0M707.0 311.9h0M705.3 315.1h0M705.5 316.7h0M706.4 318.3h0M705.2 319.8h0M707.5 321.1h0M707.1 322.1h0M707.3 317.9h0M708.0 321.1h0M708.5 316.6h0M709.0 320.9h0M709.4 320.8h0M708.3 319.2h0M709.4 321.7h0M709.6 319.1h0M709.8 319.8h0M710.1 321.4h0M710.2 318.8h0M710.8 321.2h0M711.2 320.6h0M710.2 317.6h0M711.2 321.9h0M711.5 320.5h0M709.8 321.1h0M712.1 319.0h0M712.1 320.7h0M712.6 327.2h0M713.2 329.7h0M713.3 326.5h0M714.3 328.1h0M713.3 326.5h0M714.5 328.5h0M713.2 325.7h0M713.9 327.7h0M714.7 330.4h0M714.6 330.0h0M716.5 328.6h0M716.3 330.5h0M716.4 330.6h0M716.2 329.0h0M716.9 329.5h0M717.0 329.3h0M717.7 329.8h0M718.3 330.1h0M717.9 332.8h0M717.3 337.0h0M718.2 335.8h0M716.6 339.3h0M719.5 338.8h0M718.3 341.0h0M720.7 343.3h0M718.5 344.0h0M719.5 348.2h0M719.1 348.0h0M719.7 353.2h0M718.1 354.8h0M718.6 359.6h0M720.6 360.6h0M721.8 359.3h0M721.5 359.0h0M719.7 361.8h0M720.7 360.7h0M722.8 363.3h0M719.7 366.8h0M723.9 367.4h0M721.1 367.0h0M721.3 366.7h0M721.9 371.5h0M723.8 372.3h0M723.5 371.0h0M725.1 372.5h0M724.1 374.0h0M723.1 376.2h0M723.8 373.4h0M724.9 376.7h0M722.7 376.0h0M725.4 379.4h0M726.4 379.3h0M724.9 379.4h0M725.4 382.3h0M727.2 381.0h0M727.7 384.3h0M726.2 392.5h0M725.4 377.8h0M728.4 375.7h0M727.1 378.3h0M727.6 374.1h0M729.9 378.0h0M729.4 373.9h0M728.5 380.4h0M729.6 375.1h0M728.5 379.8h0M729.6 371.4h0M729.9 376.3h0M731.5 375.0h0M731.1 376.0h0M729.5 373.8h0M733.1 374.2h0M734.4 371.5h0M732.8 373.5h0M732.1 379.3h0M731.8 378.0h0M732.7 375.8h0M734.9 373.7h0M733.5 378.6h0M733.7 378.6h0M736.0 377.9h0M734.0 376.7h0M735.0 376.8h0M735.6 375.9h0M734.9 377.5h0M736.2 378.3h0M735.8 378.2h0M736.3 378.6h0M735.5 379.0h0M736.8 380.3h0M737.3 376.8h0M734.2 379.0h0M737.8 377.0h0M738.0 384.5h0M739.0 380.6h0M737.9 381.7h0M736.8 382.2h0M738.5 383.1h0M736.8 381.7h0M739.3 386.7h0M739.9 382.6h0M741.5 386.1h0M739.0 382.8h0M740.2 384.9h0M742.0 383.5h0M741.1 386.8h0M740.8 389.1h0M741.7 387.5h0M742.9 394.1h0M741.5 390.3h0M741.9 391.0h0M742.8 383.4h0M743.7 384.9h0M743.5 389.2h0M743.2 390.7h0M742.0 387.7h0M743.4 384.2h0M742.4 385.7h0M742.9 386.4h0M744.1 390.9h0M744.0 383.0h0M744.7 386.3h0M745.9 384.4h0M747.2 383.8h0M747.5 383.3h0M744.6 383.4h0M746.7 381.8h0M747.8 381.6h0M749.8 379.6h0M747.1 384.5h0M749.0 378.4h0M747.7 378.9h0M748.1 381.0h0M747.3 383.0h0M749.7 376.2h0M748.1 379.3h0M749.3 381.2h0M752.0 381.6h0M749.5 376.1h0M752.1 377.5h0M751.7 380.9h0M751.0 381.4h0M752.1 380.9h0M752.8 382.1h0M753.1 383.9h0M752.0 380.2h0M752.5 384.6h0M757.1 386.9h0M755.2 382.9h0M754.3 384.2h0M753.0 385.1h0M754.4 381.7h0M753.7 379.9h0M753.8 387.3h0M757.0 387.2h0M754.7 385.9h0M754.3 391.8h0M757.2 389.7h0M755.1 393.0h0M754.7 388.1h0M754.5 391.6h0M759.5 390.9h0M758.9 392.7h0M757.3 393.3h0M756.2 392.7h0M758.5 386.9h0M759.6 392.8h0M760.0 390.5h0M758.9 391.6h0M758.3 389.3h0M758.9 390.4h0M760.2 384.9h0M763.6 387.1h0M761.4 390.4h0M760.1 389.1h0M762.5 387.0h0M761.0 383.3h0M761.8 384.5h0M759.4 386.1h0M762.6 385.1h0M761.6 386.3h0M762.5 385.3h0M762.1 385.2h0M761.7 387.5h0M762.8 386.5h0M765.3 390.7h0M765.3 388.2h0M764.3 387.1h0M764.2 389.0h0M767.3 385.3h0M767.1 389.1h0M763.4 388.6h0M764.8 389.3h0M765.9 388.1h0M764.2 389.9h0M769.2 391.7h0M768.2 389.3h0M767.0 394.4h0M766.3 397.5h0M764.2 394.7h0M767.8 393.7h0M769.5 396.3h0M768.4 400.1h0M770.2 399.7h0M769.5 397.3h0M770.2 395.6h0M769.3 397.0h0M769.8 400.0h0M773.0 400.4h0M774.5 399.4h0M767.5 397.4h0M769.9 403.6h0M770.3 398.7h0M772.7 404.5h0M773.2 404.8h0M773.5 402.9h0M770.9 406.5h0M769.8 404.9h0M771.9 409.1h0M772.1 407.4h0M774.3 403.1h0M773.0 403.9h0M774.8 407.5h0M776.0 407.0h0M775.8 403.1h0M776.0 402.5h0M774.4 404.5h0M773.4 400.7h0M774.3 403.3h0M774.6 400.1h0M777.1 402.3h0M774.3 401.5h0M775.8 398.6h0M777.5 392.3h0M777.6 392.8h0M777.9 385.5h0M777.6 387.8h0M778.8 389.6h0M778.1 384.9h0M779.6 388.0h0M780.0 388.0h0M779.7 387.2h0M778.2 384.3h0M778.7 387.3h0M778.1 380.3h0M782.8 385.1h0M782.5 383.8h0M779.3 381.2h0M780.3 381.0h0M782.2 377.9h0M780.2 381.8h0M782.2 382.8h0M782.6 379.3h0M781.4 381.6h0M783.5 381.9h0M784.6 378.8h0M783.1 380.2h0M784.0 377.8h0M782.2 378.9h0M784.3 377.2h0M782.7 377.7h0M785.1 380.0h0M781.9 381.2h0M789.3 376.7h0M786.0 377.4h0M786.6 376.8h0M787.0 377.2h0M785.8 379.5h0M787.5 380.1h0M788.9 378.1h0M787.8 377.5h0M788.1 379.9h0M792.2 375.7h0M789.6 380.2h0M791.1 384.2h0M789.4 381.8h0M792.2 386.5h0M790.6 385.2h0M788.7 383.4h0M787.5 386.5h0M787.5 384.6h0M790.0 390.9h0M791.7 388.5h0M791.9 391.9h0M791.9 394.1h0M789.5 395.0h0M792.2 392.3h0M792.5 391.5h0M792.8 385.1h0M792.0 389.5h0M791.5 389.3h0M793.4 388.8h0M795.5 382.2h0M794.8 384.7h0M793.1 384.3h0M794.7 381.7h0M795.0 382.4h0M795.9 381.5h0M794.7 381.6h0M796.1 382.7h0M796.7 380.6h0M794.8 383.2h0M795.8 378.9h0M798.6 375.5h0M800.5 378.8h0M797.4 378.0h0M796.4 380.1h0M800.3 379.6h0M798.7 376.9h0M799.2 376.3h0M799.6 379.4h0M800.6 378.0h0M798.2 380.5h0M802.9 385.7h0M797.7 384.9h0M797.6 378.1h0M801.3 381.4h0M800.5 380.0h0M800.9 381.6h0M802.4 381.0h0M802.0 384.2h0M802.0 384.5h0M803.4 381.9h0M804.2 383.7h0M799.7 379.8h0M803.4 386.6h0M804.5 385.0h0M802.8 390.7h0M801.6 387.2h0M803.8 391.0h0M806.8 345.6h0M806.1 345.0h0M806.5 350.4h0M806.5 354.4h0M808.3 351.7h0M807.8 348.9h0M808.8 351.3h0M806.6 355.5h0M805.8 356.9h0M806.5 356.7h0M806.6 359.9h0M806.1 359.6h0M806.2 360.5h0M803.4 360.4h0M805.7 361.2h0M805.5 363.5h0M804.9 363.1h0M806.1 359.9h0M806.1 359.2h0M807.0 360.6h0M807.6 361.3h0M807.2 361.9h0M806.7 360.3h0M808.0 359.7h0M808.3 360.4h0M808.8 357.5h0M809.0 358.9h0M809.4 356.0h0M809.9 357.4h0M809.8 355.5h0M809.5 358.5h0M812.8 356.8h0M810.4 360.3h0M811.6 361.9h0M809.9 363.1h0M810.2 366.3h0M810.5 369.1h0M811.6 368.9h0M812.3 369.0h0M814.1 369.3h0M811.1 366.2h0M810.7 371.3h0M813.3 368.8h0M813.9 370.5h0M814.1 370.9h0M813.7 371.8h0M815.1 374.1h0M814.3 374.6h0M815.1 372.0h0M816.4 375.3h0M815.3 370.3h0M814.7 365.3h0M816.3 360.1h0M816.7 358.4h0M815.8 355.0h0M816.5 349.0h0M817.5 355.0h0M817.4 353.1h0M816.3 350.5h0M819.1 349.3h0M818.3 349.6h0M816.2 349.6h0M819.4 346.1h0M816.9 346.8h0M818.4 344.1h0M818.5 345.0h0M820.1 345.2h0M819.0 338.7h0M819.6 338.3h0M818.3 341.2h0M820.4 338.0h0M821.0 340.0h0M820.3 341.2h0M822.0 342.5h0M820.3 343.4h0M820.5 346.3h0M819.7 348.2h0M821.5 350.9h0M820.5 352.1h0M820.3 349.5h0M820.5 355.8h0M818.0 355.4h0M819.4 359.0h0M821.1 357.8h0M822.3 361.6h0M821.1 362.9h0M821.6 363.4h0M821.3 366.8h0M823.0 363.3h0M821.8 366.0h0M822.1 366.1h0M824.3 367.8h0M823.5 371.0h0M821.6 370.6h0M823.6 371.9h0M823.6 372.6h0M823.1 369.2h0M824.5 366.3h0M825.4 365.3h0M824.8 359.7h0M825.3 357.6h0M825.9 358.3h0M826.1 359.2h0M824.2 363.1h0M826.1 362.0h0M825.9 360.8h0M825.9 359.8h0M824.9 361.4h0M824.7 356.0h0M826.8 355.7h0M828.1 353.3h0M827.8 352.8h0M826.5 350.4h0M828.2 349.8h0M826.8 345.0h0M828.2 342.6h0M827.5 340.7h0M829.5 342.0h0M828.3 340.6h0M829.0 338.6h0M830.7 338.7h0M828.6 336.9h0M829.9 336.4h0M830.7 338.2h0M830.3 336.7h0M831.5 335.5h0M831.7 337.0h0M831.7 333.0h0M832.2 332.7h0M832.6 331.7h0M832.3 333.0h0M833.6 331.9h0M832.5 330.2h0M834.1 331.1h0M833.8 328.5h0M833.9 330.1h0M832.8 331.2h0M833.9 328.0h0M835.2 328.2h0M834.8 331.2h0M834.5 331.8h0M833.3 333.6h0M833.5 333.6h0M833.4 335.4h0M832.7 334.2h0M832.0 337.2h0M833.3 336.3h0M833.1 339.4h0M833.7 337.9h0M834.0 340.0h0M832.9 338.6h0M833.2 335.9h0M832.5 336.5h0M835.0 338.3h0M834.9 338.5h0M834.7 337.1h0M833.9 341.2h0M835.1 340.5h0M837.3 340.4h0M834.3 340.2h0M836.5 339.1h0M837.4 338.6h0M836.2 340.9h0M837.4 338.4h0M837.9 338.9h0M837.5 339.9h0M837.7 341.3h0M838.7 340.8h0M840.9 340.2h0M840.7 340.8h0M838.2 342.6h0M838.6 342.9h0M839.9 339.9h0M839.3 338.4h0M841.0 341.7h0M843.0 342.5h0M840.7 342.9h0M841.1 341.7h0M843.9 345.3h0M842.7 341.3h0M841.1 345.3h0M843.2 344.8h0M842.7 344.9h0M841.9 345.1h0M842.8 347.1h0M844.5 345.2h0M843.9 348.8h0M841.3 349.3h0M841.1 348.0h0M841.3 354.3h0M842.8 352.0h0M840.9 350.2h0M842.0 353.0h0M841.0 352.9h0M841.1 352.6h0M842.2 351.4h0M842.3 352.6h0M840.9 354.4h0M839.7 355.9h0M840.0 355.0h0M829.7 340.3h0M829.6 337.3h0M828.9 340.5h0M829.5 341.1h0M830.9 338.7h0M831.4 334.7h0M830.8 338.9h0M831.4 337.2h0M829.5 335.2h0M832.4 334.3h0M832.3 335.3h0M831.6 335.5h0M834.0 334.9h0M833.6 334.4h0M833.9 335.0h0M834.3 332.9h0M833.0 333.6h0M832.4 332.6h0M834.2 333.0h0M833.3 333.6h0M833.8 333.1h0M835.9 332.1h0M833.7 331.9h0M833.3 331.9h0M834.3 335.7h0M835.4 332.6h0M836.6 331.0h0M836.1 333.1h0M834.1 332.9h0M835.9 334.5h0M837.3 334.6h0M836.8 334.9h0M836.7 332.1h0M837.5 335.4h0M838.7 334.2h0M838.1 337.8h0M838.0 332.5h0M839.0 337.0h0M837.5 337.3h0M836.7 340.0h0M837.1 342.2h0M835.4 341.6h0M835.8 338.3h0M836.1 344.4h0M835.1 344.7h0M837.5 342.5h0M835.1 343.7h0M836.7 345.3h0M834.2 340.6h0M837.0 343.7h0M837.4 345.4h0M836.2 345.0h0M836.7 345.4h0M838.2 343.5h0M837.9 340.8h0M838.6 341.7h0M837.6 339.6h0M838.5 340.7h0M836.6 340.4h0M838.6 341.3h0M839.7 342.4h0M840.8 339.0h0M841.4 340.5h0M841.0 344.9h0M839.7 341.9h0M839.7 339.8h0M841.0 340.2h0M842.4 339.3h0M840.2 340.0h0M842.0 338.4h0M842.6 339.6h0M841.5 340.4h0M843.4 342.8h0M843.9 342.8h0M845.0 340.8h0M842.5 340.8h0M841.5 339.6h0M845.1 342.6h0M844.3 344.4h0M844.2 340.4h0M842.3 345.8h0M842.5 347.7h0M846.2 346.5h0M843.8 344.9h0M844.8 345.6h0M842.6 347.1h0M843.5 348.3h0M845.6 346.3h0M843.2 348.0h0M842.3 345.6h0M844.4 348.2h0M842.4 349.3h0M843.1 348.1h0M841.8 348.2h0M842.4 347.4h0M841.8 351.2h0M843.0 351.1h0M841.8 348.6h0M839.4 349.2h0M841.8 348.4h0M841.6 349.0h0M839.7 354.2h0M841.7 349.2h0M839.0 348.9h0M838.5 351.5h0M840.0 352.0h0M854.7 294.7h0M854.6 299.2h0M854.8 303.0h0M854.9 302.2h0M854.6 307.1h0M855.5 307.7h0M855.1 309.0h0M855.9 313.7h0M857.1 315.4h0M857.5 318.3h0M857.4 321.9h0M858.4 321.6h0M857.8 325.2h0M857.8 328.1h0M859.7 332.4h0M859.5 330.5h0M860.7 334.9h0M859.7 335.8h0M859.9 337.5h0M860.1 343.5h0M861.2 343.8h0M846.5 305.9h0M846.7 308.9h0M845.9 313.5h0M846.0 322.1h0M846.6 323.2h0M847.0 324.0h0M849.8 311.8h0M849.9 311.0h0M849.9 312.6h0M851.4 314.2h0M851.2 315.0h0M851.6 317.2h0M851.5 316.0h0M852.9 318.0h0M852.2 319.3h0M850.5 318.6h0M850.7 319.8h0M851.3 321.3h0M850.0 321.1h0M850.4 323.3h0M851.0 322.5h0M852.1 322.8h0M851.3 322.7h0M851.9 324.4h0M853.2 325.2h0M853.2 326.3h0M853.0 326.0h0M859.4 341.7h0M859.6 341.5h0M859.9 343.1h0M859.6 348.5h0M857.6 347.5h0M858.9 347.4h0M859.5 347.9h0M858.8 351.5h0M859.7 350.1h0M859.1 353.8h0M860.5 353.9h0M860.6 354.7h0M860.8 353.7h0M860.8 353.3h0M860.9 354.5h0M861.9 353.1h0M861.5 351.6h0M861.5 353.7h0M862.6 353.0h0M861.7 353.8h0M862.2 352.7h0M864.4 353.0h0M863.4 352.4h0M865.0 352.1h0M864.3 355.6h0M863.8 353.2h0M863.4 351.8h0M864.9 354.1h0M865.3 351.3h0M866.4 351.0h0M866.2 353.1h0M866.2 354.7h0M866.7 353.8h0M867.0 351.9h0M866.4 354.5h0M867.1 353.3h0M866.8 353.2h0M868.1 355.4h0M869.1 354.6h0M868.5 355.2h0M868.6 355.0h0M869.3 357.6h0M869.2 357.7h0M869.7 359.0h0M870.6 356.6h0M870.3 357.3h0M868.6 359.3h0M869.8 358.3h0M868.6 357.6h0M868.9 357.8h0M868.3 359.2h0M868.1 357.2h0M867.7 358.4h0M866.2 358.4h0M868.4 357.3h0M867.0 357.7h0M866.3 359.6h0M866.2 359.6h0M865.3 360.0h0M864.1 359.2h0M863.7 360.4h0M865.5 360.4h0M864.2 359.8h0M863.7 358.9h0M864.2 358.6h0M863.5 360.8h0M863.1 359.8h0M863.0 361.2h0M862.0 359.9h0M863.6 361.1h0M862.7 360.6h0M862.1 362.1h0M861.4 360.7h0M861.1 360.9h0M861.4 360.9h0M861.6 361.9h0M860.6 360.8h0M859.3 362.0h0M860.1 362.5h0M859.7 364.1h0M859.1 360.8h0M858.8 362.2h0M857.8 363.7h0M859.8 362.9h0M858.5 360.9h0M860.1 362.3h0M860.9 360.5h0M860.2 361.7h0M861.2 363.3h0M859.3 363.0h0M860.0 362.7h0M862.6 363.1h0M862.6 360.8h0M861.9 363.0h0M863.1 361.3h0M862.6 362.8h0M862.5 362.2h0M862.6 362.3h0M864.1 363.9h0M864.2 363.1h0M863.4 363.0h0M864.6 361.1h0M864.6 363.3h0M866.7 364.4h0M865.2 364.4h0M866.1 363.4h0M865.6 363.6h0M866.5 363.1h0M867.2 362.8h0M866.8 363.6h0M867.8 361.2h0M867.1 363.6h0M867.2 364.1h0M868.1 363.4h0M869.3 363.2h0M869.0 366.2h0M868.6 363.7h0M869.0 366.4h0M869.1 363.0h0M869.7 364.0h0M870.4 366.4h0M871.5 364.2h0M871.2 364.4h0M871.8 363.4h0M871.4 363.4h0M871.4 365.1h0M870.6 365.1h0M871.1 365.0h0M870.1 365.0h0M868.4 367.1h0M870.2 368.0h0M869.6 367.4h0M868.5 367.7h0M868.8 368.0h0M869.0 368.0h0M868.0 366.7h0M868.2 368.6h0M867.2 368.3h0M866.8 369.5h0M867.5 369.2h0M866.4 368.9h0M866.4 369.9h0M866.6 369.6h0M864.8 370.4h0M865.6 370.0h0M865.3 371.1h0M865.1 371.6h0M864.8 370.4h0M864.5 371.3h0M864.5 372.0h0M863.8 372.5h0M874.0 226.1h0M874.2 225.9h0M874.3 225.1h0M874.6 226.5h0M874.9 225.7h0M874.6 226.2h0M875.3 226.3h0M875.3 225.8h0M875.5 226.2h0M875.1 226.1h0M875.7 226.1h0M875.3 225.6h0M875.8 225.5h0M875.8 225.9h0M875.8 225.7h0M876.2 226.3h0M876.0 225.9h0M876.3 226.1h0M876.5 226.5h0M876.8 225.8h0M876.7 224.9h0M877.1 225.1h0M877.4 224.8h0M877.8 225.2h0M877.4 226.3h0M878.1 225.7h0M877.6 225.7h0M878.0 225.3h0M878.3 225.5h0M879.0 225.1h0M878.3 225.0h0M879.2 226.5h0M879.3 225.5h0M878.4 225.1h0M879.5 226.6h0M879.2 225.3h0M879.6 225.5h0M879.5 225.7h0M879.5 225.8h0M880.2 226.6h0M880.2 225.6h0M880.5 226.0h0M880.3 225.5h0M879.9 225.3h0M880.6 226.1h0M880.5 225.5h0M880.5 225.4h0M880.8 226.1h0M881.1 225.3h0M880.5 225.8h0M881.1 226.3h0M882.1 225.8h0M882.4 225.9h0M882.5 224.8h0M881.9 225.3h0M882.4 226.7h0M882.8 225.1h0M882.8 225.3h0M882.9 225.8h0M882.5 225.3h0M883.4 225.7h0M882.9 225.8h0M884.2 225.3h0M883.9 225.4h0M883.8 225.8h0M884.0 225.0h0M883.9 225.8h0M884.0 225.6h0M884.0 226.4h0M884.1 225.8h0M884.9 226.2h0M884.3 226.1h0M884.8 226.1h0M885.2 225.2h0M885.0 225.1h0M885.3 225.2h0M885.4 226.1h0M885.7 224.6h0M885.4 226.1h0M886.0 225.4h0M886.3 225.4h0M886.8 225.9h0M886.3 225.6h0M886.5 226.1h0M887.1 225.7h0M887.3 226.1h0M886.5 226.5h0M887.3 225.7h0M887.7 225.2h0M887.9 224.9h0M887.6 225.6h0M887.9 225.4h0M887.8 225.1h0M887.8 226.1h0M888.4 226.2h0M888.6 225.2h0M888.3 225.9h0M888.8 225.7h0M889.0 225.9h0M889.4 225.6h0M889.2 225.7h0M888.9 225.5h0M889.3 225.9h0M889.2 224.8h0M889.2 225.9h0M889.9 226.2h0M890.2 225.7h0M890.2 225.4h0M890.2 225.9h0M890.8 226.1h0M890.9 226.0h0M890.3 225.1h0M890.2 225.1h0M891.0 225.8h0M890.8 518.2h0M891.0 518.2h0M891.2 518.2h0M891.3 518.2h0M891.5 518.2h0M891.6 518.2h0M891.7 518.2h0M891.9 518.2h0M892.0 518.2h0M892.2 518.2h0M892.4 518.2h0M892.5 518.2h0M892.7 518.2h0M892.8 518.2h0M892.9 518.2h0M893.1 518.2h0M893.3 518.2h0M893.4 518.2h0M893.6 518.2h0M893.7 518.2h0M893.9 518.2h0M894.0 518.2h0M894.2 518.2h0M894.3 518.2h0M894.4 518.2h0M894.6 518.2h0M894.7 518.2h0M894.9 518.2h0M895.0 518.2h0M895.2 518.2h0M895.4 518.2h0M895.5 518.2h0M895.7 518.2h0M895.8 518.2h0M896.0 518.2h0M896.1 518.2h0M896.2 518.2h0M896.4 518.2h0M896.6 518.2h0M896.7 518.2h0M896.8 518.2h0M897.0 518.2h0M897.2 518.2h0M897.3 518.2h0M897.5 518.2h0M897.6 518.2h0M897.7 518.2h0M897.9 518.2h0M898.0 518.2h0M898.2 518.2h0M898.3 518.2h0M898.5 518.2h0M898.7 518.2h0M898.8 518.2h0M898.9 518.2h0M899.1 518.2h0M899.2 518.2h0M899.4 518.2h0M899.5 518.2h0M899.7 518.2h0M899.9 518.2h0M900.0 518.2h0M900.1 518.2h0M900.3 518.2h0M900.5 518.2h0M900.6 518.2h0M900.8 518.2h0M900.9 518.2h0M901.1 518.2h0M901.2 518.2h0M901.4 518.2h0M901.5 518.2h0M901.6 518.2h0M901.8 518.2h0M901.9 518.2h0M902.1 518.2h0M902.2 518.2h0M902.5 518.2h0M902.5 518.2h0M902.7 518.2h0M902.9 518.2h0M903.0 518.2h0M903.2 518.2h0M903.3 518.2h0M903.5 518.2h0M903.6 518.2h0M903.8 518.2h0M904.0 518.2h0M904.0 518.2h0M904.2 518.2h0M904.3 518.2h0M904.5 518.2h0M904.7 518.2h0M904.9 518.2h0M904.9 518.2h0M905.1 518.2h0M905.2 518.2h0M905.4 518.2h0M905.5 518.2h0M905.7 518.2h0M905.8 518.2h0M906.0 518.2h0M906.2 518.2h0M906.3 518.2h0M906.4 518.2h0M906.6 518.2h0M906.8 518.2h0M906.9 518.2h0M907.1 518.2h0M907.2 518.2h0M907.3 518.2h0M907.5 518.2h0M907.7 518.2h0M907.9 518.2h0M907.9 518.2h0M908.1 518.2h0M908.2 518.2h0M908.4 518.2h0M908.6 518.2h0M908.8 518.2h0M908.8 518.2h0M909.0 518.2h0M909.2 518.2h0M909.3 518.2h0M909.5 518.2h0M909.7 518.2h0M909.8 518.2h0M909.9 518.2h0M910.0 518.2h0M910.2 518.2h0M910.4 518.2h0M910.6 518.2h0M910.7 518.2h0M910.9 518.2h0M911.0 518.2h0M911.2 518.2h0M911.3 518.2h0M911.5 518.2h0M911.6 518.2h0M911.7 518.2h0M911.9 518.2h0M912.0 518.2h0M912.2 518.2h0M912.3 518.2h0M912.5 518.2h0M912.6 518.2h0M912.8 518.2h0M912.9 518.2h0M913.1 518.2h0M913.2 518.2h0M913.4 518.2h0M913.6 518.2h0M913.7 518.2h0M913.8 518.2h0M914.0 518.2h0M914.1 518.2h0M914.3 518.2h0M914.4 518.2h0M914.6 518.2h0M914.7 518.2h0M914.9 518.2h0M915.0 518.2h0M915.1 518.2h0M915.4 518.2h0M915.5 518.2h0M915.6 518.2h0M915.8 518.2h0M916.0 518.2h0M916.1 518.2h0M916.2 518.2h0M916.4 518.2h0M916.6 518.2h0M916.7 518.2h0M916.8 518.2h0M917.0 518.2h0M917.1 518.2h0M917.3 518.2h0M917.4 518.2h0M917.6 518.2h0M917.7 518.2h0M917.9 518.2h0M918.1 518.2h0M918.2 518.2h0M918.4 518.2h0M918.5 518.2h0M918.6 518.2h0M918.8 518.2h0M918.9 518.2h0M919.0 518.2h0M919.3 518.2h0M919.4 518.2h0M919.5 518.2h0M919.6 518.2h0M919.8 518.2h0M919.9 518.2h0M920.1 518.2h0M920.3 518.2h0M920.5 518.2h0M920.6 518.2h0M920.7 518.2h0M920.9 518.2h0M921.0 518.2h0M921.1 518.2h0M921.3 518.2h0M921.5 518.2h0M921.6 518.2h0M921.7 518.2h0M921.9 518.2h0M922.1 518.2h0M922.2 518.2h0M922.4 518.2h0M922.5 518.2h0M922.7 518.2h0M922.8 518.2h0M923.0 518.2h0M923.1 518.2h0M923.3 518.2h0M923.5 518.2h0M923.6 518.2h0M923.7 518.2h0M923.9 518.2h0M924.1 518.2h0M924.2 518.2h0M924.3 518.2h0M924.5 518.2h0M924.6 518.2h0M924.8 518.2h0M924.9 518.2h0M925.1 518.2h0M925.2 518.2h0M925.4 518.2h0M925.6 518.2h0M925.7 518.2h0M925.8 518.2h0M925.9 518.2h0M926.1 518.2h0M926.3 518.2h0M926.5 518.2h0M926.6 518.2h0M926.7 518.2h0M926.9 518.2h0M927.0 518.2h0M927.2 518.2h0M927.3 518.2h0M927.5 518.2h0M927.6 518.2h0M927.8 518.2h0M927.9 518.2h0M928.1 518.2h0M928.2 518.2h0M928.4 518.2h0M928.6 518.2h0M928.7 518.2h0M928.8 518.2h0M929.0 518.2h0M929.1 518.2h0M929.3 518.2h0M929.4 518.2h0M929.6 518.2h0M929.7 518.2h0M929.8 518.2h0M930.1 518.2h0M930.2 518.2h0M930.3 518.2h0M930.5 518.2h0M930.6 518.2h0M930.8 518.2h0M931.0 518.2h0M931.1 518.2h0M931.2 518.2h0M931.4 518.2h0M931.6 518.2h0M931.7 518.2h0M931.9 518.2h0M932.0 518.2h0M932.2 518.2h0M932.3 518.2h0M932.5 518.2h0M932.6 518.2h0M932.8 518.2h0M932.9 518.2h0M933.1 518.2h0M933.2 518.2h0M933.3 518.2h0M933.5 518.2h0M933.7 518.2h0M933.8 518.2h0M934.0 518.2h0M934.1 518.2h0M934.3 518.2h0M934.4 518.2h0M934.5 518.2h0" stroke="#000" stroke-width="5.5" stroke-linecap="round" fill="none"/>
<path d="M137.1 185.7h0M135.1 188.7h0M134.7 194.9h0M136.5 201.0h0M135.0 205.5h0M135.8 207.3h0M137.1 211.3h0M138.0 213.2h0M138.3 216.3h0M139.3 223.6h0M140.0 230.6h0M142.5 171.0h0M142.2 178.4h0M142.4 192.9h0M143.2 195.3h0M141.9 198.0h0M140.9 201.9h0M142.9 203.1h0M143.6 206.3h0M144.9 207.2h0M145.4 208.7h0M146.9 208.6h0M146.6 208.1h0M144.8 211.0h0M145.7 214.0h0M147.1 216.1h0M147.2 214.8h0M148.9 215.9h0M149.5 219.7h0M148.3 222.6h0M147.6 226.3h0M147.7 227.8h0M148.0 230.2h0M147.4 229.6h0M148.1 231.9h0M147.4 234.6h0M147.5 234.1h0M146.1 234.8h0M147.6 239.9h0M148.5 239.8h0M149.5 243.1h0M149.3 246.6h0M148.6 249.3h0M147.4 247.1h0M146.4 248.5h0M146.5 250.1h0M147.5 250.2h0M148.9 253.0h0M148.6 252.3h0M149.7 251.5h0M147.9 254.0h0M147.4 257.4h0M148.0 254.9h0M146.7 256.2h0M147.5 259.0h0M148.0 261.0h0M149.0 259.8h0M150.0 259.9h0M151.2 260.0h0M152.3 279.2h0M153.0 290.6h0M153.1 302.9h0M153.1 307.0h0M156.1 315.6h0M156.7 310.9h0M157.8 316.0h0M160.6 315.3h0M159.9 318.1h0M161.0 308.3h0M160.0 293.7h0M161.7 300.9h0M163.6 301.4h0M164.5 285.6h0M164.0 301.5h0M165.8 305.1h0M165.6 303.4h0M166.9 304.2h0M167.3 313.8h0M168.0 297.1h0M169.7 291.8h0M169.5 289.9h0M168.3 296.4h0M170.9 307.6h0M171.6 291.2h0M174.4 291.0h0M173.3 293.0h0M173.2 246.9h0M172.2 250.2h0M171.7 252.2h0M172.9 258.6h0M173.1 261.0h0M174.5 262.8h0M175.4 266.2h0M177.4 269.2h0M178.5 270.7h0M177.2 274.5h0M177.5 276.4h0M176.9 279.0h0M175.1 280.7h0M174.8 283.8h0M177.2 283.5h0M178.6 287.5h0M178.4 287.4h0M179.7 289.9h0M179.7 300.3h0M180.7 306.8h0M181.4 310.4h0M181.8 318.1h0M183.7 323.9h0M185.0 327.4h0M186.9 334.3h0M185.1 335.1h0M186.5 351.3h0M189.3 362.9h0M189.0 364.9h0M190.1 372.6h0M190.0 390.0h0M195.3 357.6h0M195.5 370.7h0M196.1 376.3h0M197.3 385.4h0M198.3 387.1h0M199.4 391.2h0M200.0 395.3h0M198.8 403.8h0M205.0 382.7h0M203.9 379.0h0M201.8 390.0h0M206.1 399.9h0M203.8 399.3h0M203.7 406.5h0M205.4 408.5h0M207.6 408.0h0M208.0 411.4h0M205.0 411.4h0M207.5 419.6h0M208.0 419.2h0M212.5 416.3h0M211.1 418.8h0M211.4 408.6h0M213.9 413.1h0M213.7 411.5h0M214.2 403.6h0M212.6 406.1h0M216.1 401.7h0M217.6 397.8h0M217.3 390.0h0M215.6 391.1h0M217.9 389.1h0M219.0 390.0h0M219.9 383.0h0M218.9 384.5h0M219.7 382.4h0M221.8 377.7h0M223.2 378.7h0M224.1 378.0h0M224.0 378.9h0M228.4 382.8h0M226.7 380.7h0M225.1 378.6h0M226.5 373.0h0M229.5 372.4h0M228.0 368.9h0M229.8 369.8h0M230.2 374.1h0M229.4 381.4h0M230.8 378.1h0M234.0 385.6h0M234.7 382.1h0M234.4 381.6h0M234.7 377.9h0M237.9 377.5h0M237.4 376.8h0M237.3 372.5h0M236.2 374.5h0M240.1 374.7h0M239.6 372.3h0M240.5 373.1h0M241.6 365.4h0M240.7 361.8h0M242.1 355.4h0M240.9 355.4h0M245.2 363.8h0M241.6 370.5h0M244.4 371.3h0M243.6 377.1h0M243.8 378.9h0M247.9 377.7h0M249.1 378.0h0M251.1 382.0h0M252.5 386.2h0M250.4 379.4h0M250.2 385.2h0M249.8 390.0h0M252.9 392.3h0M250.5 396.5h0M255.7 402.2h0M255.2 403.7h0M256.0 405.8h0M257.4 413.3h0M256.1 412.0h0M259.5 407.2h0M260.4 403.2h0M257.6 399.3h0M260.7 393.6h0M261.5 392.8h0M262.4 391.6h0M264.5 391.1h0M261.7 386.4h0M264.5 384.0h0M266.5 381.6h0M265.8 379.0h0M265.8 379.6h0M267.2 369.4h0M266.9 368.1h0M269.7 371.5h0M270.1 373.8h0M268.9 391.5h0M270.3 392.0h0M271.9 395.1h0M273.4 390.9h0M272.5 389.4h0M275.4 396.1h0M274.3 396.1h0M275.1 396.3h0M275.9 397.9h0M277.6 394.9h0M279.1 397.0h0M278.4 387.8h0M280.0 393.0h0M280.6 390.0h0M281.1 388.3h0M283.3 399.4h0M283.1 400.0h0M283.7 399.1h0M285.9 395.1h0M285.1 394.7h0M286.4 391.6h0M286.4 395.1h0M285.7 390.5h0M287.6 396.8h0M291.5 392.1h0M290.3 392.1h0M288.5 392.6h0M292.2 391.8h0M292.6 386.1h0M293.8 391.8h0M293.1 387.9h0M294.8 385.8h0M293.1 384.4h0M296.4 387.4h0M295.2 386.0h0M297.9 386.9h0M297.3 391.4h0M298.8 381.2h0M299.0 371.0h0M301.0 360.9h0M302.2 349.0h0M303.3 348.6h0M302.5 341.4h0M303.3 339.6h0M306.5 337.6h0M306.6 334.7h0M305.4 339.7h0M307.0 335.8h0M306.3 340.9h0M309.7 343.8h0M308.6 343.2h0M309.3 347.2h0M314.1 347.8h0M311.0 330.4h0M310.5 333.4h0M310.1 326.5h0M312.0 323.3h0M313.4 323.1h0M311.6 318.9h0M314.0 314.4h0M316.7 314.4h0M315.8 308.5h0M317.2 304.0h0M316.8 303.0h0M315.7 304.7h0M320.0 307.4h0M319.2 302.9h0M320.1 306.6h0M320.9 304.9h0M321.4 304.7h0M320.6 307.8h0M319.7 310.3h0M323.2 309.5h0M321.3 313.6h0M322.6 312.8h0M323.8 316.0h0M326.5 274.4h0M326.9 267.6h0M326.6 260.1h0M327.6 256.3h0M327.4 244.7h0M327.2 237.5h0M326.1 244.6h0M327.1 257.3h0M329.6 261.0h0M329.8 269.7h0M330.4 275.7h0M330.8 280.7h0M331.3 285.1h0M332.7 287.4h0M333.3 293.5h0M334.6 298.5h0M335.3 302.2h0M335.2 307.3h0M337.3 311.9h0M336.7 310.9h0M337.1 303.0h0M337.5 295.5h0M338.4 293.3h0M337.8 286.2h0M339.9 278.2h0M338.9 273.0h0M340.2 270.3h0M341.5 262.6h0M342.5 259.7h0M342.9 244.8h0M342.9 241.5h0M344.6 235.0h0M343.8 227.7h0M342.9 220.8h0M343.6 233.2h0M343.9 243.0h0M346.1 258.8h0M345.5 265.9h0M348.4 268.2h0M348.6 262.4h0M347.6 261.2h0M348.1 264.6h0M349.5 263.5h0M351.0 263.5h0M352.5 265.7h0M351.1 268.7h0M352.1 274.4h0M350.4 275.6h0M350.5 277.8h0M350.0 280.7h0M352.5 281.4h0M351.4 283.2h0M353.0 282.6h0M354.7 285.9h0M354.5 289.6h0M354.6 296.1h0M355.0 301.9h0M356.4 306.6h0M357.4 311.4h0M357.7 315.9h0M359.1 322.2h0M360.0 324.5h0M359.2 328.1h0M361.8 331.4h0M361.6 334.5h0M361.0 334.9h0M361.9 340.0h0M363.2 339.4h0M365.0 341.3h0M365.1 343.2h0M365.3 347.6h0M366.1 347.4h0M367.3 352.1h0M368.4 354.3h0M369.5 356.3h0M370.1 358.2h0M371.5 359.6h0M371.7 363.7h0M372.2 364.9h0M371.0 364.8h0M370.2 368.4h0M369.9 368.5h0M369.4 369.9h0M368.5 369.7h0M367.5 372.6h0M368.6 373.8h0M368.9 372.5h0M370.0 374.1h0M371.2 372.6h0M372.4 373.9h0M371.6 372.6h0M370.9 375.3h0M370.4 374.5h0M369.7 375.0h0M369.3 377.0h0M367.4 378.6h0M367.5 379.3h0M368.0 386.0h0M378.3 330.0h0M378.9 334.4h0M381.2 341.1h0M384.4 345.7h0M382.0 343.1h0M383.4 349.1h0M382.0 352.5h0M385.2 354.1h0M385.8 360.8h0M384.5 365.2h0M389.2 368.5h0M386.2 367.4h0M386.9 370.0h0M390.5 373.4h0M389.6 372.1h0M390.7 372.0h0M390.9 370.1h0M388.1 380.4h0M390.1 382.4h0M391.5 381.6h0M394.1 382.4h0M395.0 382.9h0M391.8 388.0h0M398.0 394.0h0M395.7 395.1h0M396.6 398.4h0M397.6 396.0h0M399.1 397.0h0M397.8 397.3h0M400.8 398.6h0M402.0 398.5h0M401.7 402.5h0M401.5 405.1h0M404.1 403.4h0M402.8 404.2h0M404.5 407.5h0M405.9 403.1h0M408.3 406.9h0M407.7 408.3h0M408.1 408.6h0M408.1 408.7h0M408.6 409.9h0M410.2 414.1h0M410.8 418.6h0M412.3 419.8h0M411.5 423.5h0M413.3 425.3h0M415.9 419.8h0M413.9 416.8h0M415.3 417.4h0M416.7 411.3h0M416.3 413.2h0M418.3 416.2h0M419.5 418.3h0M421.4 419.8h0M420.2 417.0h0M424.1 421.0h0M425.6 422.6h0M421.9 417.7h0M423.9 420.6h0M425.5 419.6h0M427.8 419.2h0M429.3 414.9h0M427.1 416.4h0M428.1 413.1h0M429.3 407.4h0M431.7 404.4h0M431.5 407.1h0M434.3 408.4h0M431.9 412.2h0M430.7 411.0h0M435.9 392.1h0M436.8 383.1h0M434.4 382.6h0M437.4 377.0h0M436.2 378.3h0M436.5 373.8h0M438.6 376.2h0M437.8 373.6h0M441.5 378.7h0M440.6 379.7h0M442.4 381.9h0M445.9 382.9h0M444.7 381.7h0M444.1 386.4h0M445.9 385.9h0M448.1 384.5h0M447.5 386.0h0M449.1 364.3h0M447.2 353.8h0M448.1 346.8h0M449.2 340.2h0M449.5 339.3h0M450.9 334.5h0M451.3 334.0h0M451.3 336.1h0M453.3 340.0h0M453.3 338.7h0M454.2 341.1h0M456.0 343.6h0M457.2 342.8h0M456.0 355.3h0M457.5 363.9h0M458.9 356.2h0M461.0 348.8h0M460.4 343.0h0M460.7 340.2h0M461.7 335.8h0M461.0 330.8h0M462.9 330.6h0M462.5 327.4h0M463.9 327.5h0M463.7 323.7h0M463.5 322.0h0M463.4 318.4h0M462.3 317.8h0M463.8 314.4h0M464.0 314.6h0M465.0 312.5h0M464.2 311.2h0M467.4 311.5h0M466.8 307.7h0M467.4 305.7h0M468.9 304.3h0M469.2 301.6h0M471.0 297.8h0M470.5 297.0h0M470.5 290.9h0M470.1 291.1h0M474.2 295.0h0M472.2 290.2h0M475.4 290.3h0M473.5 281.2h0M473.8 277.6h0M473.5 273.3h0M471.9 270.4h0M471.6 265.4h0M472.7 262.9h0M471.9 266.9h0M471.6 264.4h0M472.4 266.1h0M472.7 263.6h0M473.9 268.7h0M475.7 271.0h0M477.2 266.8h0M478.7 269.1h0M480.5 264.3h0M481.2 268.4h0M482.7 262.7h0M482.2 263.8h0M481.0 262.6h0M483.6 259.3h0M481.7 255.4h0M483.5 252.2h0M484.2 253.2h0M485.1 252.8h0M486.0 248.5h0M487.3 251.1h0M488.4 251.8h0M487.4 248.6h0M488.8 251.0h0M488.9 248.9h0M488.1 247.1h0M488.1 241.4h0M487.2 231.4h0M489.5 229.9h0M488.5 227.8h0M490.2 224.8h0M490.2 222.7h0M491.8 222.2h0M491.1 210.6h0M489.8 201.4h0M489.6 201.4h0M490.8 203.6h0M490.3 203.1h0M492.1 206.2h0M494.4 210.9h0M493.7 209.1h0M494.4 208.3h0M496.4 205.2h0M498.1 204.0h0M497.3 202.0h0M498.8 197.1h0M499.9 194.1h0M501.4 204.7h0M500.5 208.2h0M503.1 223.9h0M502.9 227.1h0M503.4 228.1h0M503.3 224.4h0M503.9 233.4h0M504.1 233.0h0M503.2 238.0h0M504.7 243.8h0M503.4 253.6h0M501.5 255.4h0M503.8 257.0h0M505.6 255.2h0M503.9 257.0h0M505.4 255.3h0M507.4 256.0h0M508.4 253.5h0M506.8 265.3h0M505.3 266.5h0M505.4 270.8h0M505.2 268.1h0M505.8 273.1h0M506.9 276.1h0M506.8 277.6h0M508.4 286.3h0M508.7 294.5h0M509.0 298.6h0M509.7 301.3h0M511.0 309.6h0M512.1 311.1h0M512.7 314.3h0M512.4 316.8h0M514.5 313.4h0M514.7 306.1h0M514.7 300.8h0M516.3 295.7h0M517.7 289.5h0M517.9 292.7h0M518.2 296.0h0M518.6 301.2h0M519.0 299.5h0M521.2 302.7h0M520.0 312.5h0M518.4 318.7h0M521.1 328.0h0M522.4 332.4h0M522.8 337.6h0M523.1 339.2h0M523.9 343.6h0M523.9 349.7h0M526.9 352.0h0M525.6 339.6h0M526.2 336.3h0M530.0 336.3h0M527.6 335.1h0M529.0 340.0h0M529.9 343.8h0M531.0 346.0h0M531.0 349.4h0M530.8 350.9h0M532.3 355.1h0M534.0 354.2h0M534.9 357.0h0M535.1 361.7h0M534.9 368.0h0M536.0 370.5h0M539.3 373.7h0M539.6 370.6h0M538.4 369.5h0M539.3 371.0h0M541.2 371.4h0M540.7 369.1h0M539.6 375.0h0M540.5 377.8h0M544.6 379.8h0M541.2 377.7h0M543.1 374.8h0M545.9 378.6h0M543.7 379.0h0M545.2 372.8h0M544.6 373.3h0M545.6 383.9h0M545.1 382.1h0M543.4 383.7h0M541.8 388.2h0M544.1 388.6h0M543.0 386.8h0M546.5 387.1h0M545.0 390.2h0M545.2 392.4h0M547.9 393.7h0M548.5 394.7h0M546.0 393.2h0M547.7 398.6h0M552.7 397.5h0M550.7 399.6h0M550.7 399.6h0M553.4 396.8h0M553.6 395.1h0M554.8 396.0h0M555.8 398.6h0M553.4 397.7h0M555.0 405.2h0M551.8 407.4h0M552.8 404.4h0M554.9 406.4h0M554.8 403.9h0M554.1 407.9h0M557.2 404.5h0M556.3 407.5h0M556.3 411.5h0M558.3 415.6h0M559.4 419.6h0M561.0 418.7h0M561.6 416.7h0M561.2 414.7h0M562.8 414.0h0M563.7 412.8h0M565.1 411.7h0M565.3 406.9h0M566.5 402.1h0M568.9 400.8h0M567.2 400.8h0M567.6 404.6h0M570.0 403.4h0M569.8 408.7h0M574.5 418.7h0M571.6 410.5h0M573.5 402.9h0M573.8 398.9h0M572.8 400.2h0M575.6 395.5h0M575.6 387.0h0M572.0 380.2h0M574.8 377.5h0M575.2 371.2h0M577.1 372.0h0M577.3 374.3h0M577.9 375.1h0M579.5 375.3h0M579.8 375.9h0M580.6 376.4h0M582.6 380.4h0M583.2 387.4h0M582.6 387.6h0M583.6 388.7h0M585.3 397.2h0M585.4 373.0h0M587.2 369.7h0M585.0 362.5h0M585.4 362.7h0M586.1 341.2h0M587.1 326.0h0M587.8 307.7h0M588.4 287.1h0M589.9 266.7h0M591.2 257.5h0M593.2 256.3h0M591.8 266.4h0M591.8 263.1h0M594.6 254.6h0M595.3 252.4h0M596.8 245.5h0M596.6 242.9h0M599.6 247.4h0M596.7 247.1h0M597.2 248.9h0M599.4 261.0h0M600.5 255.3h0M597.8 247.7h0M600.9 247.6h0M601.9 254.1h0M602.7 265.2h0M600.6 266.2h0M602.6 272.4h0M600.2 274.3h0M603.1 282.0h0M603.0 272.7h0M602.2 269.3h0M606.4 272.2h0M604.0 267.4h0M606.1 267.2h0M607.5 257.3h0M606.4 254.1h0M609.5 254.7h0M610.6 253.3h0M609.6 256.1h0M608.0 256.2h0M612.2 249.4h0M615.5 249.3h0M611.5 261.7h0M612.0 272.3h0M610.7 276.0h0M613.0 277.0h0M609.9 281.0h0M612.5 282.5h0M614.6 306.7h0M614.3 318.6h0M615.3 328.5h0M617.3 329.2h0M618.0 330.5h0M619.1 332.0h0M619.1 331.2h0M619.5 339.3h0M618.1 345.6h0M617.5 347.3h0M616.6 354.4h0M616.6 362.6h0M616.2 371.0h0M629.5 266.2h0M628.9 267.7h0M629.2 273.4h0M628.4 273.8h0M626.4 278.2h0M627.0 279.8h0M627.6 281.9h0M627.7 282.5h0M629.0 286.5h0M630.5 283.3h0M629.3 285.5h0M628.7 286.7h0M626.6 287.0h0M626.4 288.2h0M627.6 289.8h0M627.1 289.8h0M629.6 292.3h0M631.3 291.2h0M631.2 293.5h0M631.8 293.8h0M629.8 294.2h0M629.5 295.5h0M627.7 293.6h0M627.9 298.0h0M627.9 294.3h0M625.0 296.1h0M626.2 299.6h0M622.4 294.7h0M625.6 296.0h0M624.2 297.6h0M627.7 297.5h0M628.4 300.1h0M628.1 300.7h0M628.8 300.0h0M629.6 300.0h0M629.5 300.2h0M632.1 299.3h0M634.0 300.8h0M632.8 301.2h0M629.8 302.3h0M630.3 300.0h0M627.9 299.9h0M627.4 302.7h0M627.3 300.7h0M627.2 300.7h0M624.4 300.7h0M624.3 306.1h0M623.7 303.4h0M622.4 306.4h0M622.0 302.6h0M620.8 303.9h0M618.5 303.6h0M619.7 308.3h0M618.5 302.8h0M617.1 305.2h0M614.8 307.6h0M615.1 308.2h0M614.3 308.2h0M614.4 308.7h0M614.5 312.7h0M615.1 316.9h0M615.3 319.6h0M616.8 320.0h0M617.9 322.8h0M616.6 320.8h0M620.1 323.4h0M619.6 321.4h0M621.8 319.8h0M620.5 316.5h0M622.5 315.9h0M621.5 309.6h0M623.9 308.7h0M625.7 312.2h0M624.8 309.4h0M627.0 312.7h0M627.8 314.3h0M628.9 313.5h0M630.6 310.8h0M630.7 312.2h0M631.7 311.1h0M630.5 308.9h0M632.0 307.8h0M633.2 304.5h0M634.5 306.2h0M636.4 316.3h0M634.5 321.2h0M636.6 325.5h0M636.2 329.0h0M638.0 327.2h0M636.5 322.5h0M635.9 315.9h0M637.5 316.6h0M638.2 318.9h0M638.7 320.5h0M639.4 319.2h0M641.4 313.5h0M642.2 305.8h0M642.2 302.9h0M642.5 294.1h0M643.7 288.6h0M645.4 292.0h0M646.1 296.6h0M645.3 296.1h0M643.4 294.5h0M643.7 298.8h0M644.1 299.8h0M644.7 301.9h0M645.6 303.1h0M646.0 307.4h0M645.7 303.6h0M648.3 302.0h0M649.5 309.3h0M650.6 309.4h0M649.0 314.2h0M652.4 330.0h0M650.9 330.3h0M651.0 335.7h0M654.6 330.5h0M654.8 325.2h0M654.4 321.4h0M655.2 320.1h0M655.2 313.9h0M656.5 312.8h0M656.7 315.6h0M657.1 323.6h0M657.2 324.2h0M658.1 324.8h0M658.7 325.8h0M662.4 324.5h0M664.2 325.6h0M662.2 320.5h0M665.9 313.0h0M664.9 302.0h0M663.7 297.6h0M666.9 291.5h0M667.1 292.8h0M667.5 288.7h0M667.0 308.4h0M668.0 314.9h0M668.5 318.6h0M670.9 319.4h0M671.3 317.8h0M671.4 314.8h0M674.0 312.4h0M673.9 312.2h0M672.8 310.9h0M673.3 310.2h0M676.0 315.2h0M677.9 322.0h0M676.8 325.2h0M677.5 330.0h0M680.8 306.3h0M680.2 301.9h0M681.2 298.7h0M680.7 293.4h0M682.3 287.6h0M682.0 284.2h0M682.7 278.9h0M683.7 274.8h0M684.5 271.2h0M684.8 268.1h0M684.5 264.5h0M685.0 255.8h0M685.2 264.0h0M687.1 272.5h0M687.5 279.2h0M688.2 285.2h0M689.3 282.2h0M689.4 282.3h0M690.0 280.0h0M691.3 268.8h0M693.3 265.9h0M692.2 259.5h0M692.8 267.5h0M693.5 272.1h0M694.0 274.6h0M692.9 278.1h0M692.1 280.8h0M691.9 285.3h0M690.8 288.0h0M690.0 290.0h0M696.3 294.9h0M696.8 295.4h0M696.7 295.4h0M697.3 297.8h0M697.7 298.8h0M700.1 297.6h0M699.7 299.9h0M697.8 301.9h0M697.6 304.3h0M696.7 303.3h0M697.6 304.1h0M697.1 307.8h0M699.0 306.9h0M699.0 308.2h0M700.5 307.9h0M700.4 310.2h0M700.3 308.9h0M699.1 311.6h0M699.4 314.1h0M699.0 312.9h0M699.4 315.8h0M698.0 317.1h0M700.3 313.8h0M699.2 315.2h0M700.8 319.0h0M702.0 318.9h0M701.7 318.8h0M702.9 319.7h0M700.5 323.2h0M699.2 321.2h0M699.0 324.5h0M697.0 323.8h0M697.2 325.3h0M697.8 322.9h0M698.2 323.1h0M699.5 321.5h0M699.1 323.8h0M700.1 322.3h0M702.0 322.9h0M701.2 320.7h0M701.2 321.2h0M704.3 320.3h0M704.7 318.2h0M704.3 313.1h0M706.9 308.2h0M707.8 301.5h0M707.3 300.5h0M709.0 296.8h0M707.8 295.2h0M707.0 294.4h0M711.5 295.9h0M708.9 303.0h0M708.2 307.2h0M709.9 308.5h0M707.4 313.3h0M706.9 316.7h0M706.5 321.7h0M708.2 322.2h0M707.9 317.5h0M709.2 318.9h0M710.8 321.4h0M711.8 319.0h0M712.6 322.5h0M713.9 317.2h0M712.8 325.9h0M714.6 329.5h0M714.9 327.7h0M716.9 329.2h0M714.9 327.1h0M714.7 330.0h0M718.9 332.1h0M719.1 334.1h0M719.1 340.0h0M719.3 343.0h0M720.5 348.1h0M719.6 354.5h0M719.9 359.3h0M722.0 362.6h0M721.3 367.4h0M721.2 369.0h0M723.7 372.9h0M724.7 377.2h0M725.1 378.6h0M725.8 382.7h0M728.1 386.6h0M726.2 392.5h0M730.1 378.8h0M727.4 374.4h0M729.4 373.6h0M730.8 375.2h0M730.5 374.2h0M733.5 375.0h0M730.2 371.7h0M732.2 378.8h0M734.7 376.9h0M736.0 376.4h0M735.4 381.3h0M734.6 379.7h0M736.5 379.7h0M738.2 377.4h0M737.1 382.8h0M739.3 381.9h0M741.9 385.6h0M739.5 387.8h0M740.1 392.5h0M740.2 390.7h0M743.0 394.3h0M744.5 385.2h0M742.4 385.0h0M747.7 384.3h0M747.4 383.8h0M749.5 383.7h0M748.2 377.8h0M748.5 378.3h0M753.2 381.4h0M751.9 376.0h0M752.8 381.5h0M751.7 385.9h0M753.7 377.7h0M757.3 386.7h0M755.3 385.5h0M755.8 386.3h0M758.4 391.7h0M754.8 394.4h0M759.9 388.8h0M762.6 389.0h0M760.6 388.1h0M762.3 388.1h0M761.5 382.1h0M764.6 383.3h0M762.6 387.0h0M763.0 387.3h0M764.0 391.4h0M767.2 393.2h0M767.3 391.5h0M768.5 394.4h0M768.3 393.6h0M770.1 399.0h0M770.1 398.7h0M770.9 404.2h0M768.8 405.6h0M772.2 405.7h0M772.9 405.7h0M774.1 404.0h0M776.1 397.9h0M776.1 396.8h0M774.9 394.2h0M778.7 390.5h0M778.3 384.2h0M780.6 383.1h0M782.3 379.6h0M782.1 378.8h0M781.0 382.0h0M782.4 382.1h0M782.2 375.6h0M784.1 379.7h0M786.0 382.6h0M784.3 377.1h0M786.3 381.0h0M787.8 383.3h0M789.8 380.2h0M791.2 384.9h0M791.8 395.8h0M792.7 394.1h0M794.5 388.9h0M794.6 385.9h0M795.4 381.9h0M795.0 381.0h0M797.7 374.1h0M793.7 377.3h0M798.0 379.4h0M798.2 384.0h0M798.4 379.7h0M801.1 383.0h0M799.8 381.3h0M801.6 383.1h0M801.2 384.9h0M801.3 384.2h0M803.4 384.3h0M803.8 391.0h0M805.3 349.3h0M806.9 351.4h0M808.7 354.1h0M804.7 358.5h0M804.0 362.4h0M804.4 358.3h0M806.5 360.1h0M807.3 359.2h0M806.5 361.2h0M808.4 361.2h0M809.6 357.2h0M810.3 359.6h0M812.6 364.7h0M811.7 367.9h0M811.7 367.8h0M812.5 369.0h0M814.5 372.4h0M814.9 370.0h0M816.5 357.5h0M816.1 353.5h0M816.1 350.7h0M817.3 351.0h0M818.9 344.4h0M819.4 339.4h0M821.1 339.1h0M820.6 341.7h0M820.6 347.8h0M821.8 352.4h0M821.0 359.4h0M821.3 361.8h0M821.4 363.6h0M820.2 369.9h0M824.7 372.7h0M824.8 371.5h0M823.1 363.8h0M825.0 360.1h0M825.6 360.9h0M826.7 362.3h0M826.6 359.8h0M826.5 350.4h0M827.7 345.4h0M830.0 342.6h0M829.6 340.8h0M831.7 337.7h0M832.3 336.4h0M831.7 332.5h0M832.5 333.1h0M833.1 331.5h0M834.4 327.1h0M835.1 332.4h0M833.7 336.8h0M832.1 336.9h0M834.1 338.5h0M836.0 342.0h0M837.0 339.2h0M835.5 340.5h0M837.4 341.4h0M838.8 337.9h0M840.3 339.9h0M840.0 341.0h0M842.1 342.3h0M843.3 342.8h0M842.3 341.8h0M843.7 343.6h0M843.5 349.7h0M842.4 352.5h0M841.3 350.0h0M839.3 352.7h0M840.0 355.0h0M830.7 339.8h0M831.5 339.3h0M830.3 338.3h0M831.4 336.4h0M833.7 339.0h0M834.2 331.7h0M836.2 329.3h0M835.4 331.3h0M835.9 334.7h0M838.0 332.7h0M837.5 332.9h0M837.2 336.1h0M838.0 336.7h0M836.1 340.6h0M838.1 343.5h0M836.2 343.2h0M835.5 341.6h0M838.2 345.0h0M838.6 339.8h0M839.8 341.5h0M839.9 340.4h0M840.6 339.9h0M841.7 344.0h0M842.2 342.0h0M843.3 341.4h0M843.4 342.1h0M841.7 344.7h0M846.2 343.4h0M844.8 349.2h0M844.3 347.1h0M843.0 350.1h0M841.9 348.9h0M840.7 349.5h0M843.2 352.8h0M840.0 352.0h0M855.7 293.8h0M854.1 300.9h0M854.2 308.0h0M856.4 314.5h0M857.2 321.6h0M859.0 331.4h0M860.3 336.1h0M861.2 343.8h0M846.5 305.6h0M846.9 313.6h0M846.2 321.4h0M847.0 324.0h0M850.4 314.0h0M850.7 315.4h0M852.0 319.4h0M851.4 320.3h0M850.4 323.1h0M851.9 322.8h0M853.0 326.0h0M859.6 340.2h0M859.0 346.0h0M859.3 347.2h0M858.8 351.5h0M860.6 354.7h0M862.1 354.1h0M861.8 353.9h0M862.8 354.1h0M863.5 353.9h0M865.0 354.4h0M865.9 353.3h0M866.9 351.9h0M867.3 355.9h0M868.6 354.4h0M870.4 357.0h0M870.3 357.4h0M868.1 359.1h0M867.7 358.5h0M868.1 357.6h0M866.9 358.8h0M865.9 358.5h0M863.5 360.4h0M863.3 360.9h0M861.5 362.1h0M861.7 361.4h0M861.3 361.1h0M860.7 361.5h0M859.0 361.8h0M859.5 360.7h0M860.1 365.3h0M860.5 362.6h0M862.1 363.2h0M864.0 363.8h0M862.4 363.5h0M864.8 361.3h0M865.3 362.5h0M865.9 364.3h0M866.4 363.7h0M867.3 364.1h0M869.4 363.2h0M870.6 364.8h0M869.7 363.2h0M870.7 365.6h0M869.9 365.7h0M870.0 367.0h0M868.5 368.6h0M867.0 368.3h0M866.4 368.2h0M865.3 367.9h0M865.4 370.8h0M864.8 371.7h0M863.8 372.5h0M874.3 225.0h0M874.6 225.3h0M875.5 225.6h0M875.0 225.3h0M876.1 225.8h0M876.4 226.2h0M876.4 226.5h0M877.5 226.2h0M878.1 225.8h0M878.0 226.1h0M878.1 225.5h0M879.2 225.0h0M879.4 225.8h0M880.1 224.7h0M880.5 224.8h0M880.4 226.1h0M881.2 226.1h0M881.9 226.0h0M882.2 225.0h0M883.0 224.7h0M883.2 226.5h0M883.5 225.0h0M884.0 225.3h0M884.9 226.0h0M885.5 226.1h0M885.9 224.7h0M885.6 225.7h0M886.3 225.9h0M888.1 226.2h0M887.0 225.7h0M888.0 226.0h0M888.3 224.8h0M888.4 225.4h0M889.0 225.7h0M889.5 225.6h0M890.3 226.2h0M890.8 225.8h0M891.0 225.8h0M891.0 518.2h0M891.5 518.2h0M892.0 518.2h0M892.3 518.2h0M892.8 518.2h0M893.1 518.2h0M893.7 518.2h0M894.1 518.2h0M894.6 518.2h0M895.0 518.2h0M895.5 518.2h0M896.0 518.2h0M896.5 518.2h0M896.7 518.2h0M897.3 518.2h0M897.7 518.2h0M898.3 518.2h0M898.7 518.2h0M899.2 518.2h0M899.6 518.2h0M900.1 518.2h0M900.6 518.2h0M900.9 518.2h0M901.5 518.2h0M901.7 518.2h0M902.3 518.2h0M902.8 518.2h0M903.1 518.2h0M903.7 518.2h0M904.0 518.2h0M904.6 518.2h0M905.1 518.2h0M905.6 518.2h0M905.9 518.2h0M906.5 518.2h0M907.0 518.2h0M907.3 518.2h0M907.9 518.2h0M908.2 518.2h0M908.6 518.2h0M909.0 518.2h0M909.5 518.2h0M910.1 518.2h0M910.6 518.2h0M911.0 518.2h0M911.3 518.2h0M911.8 518.2h0M912.3 518.2h0M912.7 518.2h0M913.2 518.2h0M913.7 518.2h0M914.0 518.2h0M914.7 518.2h0M915.1 518.2h0M915.5 518.2h0M916.0 518.2h0M916.4 518.2h0M916.8 518.2h0M917.3 518.2h0M917.8 518.2h0M918.3 518.2h0M918.8 518.2h0M919.3 518.2h0M919.6 518.2h0M920.0 518.2h0M920.4 518.2h0M921.1 518.2h0M921.5 518.2h0M921.9 518.2h0M922.2 518.2h0M922.8 518.2h0M923.2 518.2h0M923.6 518.2h0M924.0 518.2h0M924.5 518.2h0M925.1 518.2h0M925.6 518.2h0M926.1 518.2h0M926.3 518.2h0M927.0 518.2h0M927.2 518.2h0M927.8 518.2h0M928.2 518.2h0M928.6 518.2h0M929.3 518.2h0M929.6 518.2h0M930.2 518.2h0M930.5 518.2h0M931.0 518.2h0M931.6 518.2h0M931.9 518.2h0M932.3 518.2h0M932.8 518.2h0M933.2 518.2h0M933.7 518.2h0M934.1 518.2h0M934.5 518.2h0" stroke="#000" stroke-width="5.5" stroke-linecap="round" fill="none"/>
<path d="M890.9 518.4H934.6" stroke="#000" stroke-width="6.7" stroke-linecap="round" fill="none"/>
<path d="M874.1 225.8H891" stroke="#000" stroke-width="6.1" stroke-linecap="round" fill="none"/>
<path d="M120.6 122.0L121.5 135.0L122.5 148.8L125.0 157.0L127.5 165.0L130.0 172.5L133.8 180.0L137.5 195.0L138.8 205.0L140.0 210.0L143.0 224.0L145.5 236.0L148.8 237.5L152.0 250.0L155.0 260.0L157.5 257.0L160.5 252.5L163.0 262.0L166.2 272.5L168.8 275.0L171.0 282.0L173.8 290.0L176.2 315.0L180.0 332.5L187.5 350.0L193.8 372.5L196.2 376.0L200.0 393.0L203.0 388.0L206.0 392.0L210.0 397.5L216.2 377.5L218.8 386.0L221.0 381.0L223.8 382.5L226.0 380.0L229.5 377.5L232.0 392.0L234.5 402.5L240.0 397.5L245.0 391.0L250.0 396.0L252.5 390.0L256.2 398.8L260.0 387.5L265.0 383.8L267.5 367.5L272.0 355.5L275.0 358.8L280.0 347.5L283.8 341.0L286.0 352.0L288.8 363.8L295.0 357.0L302.5 348.0L305.0 351.0L307.5 344.0L310.0 352.5L313.8 341.0L320.0 337.0L323.8 315.0L326.2 306.0L330.0 310.5L332.5 306.0L336.2 308.8L338.5 305.0L340.5 318.0L342.5 332.5L346.2 335.0L355.0 332.5L358.8 346.0L362.0 343.8L365.0 358.8L368.8 353.8L375.0 363.8L378.0 354.0L380.5 345.0L383.8 355.0L387.5 350.0L390.0 353.0L393.8 352.5L395.5 368.0L397.5 382.5L400.0 387.5L406.2 391.0L410.0 386.5L413.8 395.0L416.5 387.0L420.5 396.0L424.0 385.0L430.0 382.5L433.8 365.0L436.2 350.0L440.0 348.5L443.8 335.0L448.8 323.8L452.5 342.5L457.5 332.5L462.5 322.5L465.0 318.8L467.5 315.0L470.0 311.5L472.5 315.0L476.2 302.5L480.0 296.0L485.0 292.5L487.5 285.0L490.0 277.5L492.5 278.0L495.0 285.0L498.8 281.0L501.2 286.0L503.8 283.8L506.2 300.0L508.8 315.0L512.5 318.0L520.0 322.0L523.8 335.0L527.5 332.5L531.2 347.5L533.8 342.5L540.0 350.0L545.0 331.0L548.8 341.0L552.5 336.0L555.0 340.0L558.0 338.8L560.0 352.0L562.5 366.0L565.0 367.5L570.0 359.0L575.0 351.0L578.8 356.0L582.0 346.0L585.0 356.0L588.8 342.0L593.8 338.8L596.2 330.0L598.8 312.5L601.2 308.0L605.0 310.0L608.8 298.0L613.8 291.0L616.2 307.5L618.8 316.0L623.8 312.0L630.0 306.0L635.0 313.5L637.5 308.5L641.2 316.0L643.8 307.5L650.0 311.0L653.0 300.0L656.2 291.0L660.0 297.5L662.5 294.0L666.2 290.0L668.8 291.0L671.2 311.0L673.8 318.8L677.5 320.0L682.5 318.8L688.8 328.5L691.2 326.0L695.0 337.5L700.0 330.0L705.0 335.0L707.5 325.0L710.0 315.0L713.8 321.0L717.5 316.0L720.0 318.8L723.8 315.0L726.2 335.0L728.8 343.8L732.5 345.0L737.5 343.8L742.5 353.8L745.0 351.0L750.0 362.5L753.8 356.5L758.8 360.5L762.5 353.0L766.2 340.0L770.0 347.5L773.8 341.0L778.8 341.0L781.2 357.5L783.8 370.0L787.5 371.0L793.8 370.0L797.5 376.0L801.2 377.5L805.0 389.5L808.8 381.0L813.8 386.0L817.0 380.0L821.0 366.0L825.0 372.5L827.5 367.5L830.0 368.8L832.5 366.0L836.2 390.0L838.8 396.0L842.5 397.5L848.8 396.0L852.5 405.0L855.0 402.5L858.8 415.0L863.8 407.5L870.0 412.5L872.5 401.0L875.0 391.0L878.8 398.8L882.5 392.5L885.0 395.0L887.5 392.5L890.0 410.0L892.5 422.5L896.2 423.8L902.5 421.0L907.5 431.0L910.0 427.5L913.8 441.0L917.5 433.8L923.8 438.8L927.5 427.5L930.5 417.5L933.8 425.0L935.0 422.5" fill="none" stroke="#0072B2" stroke-width="2.35" stroke-linejoin="round" stroke-linecap="butt"/>
<path d="M935.2 365.5L935.6 425.9L935.9 364.8L936.3 424.3L936.6 364.2L937.0 423.7L937.3 363.8L937.7 424.6L938.0 365.4L938.4 422.8L938.7 365.1L939.1 421.9L939.4 365.4L939.8 422.7L940.1 364.9L940.5 422.8L940.8 366.2L941.2 422.4L941.5 364.4L941.9 421.9L942.2 365.4L942.6 421.9L942.9 366.0L943.3 419.8L943.6 363.9L944.0 421.1" fill="none" stroke="#0072B2" stroke-width="2.35" stroke-linejoin="round"/>
<path d="M936.6 518.4h0M938.0 518.4h0M939.3 518.4h0" stroke="#f00" stroke-width="6.6" stroke-linecap="round" fill="none"/>
</g>
<rect x="79.50" y="16.55" width="905.90" height="525.95" fill="none" stroke="#000" stroke-width="1.11"/>
<line x1="111.50" x2="111.50" y1="542.50" y2="547.36" stroke="#000" stroke-width="1.11"/>
<text x="111.50" y="561.50" font-size="14" fill="#000" text-anchor="middle" textLength="34.2" lengthAdjust="spacingAndGlyphs">2011</text>
<line x1="221.50" x2="221.50" y1="542.50" y2="547.36" stroke="#000" stroke-width="1.11"/>
<text x="221.50" y="561.50" font-size="14" fill="#000" text-anchor="middle" textLength="34.2" lengthAdjust="spacingAndGlyphs">2013</text>
<line x1="331.50" x2="331.50" y1="542.50" y2="547.36" stroke="#000" stroke-width="1.11"/>
<text x="331.50" y="561.50" font-size="14" fill="#000" text-anchor="middle" textLength="34.2" lengthAdjust="spacingAndGlyphs">2015</text>
<line x1="441.50" x2="441.50" y1="542.50" y2="547.36" stroke="#000" stroke-width="1.11"/>
<text x="441.50" y="561.50" font-size="14" fill="#000" text-anchor="middle" textLength="34.2" lengthAdjust="spacingAndGlyphs">2017</text>
<line x1="551.50" x2="551.50" y1="542.50" y2="547.36" stroke="#000" stroke-width="1.11"/>
<text x="551.50" y="561.50" font-size="14" fill="#000" text-anchor="middle" textLength="34.2" lengthAdjust="spacingAndGlyphs">2019</text>
<line x1="661.50" x2="661.50" y1="542.50" y2="547.36" stroke="#000" stroke-width="1.11"/>
<text x="661.50" y="561.50" font-size="14" fill="#000" text-anchor="middle" textLength="34.2" lengthAdjust="spacingAndGlyphs">2021</text>
<line x1="771.50" x2="771.50" y1="542.50" y2="547.36" stroke="#000" stroke-width="1.11"/>
<text x="771.50" y="561.50" font-size="14" fill="#000" text-anchor="middle" textLength="34.2" lengthAdjust="spacingAndGlyphs">2023</text>
<line x1="880.50" x2="880.50" y1="542.50" y2="547.36" stroke="#000" stroke-width="1.11"/>
<text x="880.50" y="561.50" font-size="14" fill="#000" text-anchor="middle" textLength="34.2" lengthAdjust="spacingAndGlyphs">2025</text>
<line x1="74.64" x2="79.50" y1="518.50" y2="518.50" stroke="#000" stroke-width="1.11"/>
<text x="69.30" y="523.10" font-size="14" fill="#000" text-anchor="end" textLength="7.6" lengthAdjust="spacingAndGlyphs">0</text>
<line x1="74.64" x2="79.50" y1="419.50" y2="419.50" stroke="#000" stroke-width="1.11"/>
<text x="69.30" y="424.10" font-size="14" fill="#000" text-anchor="end" textLength="34.2" lengthAdjust="spacingAndGlyphs">1000</text>
<line x1="74.64" x2="79.50" y1="319.50" y2="319.50" stroke="#000" stroke-width="1.11"/>
<text x="69.30" y="324.10" font-size="14" fill="#000" text-anchor="end" textLength="34.2" lengthAdjust="spacingAndGlyphs">2000</text>
<line x1="74.64" x2="79.50" y1="220.50" y2="220.50" stroke="#000" stroke-width="1.11"/>
<text x="69.30" y="225.10" font-size="14" fill="#000" text-anchor="end" textLength="34.2" lengthAdjust="spacingAndGlyphs">3000</text>
<line x1="74.64" x2="79.50" y1="121.50" y2="121.50" stroke="#000" stroke-width="1.11"/>
<text x="69.30" y="126.10" font-size="14" fill="#000" text-anchor="end" textLength="34.2" lengthAdjust="spacingAndGlyphs">4000</text>
<line x1="74.64" x2="79.50" y1="21.50" y2="21.50" stroke="#000" stroke-width="1.11"/>
<text x="69.30" y="26.10" font-size="14" fill="#000" text-anchor="end" textLength="34.2" lengthAdjust="spacingAndGlyphs">5000</text>
<text x="532.50" y="581.60" font-size="14" fill="#000" text-anchor="middle" textLength="14.4" lengthAdjust="spacingAndGlyphs">ds</text>
<text x="25.20" y="279.90" font-size="14" fill="#000" text-anchor="middle" textLength="7.4" lengthAdjust="spacingAndGlyphs" transform="rotate(-90 25.2 279.9)">y</text>
</svg></body></html>
